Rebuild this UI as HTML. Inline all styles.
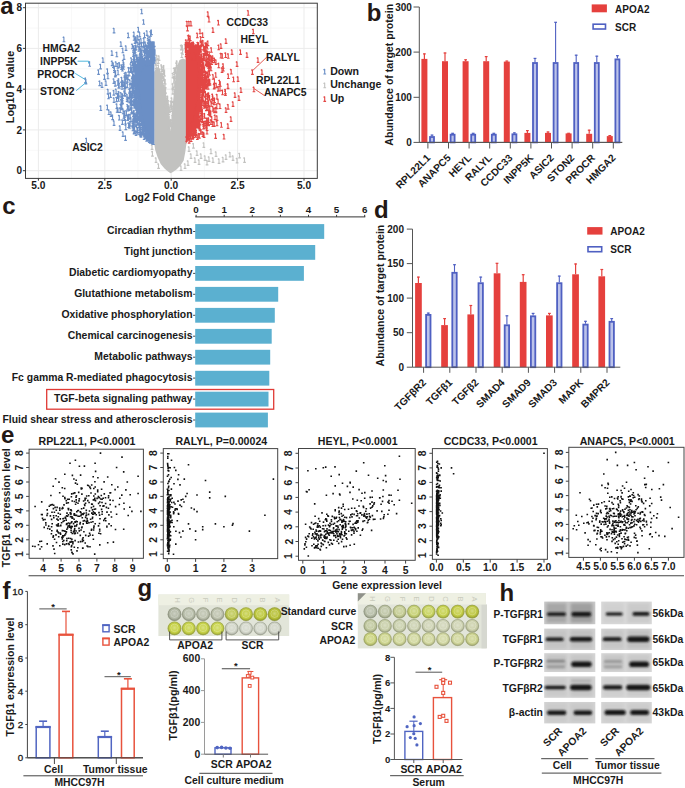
<!DOCTYPE html>
<html><head><meta charset="utf-8"><style>
html,body{margin:0;padding:0;background:#fff;}
body{width:685px;height:788px;overflow:hidden;}
svg{display:block;font-family:"Liberation Sans",sans-serif;font-weight:bold;}
</style></head><body>
<svg width="685" height="788" viewBox="0 0 685 788">
<line x1="71.6" y1="3.2" x2="71.6" y2="178.4" stroke="#f3f3f3" stroke-width="0.6"/>
<line x1="138" y1="3.2" x2="138" y2="178.4" stroke="#f3f3f3" stroke-width="0.6"/>
<line x1="204.4" y1="3.2" x2="204.4" y2="178.4" stroke="#f3f3f3" stroke-width="0.6"/>
<line x1="270.8" y1="3.2" x2="270.8" y2="178.4" stroke="#f3f3f3" stroke-width="0.6"/>
<line x1="25.5" y1="150.3" x2="317.3" y2="150.3" stroke="#f3f3f3" stroke-width="0.6"/>
<line x1="25.5" y1="109.6" x2="317.3" y2="109.6" stroke="#f3f3f3" stroke-width="0.6"/>
<line x1="25.5" y1="68.8" x2="317.3" y2="68.8" stroke="#f3f3f3" stroke-width="0.6"/>
<line x1="25.5" y1="28.1" x2="317.3" y2="28.1" stroke="#f3f3f3" stroke-width="0.6"/>
<line x1="38.4" y1="3.2" x2="38.4" y2="178.4" stroke="#ebebeb" stroke-width="1"/>
<line x1="104.8" y1="3.2" x2="104.8" y2="178.4" stroke="#ebebeb" stroke-width="1"/>
<line x1="171.2" y1="3.2" x2="171.2" y2="178.4" stroke="#ebebeb" stroke-width="1"/>
<line x1="237.6" y1="3.2" x2="237.6" y2="178.4" stroke="#ebebeb" stroke-width="1"/>
<line x1="304" y1="3.2" x2="304" y2="178.4" stroke="#ebebeb" stroke-width="1"/>
<line x1="25.5" y1="170.7" x2="317.3" y2="170.7" stroke="#ebebeb" stroke-width="1"/>
<line x1="25.5" y1="129.9" x2="317.3" y2="129.9" stroke="#ebebeb" stroke-width="1"/>
<line x1="25.5" y1="89.2" x2="317.3" y2="89.2" stroke="#ebebeb" stroke-width="1"/>
<line x1="25.5" y1="48.4" x2="317.3" y2="48.4" stroke="#ebebeb" stroke-width="1"/>
<line x1="25.5" y1="7.7" x2="317.3" y2="7.7" stroke="#ebebeb" stroke-width="1"/>
<path d="M154.3 72L156.5 67L159.5 68L161.5 75L163.5 84L166 93.3L167.6 105L168.6 115L169.5 124L170.4 131L171.2 124L172 112L173.2 100L174.5 88L175.8 76L177.2 66L179.5 60L183 58.5L186.4 60L186.4 144L185.3 152L183.7 160.5L180.5 165.5L176.5 169.5L172.5 172.3L170.5 173.2L168 171.5L164.5 168.5L160.7 164L157.5 157L155.2 150L154.3 144Z" stroke="none" fill="#c2c2c0" stroke-width="1"/>
<path d="M154.4 61L150 59.5L145 61L141 64L138.5 70L137 78L136.5 88L137.5 100L139.5 114L142.5 125L146.5 134L150.5 140.5L154.4 144Z" stroke="none" fill="#6b8fc6" stroke-width="1"/>
<path d="M185.9 55L189 50.5L194 50L198.5 54L200.3 62L200.3 80L199.5 100L197.5 112L194 124L190.5 134L187.5 141L185.9 144Z" stroke="none" fill="#e34644" stroke-width="1"/>
<path d="M193.4 143.1v5m-1.3 0h2.7M193.4 143.1l-1.2 1M203.8 142.4v5m-1.3 0h2.7M203.8 142.4l-1.2 1M211 148.6v5m-1.3 0h2.7M211 148.6l-1.2 1M216 151.4v5m-1.3 0h2.7M216 151.4l-1.2 1M230 151.9v5m-1.3 0h2.7M230 151.9l-1.2 1M226 154.4v5m-1.3 0h2.7M226 154.4l-1.2 1M244.5 157.4v5m-1.3 0h2.7M244.5 157.4l-1.2 1M197 150.4v5m-1.3 0h2.7M197 150.4l-1.2 1M201 153.4v5m-1.3 0h2.7M201 153.4l-1.2 1M205 155.4v5m-1.3 0h2.7M205 155.4l-1.2 1M209 156.4v5m-1.3 0h2.7M209 156.4l-1.2 1M213 157.4v5m-1.3 0h2.7M213 157.4l-1.2 1M219 158.4v5m-1.3 0h2.7M219 158.4l-1.2 1M223 156.9v5m-1.3 0h2.7M223 156.9l-1.2 1M233 155.4v5m-1.3 0h2.7M233 155.4l-1.2 1M237 157.9v5m-1.3 0h2.7M237 157.9l-1.2 1M189 146.4v5m-1.3 0h2.7M189 146.4l-1.2 1M191 153.4v5m-1.3 0h2.7M191 153.4l-1.2 1M195 157.4v5m-1.3 0h2.7M195 157.4l-1.2 1M188 160.4v5m-1.3 0h2.7M188 160.4l-1.2 1M199 159.4v5m-1.3 0h2.7M199 159.4l-1.2 1M207 159.9v5m-1.3 0h2.7M207 159.9l-1.2 1M185 163.4v5m-1.3 0h2.7M185 163.4l-1.2 1M181 165.4v5m-1.3 0h2.7M181 165.4l-1.2 1M239.5 152.9v5m-1.3 0h2.7M239.5 152.9l-1.2 1M152.4 151.1v5m-1.3 0h2.7M152.4 151.1l-1.2 1M152 144.4v5m-1.3 0h2.7M152 144.4l-1.2 1M156 157.4v5m-1.3 0h2.7M156 157.4l-1.2 1M158.5 163.4v5m-1.3 0h2.7M158.5 163.4l-1.2 1M164 75.8v5m-1.3 0h2.7M164 75.8l-1.2 1M165.1 82.6v5m-1.3 0h2.7M165.1 82.6l-1.2 1M163.4 66.4v5m-1.3 0h2.7M163.4 66.4l-1.2 1M163.7 68.7v5m-1.3 0h2.7M163.7 68.7l-1.2 1M167.7 112.7v5m-1.3 0h2.7M167.7 112.7l-1.2 1M169.4 107.4v5m-1.3 0h2.7M169.4 107.4l-1.2 1M174.8 73.9v5m-1.3 0h2.7M174.8 73.9l-1.2 1M161.8 75.2v5m-1.3 0h2.7M161.8 75.2l-1.2 1M169 106.3v5m-1.3 0h2.7M169 106.3l-1.2 1M165.4 98.6v5m-1.3 0h2.7M165.4 98.6l-1.2 1M168.1 99.9v5m-1.3 0h2.7M168.1 99.9l-1.2 1M175.4 68.4v5m-1.3 0h2.7M175.4 68.4l-1.2 1M174 78v5m-1.3 0h2.7M174 78l-1.2 1M171.6 103.1v5m-1.3 0h2.7M171.6 103.1l-1.2 1M163.4 85.7v5m-1.3 0h2.7M163.4 85.7l-1.2 1M169.3 115.7v5m-1.3 0h2.7M169.3 115.7l-1.2 1M174.8 67.5v5m-1.3 0h2.7M174.8 67.5l-1.2 1M163.9 92.9v5m-1.3 0h2.7M163.9 92.9l-1.2 1M162.5 80.6v5m-1.3 0h2.7M162.5 80.6l-1.2 1M167.1 107v5m-1.3 0h2.7M167.1 107l-1.2 1M172.5 119.5v5m-1.3 0h2.7M172.5 119.5l-1.2 1M167.9 116.4v5m-1.3 0h2.7M167.9 116.4l-1.2 1M176.4 62.3v5m-1.3 0h2.7M176.4 62.3l-1.2 1M165 83.2v5m-1.3 0h2.7M165 83.2l-1.2 1M168.8 105.9v5m-1.3 0h2.7M168.8 105.9l-1.2 1M172.7 83.3v5m-1.3 0h2.7M172.7 83.3l-1.2 1M176.2 67.9v5m-1.3 0h2.7M176.2 67.9l-1.2 1M165.6 106.7v5m-1.3 0h2.7M165.6 106.7l-1.2 1M161.9 70.9v5m-1.3 0h2.7M161.9 70.9l-1.2 1M163.8 85.1v5m-1.3 0h2.7M163.8 85.1l-1.2 1M168.2 101.9v5m-1.3 0h2.7M168.2 101.9l-1.2 1M171.8 97.5v5m-1.3 0h2.7M171.8 97.5l-1.2 1M173 88.7v5m-1.3 0h2.7M173 88.7l-1.2 1M177 60.5v5m-1.3 0h2.7M177 60.5l-1.2 1M165.2 79v5m-1.3 0h2.7M165.2 79l-1.2 1M165.5 99.9v5m-1.3 0h2.7M165.5 99.9l-1.2 1M174.2 67.6v5m-1.3 0h2.7M174.2 67.6l-1.2 1M169.3 119.8v5m-1.3 0h2.7M169.3 119.8l-1.2 1M168.3 105.6v5m-1.3 0h2.7M168.3 105.6l-1.2 1M166.9 114.3v5m-1.3 0h2.7M166.9 114.3l-1.2 1M171.3 121.9v5m-1.3 0h2.7M171.3 121.9l-1.2 1M173.5 105.4v5m-1.3 0h2.7M173.5 105.4l-1.2 1M165 101.2v5m-1.3 0h2.7M165 101.2l-1.2 1M167.4 105.8v5m-1.3 0h2.7M167.4 105.8l-1.2 1M170.4 120.7v5m-1.3 0h2.7M170.4 120.7l-1.2 1M176.9 63.2v5m-1.3 0h2.7M176.9 63.2l-1.2 1M176.4 77.4v5m-1.3 0h2.7M176.4 77.4l-1.2 1M171.5 101.8v5m-1.3 0h2.7M171.5 101.8l-1.2 1M161.4 64.3v5m-1.3 0h2.7M161.4 64.3l-1.2 1M161.6 73.5v5m-1.3 0h2.7M161.6 73.5l-1.2 1M171 106.4v5m-1.3 0h2.7M171 106.4l-1.2 1M174.4 76.1v5m-1.3 0h2.7M174.4 76.1l-1.2 1M168.6 121.2v5m-1.3 0h2.7M168.6 121.2l-1.2 1M169.2 117.9v5m-1.3 0h2.7M169.2 117.9l-1.2 1M174.3 82.1v5m-1.3 0h2.7M174.3 82.1l-1.2 1M168.6 109.8v5m-1.3 0h2.7M168.6 109.8l-1.2 1M167.6 99.3v5m-1.3 0h2.7M167.6 99.3l-1.2 1M167.7 114.4v5m-1.3 0h2.7M167.7 114.4l-1.2 1M162.6 83.8v5m-1.3 0h2.7M162.6 83.8l-1.2 1M164.5 78.7v5m-1.3 0h2.7M164.5 78.7l-1.2 1M164.5 89.5v5m-1.3 0h2.7M164.5 89.5l-1.2 1M164 90.9v5m-1.3 0h2.7M164 90.9l-1.2 1M163.8 65.1v5m-1.3 0h2.7M163.8 65.1l-1.2 1M168.7 109.2v5m-1.3 0h2.7M168.7 109.2l-1.2 1M169 124.1v5m-1.3 0h2.7M169 124.1l-1.2 1M164.3 92.2v5m-1.3 0h2.7M164.3 92.2l-1.2 1M167.7 95.7v5m-1.3 0h2.7M167.7 95.7l-1.2 1M174.2 102.3v5m-1.3 0h2.7M174.2 102.3l-1.2 1M165.9 102.8v5m-1.3 0h2.7M165.9 102.8l-1.2 1M163.6 69.4v5m-1.3 0h2.7M163.6 69.4l-1.2 1M167.3 115v5m-1.3 0h2.7M167.3 115l-1.2 1M174.2 101.9v5m-1.3 0h2.7M174.2 101.9l-1.2 1M176.3 71.3v5m-1.3 0h2.7M176.3 71.3l-1.2 1M166.5 108.7v5m-1.3 0h2.7M166.5 108.7l-1.2 1M167.9 114v5m-1.3 0h2.7M167.9 114l-1.2 1M167.4 96.2v5m-1.3 0h2.7M167.4 96.2l-1.2 1M163.6 76v5m-1.3 0h2.7M163.6 76l-1.2 1M173.3 101.2v5m-1.3 0h2.7M173.3 101.2l-1.2 1M171 119.2v5m-1.3 0h2.7M171 119.2l-1.2 1M164.8 92.9v5m-1.3 0h2.7M164.8 92.9l-1.2 1M167.1 98.2v5m-1.3 0h2.7M167.1 98.2l-1.2 1M164.6 71v5m-1.3 0h2.7M164.6 71l-1.2 1M161.8 66.2v5m-1.3 0h2.7M161.8 66.2l-1.2 1M172.9 72.8v5m-1.3 0h2.7M172.9 72.8l-1.2 1M172.5 115.1v5m-1.3 0h2.7M172.5 115.1l-1.2 1M165.6 88.1v5m-1.3 0h2.7M165.6 88.1l-1.2 1M165.1 93.9v5m-1.3 0h2.7M165.1 93.9l-1.2 1M174.8 88.9v5m-1.3 0h2.7M174.8 88.9l-1.2 1M168.3 119.2v5m-1.3 0h2.7M168.3 119.2l-1.2 1M172.9 89.2v5m-1.3 0h2.7M172.9 89.2l-1.2 1M162.3 73.1v5m-1.3 0h2.7M162.3 73.1l-1.2 1M175.1 90.3v5m-1.3 0h2.7M175.1 90.3l-1.2 1M173.1 116.7v5m-1.3 0h2.7M173.1 116.7l-1.2 1M170.8 100.7v5m-1.3 0h2.7M170.8 100.7l-1.2 1M171.4 104.4v5m-1.3 0h2.7M171.4 104.4l-1.2 1M158.4 64.6v5m-1.3 0h2.7M158.4 64.6l-1.2 1M181.8 52.5v5m-1.3 0h2.7M181.8 52.5l-1.2 1M156.8 54.9v5m-1.3 0h2.7M156.8 54.9l-1.2 1M185.1 43.8v5m-1.3 0h2.7M185.1 43.8l-1.2 1M156.1 60.3v5m-1.3 0h2.7M156.1 60.3l-1.2 1M181.6 44.6v5m-1.3 0h2.7M181.6 44.6l-1.2 1M159 55.4v5m-1.3 0h2.7M159 55.4l-1.2 1M182.6 49.2v5m-1.3 0h2.7M182.6 49.2l-1.2 1M158.2 58.4v5m-1.3 0h2.7M158.2 58.4l-1.2 1M181.2 45v5m-1.3 0h2.7M181.2 45l-1.2 1M156.1 63.6v5m-1.3 0h2.7M156.1 63.6l-1.2 1M182.4 45v5m-1.3 0h2.7M182.4 45l-1.2 1" stroke="#c2c2c0" fill="none" stroke-width="1.1"/>
<path d="M138.1 73.5v5m-1.3 0h2.7M138.1 73.5l-1.2 1M140.1 105.8v5m-1.3 0h2.7M140.1 105.8l-1.2 1M135.6 94.5v5m-1.3 0h2.7M135.6 94.5l-1.2 1M150.7 47.1v5m-1.3 0h2.7M150.7 47.1l-1.2 1M151.9 45.1v5m-1.3 0h2.7M151.9 45.1l-1.2 1M154.2 48.3v5m-1.3 0h2.7M154.2 48.3l-1.2 1M124.6 83.4v5m-1.3 0h2.7M124.6 83.4l-1.2 1M154.2 53.7v5m-1.3 0h2.7M154.2 53.7l-1.2 1M116.8 103.5v5m-1.3 0h2.7M116.8 103.5l-1.2 1M135.6 98.5v5m-1.3 0h2.7M135.6 98.5l-1.2 1M152.3 138v5m-1.3 0h2.7M152.3 138l-1.2 1M143.5 126.4v5m-1.3 0h2.7M143.5 126.4l-1.2 1M154.2 55.7v5m-1.3 0h2.7M154.2 55.7l-1.2 1M126.1 71.9v5m-1.3 0h2.7M126.1 71.9l-1.2 1M138.8 59.3v5m-1.3 0h2.7M138.8 59.3l-1.2 1M136.8 104.7v5m-1.3 0h2.7M136.8 104.7l-1.2 1M138.8 95.6v5m-1.3 0h2.7M138.8 95.6l-1.2 1M154.2 47.3v5m-1.3 0h2.7M154.2 47.3l-1.2 1M136.7 108.8v5m-1.3 0h2.7M136.7 108.8l-1.2 1M132.5 72.5v5m-1.3 0h2.7M132.5 72.5l-1.2 1M135.7 86.3v5m-1.3 0h2.7M135.7 86.3l-1.2 1M134.3 120v5m-1.3 0h2.7M134.3 120l-1.2 1M134.4 65.6v5m-1.3 0h2.7M134.4 65.6l-1.2 1M122.5 93.4v5m-1.3 0h2.7M122.5 93.4l-1.2 1M139.4 113.6v5m-1.3 0h2.7M139.4 113.6l-1.2 1M152.1 138.4v5m-1.3 0h2.7M152.1 138.4l-1.2 1M127.3 82.8v5m-1.3 0h2.7M127.3 82.8l-1.2 1M151 56.4v5m-1.3 0h2.7M151 56.4l-1.2 1M147.6 45.3v5m-1.3 0h2.7M147.6 45.3l-1.2 1M136.2 117.1v5m-1.3 0h2.7M136.2 117.1l-1.2 1M144 128.1v5m-1.3 0h2.7M144 128.1l-1.2 1M134.1 110.2v5m-1.3 0h2.7M134.1 110.2l-1.2 1M134.8 98.8v5m-1.3 0h2.7M134.8 98.8l-1.2 1M130 88.3v5m-1.3 0h2.7M130 88.3l-1.2 1M146.7 47.4v5m-1.3 0h2.7M146.7 47.4l-1.2 1M100.8 105.5v5m-1.3 0h2.7M100.8 105.5l-1.2 1M142 122.8v5m-1.3 0h2.7M142 122.8l-1.2 1M130 79.6v5m-1.3 0h2.7M130 79.6l-1.2 1M151.4 43.6v5m-1.3 0h2.7M151.4 43.6l-1.2 1M154.2 58v5m-1.3 0h2.7M154.2 58l-1.2 1M144.7 47.2v5m-1.3 0h2.7M144.7 47.2l-1.2 1M154.1 54.2v5m-1.3 0h2.7M154.1 54.2l-1.2 1M122.4 80.1v5m-1.3 0h2.7M122.4 80.1l-1.2 1M151.6 49.4v5m-1.3 0h2.7M151.6 49.4l-1.2 1M122.2 95.8v5m-1.3 0h2.7M122.2 95.8l-1.2 1M128.6 122.5v5m-1.3 0h2.7M128.6 122.5l-1.2 1M135.9 69v5m-1.3 0h2.7M135.9 69l-1.2 1M121.7 76.9v5m-1.3 0h2.7M121.7 76.9l-1.2 1M150.2 136.2v5m-1.3 0h2.7M150.2 136.2l-1.2 1M144.3 58.8v5m-1.3 0h2.7M144.3 58.8l-1.2 1M136.4 64.5v5m-1.3 0h2.7M136.4 64.5l-1.2 1M137.4 99.7v5m-1.3 0h2.7M137.4 99.7l-1.2 1M152.1 41.8v5m-1.3 0h2.7M152.1 41.8l-1.2 1M132.2 78v5m-1.3 0h2.7M132.2 78l-1.2 1M131.4 92.4v5m-1.3 0h2.7M131.4 92.4l-1.2 1M140.6 108.3v5m-1.3 0h2.7M140.6 108.3l-1.2 1M136 130.5v5m-1.3 0h2.7M136 130.5l-1.2 1M134.2 128v5m-1.3 0h2.7M134.2 128l-1.2 1M134.7 80.2v5m-1.3 0h2.7M134.7 80.2l-1.2 1M148.4 51.7v5m-1.3 0h2.7M148.4 51.7l-1.2 1M154.2 47.6v5m-1.3 0h2.7M154.2 47.6l-1.2 1M141.3 62.1v5m-1.3 0h2.7M141.3 62.1l-1.2 1M138.6 75.1v5m-1.3 0h2.7M138.6 75.1l-1.2 1M154.2 41.4v5m-1.3 0h2.7M154.2 41.4l-1.2 1M152.8 51.4v5m-1.3 0h2.7M152.8 51.4l-1.2 1M139.8 43.9v5m-1.3 0h2.7M139.8 43.9l-1.2 1M138.9 102.2v5m-1.3 0h2.7M138.9 102.2l-1.2 1M137.5 66.4v5m-1.3 0h2.7M137.5 66.4l-1.2 1M137.8 77.5v5m-1.3 0h2.7M137.8 77.5l-1.2 1M133.4 87.5v5m-1.3 0h2.7M133.4 87.5l-1.2 1M154.2 49.9v5m-1.3 0h2.7M154.2 49.9l-1.2 1M136.6 75.3v5m-1.3 0h2.7M136.6 75.3l-1.2 1M143.6 123.5v5m-1.3 0h2.7M143.6 123.5l-1.2 1M132.3 43.7v5m-1.3 0h2.7M132.3 43.7l-1.2 1M137.9 93.7v5m-1.3 0h2.7M137.9 93.7l-1.2 1M139.1 95.2v5m-1.3 0h2.7M139.1 95.2l-1.2 1M108.5 93.7v5m-1.3 0h2.7M108.5 93.7l-1.2 1M137 126.9v5m-1.3 0h2.7M137 126.9l-1.2 1M136.9 67.3v5m-1.3 0h2.7M136.9 67.3l-1.2 1M143.2 57.9v5m-1.3 0h2.7M143.2 57.9l-1.2 1M127.1 94.1v5m-1.3 0h2.7M127.1 94.1l-1.2 1M137.2 74v5m-1.3 0h2.7M137.2 74l-1.2 1M132.9 125.8v5m-1.3 0h2.7M132.9 125.8l-1.2 1M133.7 122.4v5m-1.3 0h2.7M133.7 122.4l-1.2 1M136.1 63.8v5m-1.3 0h2.7M136.1 63.8l-1.2 1M138.7 76.6v5m-1.3 0h2.7M138.7 76.6l-1.2 1M153.8 44.2v5m-1.3 0h2.7M153.8 44.2l-1.2 1M131.2 67.1v5m-1.3 0h2.7M131.2 67.1l-1.2 1M146.6 136.1v5m-1.3 0h2.7M146.6 136.1l-1.2 1M147.7 135.9v5m-1.3 0h2.7M147.7 135.9l-1.2 1M140.2 63.2v5m-1.3 0h2.7M140.2 63.2l-1.2 1M141.9 60.9v5m-1.3 0h2.7M141.9 60.9l-1.2 1M121.9 103.2v5m-1.3 0h2.7M121.9 103.2l-1.2 1M140.3 124.6v5m-1.3 0h2.7M140.3 124.6l-1.2 1M127.9 106v5m-1.3 0h2.7M127.9 106l-1.2 1M147.8 49.8v5m-1.3 0h2.7M147.8 49.8l-1.2 1M137.5 115.7v5m-1.3 0h2.7M137.5 115.7l-1.2 1M133.6 59.1v5m-1.3 0h2.7M133.6 59.1l-1.2 1M126.3 74.3v5m-1.3 0h2.7M126.3 74.3l-1.2 1M115.2 81.1v5m-1.3 0h2.7M115.2 81.1l-1.2 1M140.5 113.2v5m-1.3 0h2.7M140.5 113.2l-1.2 1M154.2 54v5m-1.3 0h2.7M154.2 54l-1.2 1M142.4 55.9v5m-1.3 0h2.7M142.4 55.9l-1.2 1M132.6 76.1v5m-1.3 0h2.7M132.6 76.1l-1.2 1M154.2 54.4v5m-1.3 0h2.7M154.2 54.4l-1.2 1M117.5 93.5v5m-1.3 0h2.7M117.5 93.5l-1.2 1M122.1 84.3v5m-1.3 0h2.7M122.1 84.3l-1.2 1M143 123.2v5m-1.3 0h2.7M143 123.2l-1.2 1M138.2 66.3v5m-1.3 0h2.7M138.2 66.3l-1.2 1M134.3 65.2v5m-1.3 0h2.7M134.3 65.2l-1.2 1M136.3 67.1v5m-1.3 0h2.7M136.3 67.1l-1.2 1M137.1 54.4v5m-1.3 0h2.7M137.1 54.4l-1.2 1M134 76.4v5m-1.3 0h2.7M134 76.4l-1.2 1M121 99.2v5m-1.3 0h2.7M121 99.2l-1.2 1M118.6 83v5m-1.3 0h2.7M118.6 83l-1.2 1M132.9 91.1v5m-1.3 0h2.7M132.9 91.1l-1.2 1M139 93.2v5m-1.3 0h2.7M139 93.2l-1.2 1M136.9 85v5m-1.3 0h2.7M136.9 85l-1.2 1M143.6 41.8v5m-1.3 0h2.7M143.6 41.8l-1.2 1M141.8 58.5v5m-1.3 0h2.7M141.8 58.5l-1.2 1M135.5 113.2v5m-1.3 0h2.7M135.5 113.2l-1.2 1M133.5 73.7v5m-1.3 0h2.7M133.5 73.7l-1.2 1M127.1 96.4v5m-1.3 0h2.7M127.1 96.4l-1.2 1M149.8 51.9v5m-1.3 0h2.7M149.8 51.9l-1.2 1M138.5 66v5m-1.3 0h2.7M138.5 66l-1.2 1M137.6 117.9v5m-1.3 0h2.7M137.6 117.9l-1.2 1M128.1 97v5m-1.3 0h2.7M128.1 97l-1.2 1M144 131.7v5m-1.3 0h2.7M144 131.7l-1.2 1M134.5 102v5m-1.3 0h2.7M134.5 102l-1.2 1M129.6 92.1v5m-1.3 0h2.7M129.6 92.1l-1.2 1M132.5 86.2v5m-1.3 0h2.7M132.5 86.2l-1.2 1M116.1 88.7v5m-1.3 0h2.7M116.1 88.7l-1.2 1M124.7 110.6v5m-1.3 0h2.7M124.7 110.6l-1.2 1M148.1 134.7v5m-1.3 0h2.7M148.1 134.7l-1.2 1M116.5 96.8v5m-1.3 0h2.7M116.5 96.8l-1.2 1M144.3 124.6v5m-1.3 0h2.7M144.3 124.6l-1.2 1M151.7 53.4v5m-1.3 0h2.7M151.7 53.4l-1.2 1M154.2 48.6v5m-1.3 0h2.7M154.2 48.6l-1.2 1M147.5 48.6v5m-1.3 0h2.7M147.5 48.6l-1.2 1M125.4 119v5m-1.3 0h2.7M125.4 119l-1.2 1M146.3 56.7v5m-1.3 0h2.7M146.3 56.7l-1.2 1M139.6 106.8v5m-1.3 0h2.7M139.6 106.8l-1.2 1M117.9 63.1v5m-1.3 0h2.7M117.9 63.1l-1.2 1M133.4 80.8v5m-1.3 0h2.7M133.4 80.8l-1.2 1M148.9 57.4v5m-1.3 0h2.7M148.9 57.4l-1.2 1M135.8 92.4v5m-1.3 0h2.7M135.8 92.4l-1.2 1M140.8 60.8v5m-1.3 0h2.7M140.8 60.8l-1.2 1M141.7 112.9v5m-1.3 0h2.7M141.7 112.9l-1.2 1M134.8 96.3v5m-1.3 0h2.7M134.8 96.3l-1.2 1M153.2 43.2v5m-1.3 0h2.7M153.2 43.2l-1.2 1M134.6 103.2v5m-1.3 0h2.7M134.6 103.2l-1.2 1M122.8 47.8v5m-1.3 0h2.7M122.8 47.8l-1.2 1M153.9 51.8v5m-1.3 0h2.7M153.9 51.8l-1.2 1M144.3 45.3v5m-1.3 0h2.7M144.3 45.3l-1.2 1M139.2 68.2v5m-1.3 0h2.7M139.2 68.2l-1.2 1M119.2 83.2v5m-1.3 0h2.7M119.2 83.2l-1.2 1M142.1 122.5v5m-1.3 0h2.7M142.1 122.5l-1.2 1M136.3 56.2v5m-1.3 0h2.7M136.3 56.2l-1.2 1M129.9 97.9v5m-1.3 0h2.7M129.9 97.9l-1.2 1M154.2 50.3v5m-1.3 0h2.7M154.2 50.3l-1.2 1M136.8 109.5v5m-1.3 0h2.7M136.8 109.5l-1.2 1M134.1 48.6v5m-1.3 0h2.7M134.1 48.6l-1.2 1M127.5 104.2v5m-1.3 0h2.7M127.5 104.2l-1.2 1M140.9 49.7v5m-1.3 0h2.7M140.9 49.7l-1.2 1M140.5 48v5m-1.3 0h2.7M140.5 48l-1.2 1M135.3 86.3v5m-1.3 0h2.7M135.3 86.3l-1.2 1M118.5 96.2v5m-1.3 0h2.7M118.5 96.2l-1.2 1M139.3 67.9v5m-1.3 0h2.7M139.3 67.9l-1.2 1M137 93.6v5m-1.3 0h2.7M137 93.6l-1.2 1M154.2 52.2v5m-1.3 0h2.7M154.2 52.2l-1.2 1M154.2 46.4v5m-1.3 0h2.7M154.2 46.4l-1.2 1M136.7 72.3v5m-1.3 0h2.7M136.7 72.3l-1.2 1M140.2 116.6v5m-1.3 0h2.7M140.2 116.6l-1.2 1M137.4 90.9v5m-1.3 0h2.7M137.4 90.9l-1.2 1M138.8 75.8v5m-1.3 0h2.7M138.8 75.8l-1.2 1M140.9 66.2v5m-1.3 0h2.7M140.9 66.2l-1.2 1M135.8 114v5m-1.3 0h2.7M135.8 114l-1.2 1M139.5 60.2v5m-1.3 0h2.7M139.5 60.2l-1.2 1M149.2 133.9v5m-1.3 0h2.7M149.2 133.9l-1.2 1M140 122.5v5m-1.3 0h2.7M140 122.5l-1.2 1M124.5 90.4v5m-1.3 0h2.7M124.5 90.4l-1.2 1M133.1 80.3v5m-1.3 0h2.7M133.1 80.3l-1.2 1M108.9 109.5v5m-1.3 0h2.7M108.9 109.5l-1.2 1M124.7 75.3v5m-1.3 0h2.7M124.7 75.3l-1.2 1M133.4 111.4v5m-1.3 0h2.7M133.4 111.4l-1.2 1M135.3 81.5v5m-1.3 0h2.7M135.3 81.5l-1.2 1M154.2 46.8v5m-1.3 0h2.7M154.2 46.8l-1.2 1M145.6 48.4v5m-1.3 0h2.7M145.6 48.4l-1.2 1M139.4 66.7v5m-1.3 0h2.7M139.4 66.7l-1.2 1M141.7 49.8v5m-1.3 0h2.7M141.7 49.8l-1.2 1M137.9 127.6v5m-1.3 0h2.7M137.9 127.6l-1.2 1M137.9 69.3v5m-1.3 0h2.7M137.9 69.3l-1.2 1M135 70.4v5m-1.3 0h2.7M135 70.4l-1.2 1M147.6 57v5m-1.3 0h2.7M147.6 57l-1.2 1M114.4 67.5v5m-1.3 0h2.7M114.4 67.5l-1.2 1M114.3 65.6v5m-1.3 0h2.7M114.3 65.6l-1.2 1M136.1 72v5m-1.3 0h2.7M136.1 72l-1.2 1M152.6 41.5v5m-1.3 0h2.7M152.6 41.5l-1.2 1M133.2 88.4v5m-1.3 0h2.7M133.2 88.4l-1.2 1M137.5 61.3v5m-1.3 0h2.7M137.5 61.3l-1.2 1M153.9 41.9v5m-1.3 0h2.7M153.9 41.9l-1.2 1M152.3 50.3v5m-1.3 0h2.7M152.3 50.3l-1.2 1M154.2 45.5v5m-1.3 0h2.7M154.2 45.5l-1.2 1M137.6 71.5v5m-1.3 0h2.7M137.6 71.5l-1.2 1M133.8 99.4v5m-1.3 0h2.7M133.8 99.4l-1.2 1M134.1 115.7v5m-1.3 0h2.7M134.1 115.7l-1.2 1M124.8 112.3v5m-1.3 0h2.7M124.8 112.3l-1.2 1M135.6 80v5m-1.3 0h2.7M135.6 80l-1.2 1M152.3 138.9v5m-1.3 0h2.7M152.3 138.9l-1.2 1M133.7 113.1v5m-1.3 0h2.7M133.7 113.1l-1.2 1M142 45.7v5m-1.3 0h2.7M142 45.7l-1.2 1M139.8 129.7v5m-1.3 0h2.7M139.8 129.7l-1.2 1M128.8 114.1v5m-1.3 0h2.7M128.8 114.1l-1.2 1M150.5 55.2v5m-1.3 0h2.7M150.5 55.2l-1.2 1M124.6 91.3v5m-1.3 0h2.7M124.6 91.3l-1.2 1M130.1 121.1v5m-1.3 0h2.7M130.1 121.1l-1.2 1M121.9 99.2v5m-1.3 0h2.7M121.9 99.2l-1.2 1M131.7 109v5m-1.3 0h2.7M131.7 109l-1.2 1M141.6 64.2v5m-1.3 0h2.7M141.6 64.2l-1.2 1M152.8 54.6v5m-1.3 0h2.7M152.8 54.6l-1.2 1M141.9 51.8v5m-1.3 0h2.7M141.9 51.8l-1.2 1M131.5 96.7v5m-1.3 0h2.7M131.5 96.7l-1.2 1M131.2 103.4v5m-1.3 0h2.7M131.2 103.4l-1.2 1M138.8 89.8v5m-1.3 0h2.7M138.8 89.8l-1.2 1M132.9 120.4v5m-1.3 0h2.7M132.9 120.4l-1.2 1M132.9 91.2v5m-1.3 0h2.7M132.9 91.2l-1.2 1M140.3 106.7v5m-1.3 0h2.7M140.3 106.7l-1.2 1M140 114.3v5m-1.3 0h2.7M140 114.3l-1.2 1M153.9 48.8v5m-1.3 0h2.7M153.9 48.8l-1.2 1M140.3 113.6v5m-1.3 0h2.7M140.3 113.6l-1.2 1M112.6 114.6v5m-1.3 0h2.7M112.6 114.6l-1.2 1M135.1 90.3v5m-1.3 0h2.7M135.1 90.3l-1.2 1M129.6 88.8v5m-1.3 0h2.7M129.6 88.8l-1.2 1M135.4 117.3v5m-1.3 0h2.7M135.4 117.3l-1.2 1M139.9 105v5m-1.3 0h2.7M139.9 105l-1.2 1M154.1 56v5m-1.3 0h2.7M154.1 56l-1.2 1M139.6 115v5m-1.3 0h2.7M139.6 115l-1.2 1M139.4 97.6v5m-1.3 0h2.7M139.4 97.6l-1.2 1M153.9 47.4v5m-1.3 0h2.7M153.9 47.4l-1.2 1M131.6 107.9v5m-1.3 0h2.7M131.6 107.9l-1.2 1M138.3 108.3v5m-1.3 0h2.7M138.3 108.3l-1.2 1M134.1 92.5v5m-1.3 0h2.7M134.1 92.5l-1.2 1M137.7 87.6v5m-1.3 0h2.7M137.7 87.6l-1.2 1M146 129.9v5m-1.3 0h2.7M146 129.9l-1.2 1M151.5 43.1v5m-1.3 0h2.7M151.5 43.1l-1.2 1M136 85.9v5m-1.3 0h2.7M136 85.9l-1.2 1M119.4 62.2v5m-1.3 0h2.7M119.4 62.2l-1.2 1M135.7 62.3v5m-1.3 0h2.7M135.7 62.3l-1.2 1M150.5 55.4v5m-1.3 0h2.7M150.5 55.4l-1.2 1M150 135.7v5m-1.3 0h2.7M150 135.7l-1.2 1M138.9 122.6v5m-1.3 0h2.7M138.9 122.6l-1.2 1M137.8 129.2v5m-1.3 0h2.7M137.8 129.2l-1.2 1M123.5 64.3v5m-1.3 0h2.7M123.5 64.3l-1.2 1M138.6 89.5v5m-1.3 0h2.7M138.6 89.5l-1.2 1M151 41.8v5m-1.3 0h2.7M151 41.8l-1.2 1M135.7 86v5m-1.3 0h2.7M135.7 86l-1.2 1M153 55.3v5m-1.3 0h2.7M153 55.3l-1.2 1M124.8 72.7v5m-1.3 0h2.7M124.8 72.7l-1.2 1M145.3 41.6v5m-1.3 0h2.7M145.3 41.6l-1.2 1M144.4 124.5v5m-1.3 0h2.7M144.4 124.5l-1.2 1M145.4 130.7v5m-1.3 0h2.7M145.4 130.7l-1.2 1M134.9 78.2v5m-1.3 0h2.7M134.9 78.2l-1.2 1M134.4 77.1v5m-1.3 0h2.7M134.4 77.1l-1.2 1M139.9 68.6v5m-1.3 0h2.7M139.9 68.6l-1.2 1M142 51.5v5m-1.3 0h2.7M142 51.5l-1.2 1M118.1 69.7v5m-1.3 0h2.7M118.1 69.7l-1.2 1M138.6 66.1v5m-1.3 0h2.7M138.6 66.1l-1.2 1M137.4 92v5m-1.3 0h2.7M137.4 92l-1.2 1M113.8 78.4v5m-1.3 0h2.7M113.8 78.4l-1.2 1M134 128.9v5m-1.3 0h2.7M134 128.9l-1.2 1M120.8 103.9v5m-1.3 0h2.7M120.8 103.9l-1.2 1M144.1 134.5v5m-1.3 0h2.7M144.1 134.5l-1.2 1M141.4 112.6v5m-1.3 0h2.7M141.4 112.6l-1.2 1M137.4 113.9v5m-1.3 0h2.7M137.4 113.9l-1.2 1M134.5 115.9v5m-1.3 0h2.7M134.5 115.9l-1.2 1M139.7 69.7v5m-1.3 0h2.7M139.7 69.7l-1.2 1M148.5 133.2v5m-1.3 0h2.7M148.5 133.2l-1.2 1M135.4 88.1v5m-1.3 0h2.7M135.4 88.1l-1.2 1M129.1 70.9v5m-1.3 0h2.7M129.1 70.9l-1.2 1M150.3 138.1v5m-1.3 0h2.7M150.3 138.1l-1.2 1M137.9 106.3v5m-1.3 0h2.7M137.9 106.3l-1.2 1M135.4 96.6v5m-1.3 0h2.7M135.4 96.6l-1.2 1M153.7 58v5m-1.3 0h2.7M153.7 58l-1.2 1M123.8 62v5m-1.3 0h2.7M123.8 62l-1.2 1M136.9 90.6v5m-1.3 0h2.7M136.9 90.6l-1.2 1M137.3 85.9v5m-1.3 0h2.7M137.3 85.9l-1.2 1M143.5 60.4v5m-1.3 0h2.7M143.5 60.4l-1.2 1M138.3 75.3v5m-1.3 0h2.7M138.3 75.3l-1.2 1M139.1 65.1v5m-1.3 0h2.7M139.1 65.1l-1.2 1M122.1 97.8v5m-1.3 0h2.7M122.1 97.8l-1.2 1M138.4 115.6v5m-1.3 0h2.7M138.4 115.6l-1.2 1M132.7 82.4v5m-1.3 0h2.7M132.7 82.4l-1.2 1M135.5 78.7v5m-1.3 0h2.7M135.5 78.7l-1.2 1M153.8 47.5v5m-1.3 0h2.7M153.8 47.5l-1.2 1M151 137.2v5m-1.3 0h2.7M151 137.2l-1.2 1M131 91.2v5m-1.3 0h2.7M131 91.2l-1.2 1M144.5 126.8v5m-1.3 0h2.7M144.5 126.8l-1.2 1M138.1 68.2v5m-1.3 0h2.7M138.1 68.2l-1.2 1M134 81v5m-1.3 0h2.7M134 81l-1.2 1M146.7 127.8v5m-1.3 0h2.7M146.7 127.8l-1.2 1M146.5 44.6v5m-1.3 0h2.7M146.5 44.6l-1.2 1M142.8 130.1v5m-1.3 0h2.7M142.8 130.1l-1.2 1M139.8 99.5v5m-1.3 0h2.7M139.8 99.5l-1.2 1M117.8 80.2v5m-1.3 0h2.7M117.8 80.2l-1.2 1M129.4 123.1v5m-1.3 0h2.7M129.4 123.1l-1.2 1M150.1 137.7v5m-1.3 0h2.7M150.1 137.7l-1.2 1M154.2 52.2v5m-1.3 0h2.7M154.2 52.2l-1.2 1M130 93.1v5m-1.3 0h2.7M130 93.1l-1.2 1M129.1 105.5v5m-1.3 0h2.7M129.1 105.5l-1.2 1M132.2 86.7v5m-1.3 0h2.7M132.2 86.7l-1.2 1M144.2 45.3v5m-1.3 0h2.7M144.2 45.3l-1.2 1M121.5 64.4v5m-1.3 0h2.7M121.5 64.4l-1.2 1M137.7 105.3v5m-1.3 0h2.7M137.7 105.3l-1.2 1M154.1 54.1v5m-1.3 0h2.7M154.1 54.1l-1.2 1M130.9 104.4v5m-1.3 0h2.7M130.9 104.4l-1.2 1M154.2 52.5v5m-1.3 0h2.7M154.2 52.5l-1.2 1M132.2 93.3v5m-1.3 0h2.7M132.2 93.3l-1.2 1M136.8 79.8v5m-1.3 0h2.7M136.8 79.8l-1.2 1M139.9 100.9v5m-1.3 0h2.7M139.9 100.9l-1.2 1M134.8 71.3v5m-1.3 0h2.7M134.8 71.3l-1.2 1M142.2 128.9v5m-1.3 0h2.7M142.2 128.9l-1.2 1M139.4 64.6v5m-1.3 0h2.7M139.4 64.6l-1.2 1M139.5 71.8v5m-1.3 0h2.7M139.5 71.8l-1.2 1M130 90.7v5m-1.3 0h2.7M130 90.7l-1.2 1M136.2 83v5m-1.3 0h2.7M136.2 83l-1.2 1M120.2 107.5v5m-1.3 0h2.7M120.2 107.5l-1.2 1M141.7 63.9v5m-1.3 0h2.7M141.7 63.9l-1.2 1M134.7 74.9v5m-1.3 0h2.7M134.7 74.9l-1.2 1M139.4 109v5m-1.3 0h2.7M139.4 109l-1.2 1M133.2 120.3v5m-1.3 0h2.7M133.2 120.3l-1.2 1M137.2 91.4v5m-1.3 0h2.7M137.2 91.4l-1.2 1M149.2 137.4v5m-1.3 0h2.7M149.2 137.4l-1.2 1M142.5 122.6v5m-1.3 0h2.7M142.5 122.6l-1.2 1M130.8 63.3v5m-1.3 0h2.7M130.8 63.3l-1.2 1M115.6 70.6v5m-1.3 0h2.7M115.6 70.6l-1.2 1M137.3 90.5v5m-1.3 0h2.7M137.3 90.5l-1.2 1M137.8 63.5v5m-1.3 0h2.7M137.8 63.5l-1.2 1M117.1 107.3v5m-1.3 0h2.7M117.1 107.3l-1.2 1M152.4 55.9v5m-1.3 0h2.7M152.4 55.9l-1.2 1M113.3 62.5v5m-1.3 0h2.7M113.3 62.5l-1.2 1M154.2 55.4v5m-1.3 0h2.7M154.2 55.4l-1.2 1M152.4 47.4v5m-1.3 0h2.7M152.4 47.4l-1.2 1M146.7 133.6v5m-1.3 0h2.7M146.7 133.6l-1.2 1M123.2 59.8v5m-1.3 0h2.7M123.2 59.8l-1.2 1M142.3 115.3v5m-1.3 0h2.7M142.3 115.3l-1.2 1M137.1 107.2v5m-1.3 0h2.7M137.1 107.2l-1.2 1M135.6 78.4v5m-1.3 0h2.7M135.6 78.4l-1.2 1M154.2 58.2v5m-1.3 0h2.7M154.2 58.2l-1.2 1M136.7 69.1v5m-1.3 0h2.7M136.7 69.1l-1.2 1M150.3 136v5m-1.3 0h2.7M150.3 136l-1.2 1M150 136.9v5m-1.3 0h2.7M150 136.9l-1.2 1M125.1 76.7v5m-1.3 0h2.7M125.1 76.7l-1.2 1M140.1 122.8v5m-1.3 0h2.7M140.1 122.8l-1.2 1M151.3 46.3v5m-1.3 0h2.7M151.3 46.3l-1.2 1M118.7 78.3v5m-1.3 0h2.7M118.7 78.3l-1.2 1M140.6 60.5v5m-1.3 0h2.7M140.6 60.5l-1.2 1M147.7 130.2v5m-1.3 0h2.7M147.7 130.2l-1.2 1M125.3 82.1v5m-1.3 0h2.7M125.3 82.1l-1.2 1M142.8 117.3v5m-1.3 0h2.7M142.8 117.3l-1.2 1M154.2 44.9v5m-1.3 0h2.7M154.2 44.9l-1.2 1M146.8 132.5v5m-1.3 0h2.7M146.8 132.5l-1.2 1M124.3 115.4v5m-1.3 0h2.7M124.3 115.4l-1.2 1M136.5 75v5m-1.3 0h2.7M136.5 75l-1.2 1M130.4 67.4v5m-1.3 0h2.7M130.4 67.4l-1.2 1M136.9 72.7v5m-1.3 0h2.7M136.9 72.7l-1.2 1M145.1 41.8v5m-1.3 0h2.7M145.1 41.8l-1.2 1M140.9 132.1v5m-1.3 0h2.7M140.9 132.1l-1.2 1M150.4 134.8v5m-1.3 0h2.7M150.4 134.8l-1.2 1M136.5 64.6v5m-1.3 0h2.7M136.5 64.6l-1.2 1M136.5 79.7v5m-1.3 0h2.7M136.5 79.7l-1.2 1M133.1 84v5m-1.3 0h2.7M133.1 84l-1.2 1M148 133.3v5m-1.3 0h2.7M148 133.3l-1.2 1M133.3 120.9v5m-1.3 0h2.7M133.3 120.9l-1.2 1M132.8 122.9v5m-1.3 0h2.7M132.8 122.9l-1.2 1M136.9 101.5v5m-1.3 0h2.7M136.9 101.5l-1.2 1M135.8 73v5m-1.3 0h2.7M135.8 73l-1.2 1M142.9 118.8v5m-1.3 0h2.7M142.9 118.8l-1.2 1M132.4 60.9v5m-1.3 0h2.7M132.4 60.9l-1.2 1M140.6 65.9v5m-1.3 0h2.7M140.6 65.9l-1.2 1M150 44.8v5m-1.3 0h2.7M150 44.8l-1.2 1M107.9 73.7v5m-1.3 0h2.7M107.9 73.7l-1.2 1M139.8 67.6v5m-1.3 0h2.7M139.8 67.6l-1.2 1M150.9 50.9v5m-1.3 0h2.7M150.9 50.9l-1.2 1M136.8 111.7v5m-1.3 0h2.7M136.8 111.7l-1.2 1M137.4 64.6v5m-1.3 0h2.7M137.4 64.6l-1.2 1M131.3 102.8v5m-1.3 0h2.7M131.3 102.8l-1.2 1M127.6 115.4v5m-1.3 0h2.7M127.6 115.4l-1.2 1M139.9 107.2v5m-1.3 0h2.7M139.9 107.2l-1.2 1M142.7 124.6v5m-1.3 0h2.7M142.7 124.6l-1.2 1M135.8 97.5v5m-1.3 0h2.7M135.8 97.5l-1.2 1M140.6 114.5v5m-1.3 0h2.7M140.6 114.5l-1.2 1M138.9 65.9v5m-1.3 0h2.7M138.9 65.9l-1.2 1M139.2 56.6v5m-1.3 0h2.7M139.2 56.6l-1.2 1M136.5 98.6v5m-1.3 0h2.7M136.5 98.6l-1.2 1M99.7 80.6v5m-1.3 0h2.7M99.7 80.6l-1.2 1M136.9 91.6v5m-1.3 0h2.7M136.9 91.6l-1.2 1M135.8 121.4v5m-1.3 0h2.7M135.8 121.4l-1.2 1M153.4 139.5v5m-1.3 0h2.7M153.4 139.5l-1.2 1M125.1 88.4v5m-1.3 0h2.7M125.1 88.4l-1.2 1M125.8 124.6v5m-1.3 0h2.7M125.8 124.6l-1.2 1M153.6 45.4v5m-1.3 0h2.7M153.6 45.4l-1.2 1M154.2 53.2v5m-1.3 0h2.7M154.2 53.2l-1.2 1M146.1 133.5v5m-1.3 0h2.7M146.1 133.5l-1.2 1M141.8 127.1v5m-1.3 0h2.7M141.8 127.1l-1.2 1M128.6 67.1v5m-1.3 0h2.7M128.6 67.1l-1.2 1M149.8 135v5m-1.3 0h2.7M149.8 135l-1.2 1M132.2 100.4v5m-1.3 0h2.7M132.2 100.4l-1.2 1M138.7 62.9v5m-1.3 0h2.7M138.7 62.9l-1.2 1M154.2 55.4v5m-1.3 0h2.7M154.2 55.4l-1.2 1M133.5 66.6v5m-1.3 0h2.7M133.5 66.6l-1.2 1M138.9 105.9v5m-1.3 0h2.7M138.9 105.9l-1.2 1M153.2 42.5v5m-1.3 0h2.7M153.2 42.5l-1.2 1M139.5 108.6v5m-1.3 0h2.7M139.5 108.6l-1.2 1M137.8 72.3v5m-1.3 0h2.7M137.8 72.3l-1.2 1M137.5 120.1v5m-1.3 0h2.7M137.5 120.1l-1.2 1M154.2 47.7v5m-1.3 0h2.7M154.2 47.7l-1.2 1M132.4 80.5v5m-1.3 0h2.7M132.4 80.5l-1.2 1M139.8 104.7v5m-1.3 0h2.7M139.8 104.7l-1.2 1M144.6 57.6v5m-1.3 0h2.7M144.6 57.6l-1.2 1M136 82v5m-1.3 0h2.7M136 82l-1.2 1M115.2 71.9v5m-1.3 0h2.7M115.2 71.9l-1.2 1M132.9 72.3v5m-1.3 0h2.7M132.9 72.3l-1.2 1M134.6 76.8v5m-1.3 0h2.7M134.6 76.8l-1.2 1M137.1 77.4v5m-1.3 0h2.7M137.1 77.4l-1.2 1M140.2 113.5v5m-1.3 0h2.7M140.2 113.5l-1.2 1M137.8 42v5m-1.3 0h2.7M137.8 42l-1.2 1M124.9 83.4v5m-1.3 0h2.7M124.9 83.4l-1.2 1M121.5 81.6v5m-1.3 0h2.7M121.5 81.6l-1.2 1M137.2 87v5m-1.3 0h2.7M137.2 87l-1.2 1M150 42.9v5m-1.3 0h2.7M150 42.9l-1.2 1M121.3 104.8v5m-1.3 0h2.7M121.3 104.8l-1.2 1M148.6 50.2v5m-1.3 0h2.7M148.6 50.2l-1.2 1M133.2 78.1v5m-1.3 0h2.7M133.2 78.1l-1.2 1M153.7 55.8v5m-1.3 0h2.7M153.7 55.8l-1.2 1M118.4 93v5m-1.3 0h2.7M118.4 93l-1.2 1M151 52.2v5m-1.3 0h2.7M151 52.2l-1.2 1M142.5 60.9v5m-1.3 0h2.7M142.5 60.9l-1.2 1M138.4 89.2v5m-1.3 0h2.7M138.4 89.2l-1.2 1M145.6 133.1v5m-1.3 0h2.7M145.6 133.1l-1.2 1M140.5 130.9v5m-1.3 0h2.7M140.5 130.9l-1.2 1M143.4 123v5m-1.3 0h2.7M143.4 123l-1.2 1M141.6 119.2v5m-1.3 0h2.7M141.6 119.2l-1.2 1M123.7 81.4v5m-1.3 0h2.7M123.7 81.4l-1.2 1M143.4 123.5v5m-1.3 0h2.7M143.4 123.5l-1.2 1M138.3 63v5m-1.3 0h2.7M138.3 63l-1.2 1M135.2 92.7v5m-1.3 0h2.7M135.2 92.7l-1.2 1M154.1 53.6v5m-1.3 0h2.7M154.1 53.6l-1.2 1M123.8 113.2v5m-1.3 0h2.7M123.8 113.2l-1.2 1M149.8 45.5v5m-1.3 0h2.7M149.8 45.5l-1.2 1M142.5 116.4v5m-1.3 0h2.7M142.5 116.4l-1.2 1M144.4 124.4v5m-1.3 0h2.7M144.4 124.4l-1.2 1M133.6 100.8v5m-1.3 0h2.7M133.6 100.8l-1.2 1M137.4 103.5v5m-1.3 0h2.7M137.4 103.5l-1.2 1M131.6 83v5m-1.3 0h2.7M131.6 83l-1.2 1M130 83.5v5m-1.3 0h2.7M130 83.5l-1.2 1M133.9 85.6v5m-1.3 0h2.7M133.9 85.6l-1.2 1M148.7 43.7v5m-1.3 0h2.7M148.7 43.7l-1.2 1M136.7 89.9v5m-1.3 0h2.7M136.7 89.9l-1.2 1M130.9 117v5m-1.3 0h2.7M130.9 117l-1.2 1M137 86.8v5m-1.3 0h2.7M137 86.8l-1.2 1M137.8 88.2v5m-1.3 0h2.7M137.8 88.2l-1.2 1M151.9 54.1v5m-1.3 0h2.7M151.9 54.1l-1.2 1M151.7 50.5v5m-1.3 0h2.7M151.7 50.5l-1.2 1M138.7 91.9v5m-1.3 0h2.7M138.7 91.9l-1.2 1M139.8 104.4v5m-1.3 0h2.7M139.8 104.4l-1.2 1M130.2 114v5m-1.3 0h2.7M130.2 114l-1.2 1M138.6 92v5m-1.3 0h2.7M138.6 92l-1.2 1M135.2 91.3v5m-1.3 0h2.7M135.2 91.3l-1.2 1M149.9 135.5v5m-1.3 0h2.7M149.9 135.5l-1.2 1M128.7 113.9v5m-1.3 0h2.7M128.7 113.9l-1.2 1M112.1 60.6v5m-1.3 0h2.7M112.1 60.6l-1.2 1M113.8 90.1v5m-1.3 0h2.7M113.8 90.1l-1.2 1M147.5 132.1v5m-1.3 0h2.7M147.5 132.1l-1.2 1M122.4 119.4v5m-1.3 0h2.7M122.4 119.4l-1.2 1M152.9 47.9v5m-1.3 0h2.7M152.9 47.9l-1.2 1M141.4 116.3v5m-1.3 0h2.7M141.4 116.3l-1.2 1M145.4 130.2v5m-1.3 0h2.7M145.4 130.2l-1.2 1M143.2 122.1v5m-1.3 0h2.7M143.2 122.1l-1.2 1M118.8 91.1v5m-1.3 0h2.7M118.8 91.1l-1.2 1M140.3 62v5m-1.3 0h2.7M140.3 62l-1.2 1M135.9 91.5v5m-1.3 0h2.7M135.9 91.5l-1.2 1M154.2 45v5m-1.3 0h2.7M154.2 45l-1.2 1M131.3 57.4v5m-1.3 0h2.7M131.3 57.4l-1.2 1M123.1 108.7v5m-1.3 0h2.7M123.1 108.7l-1.2 1M143.2 58.1v5m-1.3 0h2.7M143.2 58.1l-1.2 1M150.3 52.8v5m-1.3 0h2.7M150.3 52.8l-1.2 1M136.9 104.4v5m-1.3 0h2.7M136.9 104.4l-1.2 1M140.4 127.8v5m-1.3 0h2.7M140.4 127.8l-1.2 1M122.6 98.8v5m-1.3 0h2.7M122.6 98.8l-1.2 1M116.8 51.8v5m-1.3 0h2.7M116.8 51.8l-1.2 1M136.4 103.7v5m-1.3 0h2.7M136.4 103.7l-1.2 1M141.5 120.4v5m-1.3 0h2.7M141.5 120.4l-1.2 1M127.3 77.1v5m-1.3 0h2.7M127.3 77.1l-1.2 1M137 85.2v5m-1.3 0h2.7M137 85.2l-1.2 1M142.1 115v5m-1.3 0h2.7M142.1 115l-1.2 1M142.2 122.6v5m-1.3 0h2.7M142.2 122.6l-1.2 1M107.4 104.7v5m-1.3 0h2.7M107.4 104.7l-1.2 1M131.1 99.4v5m-1.3 0h2.7M131.1 99.4l-1.2 1M139.6 72.4v5m-1.3 0h2.7M139.6 72.4l-1.2 1M154.2 44.7v5m-1.3 0h2.7M154.2 44.7l-1.2 1M135.7 102.4v5m-1.3 0h2.7M135.7 102.4l-1.2 1M121 92.2v5m-1.3 0h2.7M121 92.2l-1.2 1M154.2 54.5v5m-1.3 0h2.7M154.2 54.5l-1.2 1M140.6 106.1v5m-1.3 0h2.7M140.6 106.1l-1.2 1M152.9 41.7v5m-1.3 0h2.7M152.9 41.7l-1.2 1M152.9 51.9v5m-1.3 0h2.7M152.9 51.9l-1.2 1M135.1 63.6v5m-1.3 0h2.7M135.1 63.6l-1.2 1M138 99.7v5m-1.3 0h2.7M138 99.7l-1.2 1M135.2 103.2v5m-1.3 0h2.7M135.2 103.2l-1.2 1M134.3 54.7v5m-1.3 0h2.7M134.3 54.7l-1.2 1M140 65.5v5m-1.3 0h2.7M140 65.5l-1.2 1M148.3 50.9v5m-1.3 0h2.7M148.3 50.9l-1.2 1M134.6 127.7v5m-1.3 0h2.7M134.6 127.7l-1.2 1M136.3 81.2v5m-1.3 0h2.7M136.3 81.2l-1.2 1M148.1 42.5v5m-1.3 0h2.7M148.1 42.5l-1.2 1M136 97.1v5m-1.3 0h2.7M136 97.1l-1.2 1M135.9 105.3v5m-1.3 0h2.7M135.9 105.3l-1.2 1M122.4 66v5m-1.3 0h2.7M122.4 66l-1.2 1M150.3 45.8v5m-1.3 0h2.7M150.3 45.8l-1.2 1M136.5 81.6v5m-1.3 0h2.7M136.5 81.6l-1.2 1M144.3 47.2v5m-1.3 0h2.7M144.3 47.2l-1.2 1M150 42.6v5m-1.3 0h2.7M150 42.6l-1.2 1M149.2 134.6v5m-1.3 0h2.7M149.2 134.6l-1.2 1M135.8 61.2v5m-1.3 0h2.7M135.8 61.2l-1.2 1M130.8 91.6v5m-1.3 0h2.7M130.8 91.6l-1.2 1M142.8 121.9v5m-1.3 0h2.7M142.8 121.9l-1.2 1M136.8 72v5m-1.3 0h2.7M136.8 72l-1.2 1M138.8 46.2v5m-1.3 0h2.7M138.8 46.2l-1.2 1M133.5 118.9v5m-1.3 0h2.7M133.5 118.9l-1.2 1M141.5 42v5m-1.3 0h2.7M141.5 42l-1.2 1M137.5 115.2v5m-1.3 0h2.7M137.5 115.2l-1.2 1M137.6 114.8v5m-1.3 0h2.7M137.6 114.8l-1.2 1M141.1 63.8v5m-1.3 0h2.7M141.1 63.8l-1.2 1M141.4 64.4v5m-1.3 0h2.7M141.4 64.4l-1.2 1M128.1 74.6v5m-1.3 0h2.7M128.1 74.6l-1.2 1M126.4 110.2v5m-1.3 0h2.7M126.4 110.2l-1.2 1M139.2 111.9v5m-1.3 0h2.7M139.2 111.9l-1.2 1M134.8 96.2v5m-1.3 0h2.7M134.8 96.2l-1.2 1M137.8 119.5v5m-1.3 0h2.7M137.8 119.5l-1.2 1M132.2 67.7v5m-1.3 0h2.7M132.2 67.7l-1.2 1M150 136.9v5m-1.3 0h2.7M150 136.9l-1.2 1M147.1 128.5v5m-1.3 0h2.7M147.1 128.5l-1.2 1M138.4 67.2v5m-1.3 0h2.7M138.4 67.2l-1.2 1M119.3 115v5m-1.3 0h2.7M119.3 115l-1.2 1M139.4 115.3v5m-1.3 0h2.7M139.4 115.3l-1.2 1M151.7 52.9v5m-1.3 0h2.7M151.7 52.9l-1.2 1M138.1 60.5v5m-1.3 0h2.7M138.1 60.5l-1.2 1M146.4 58v5m-1.3 0h2.7M146.4 58l-1.2 1M147.1 61.2v5m-1.3 0h2.7M147.1 61.2l-1.2 1M143 59.7v5m-1.3 0h2.7M143 59.7l-1.2 1M147.8 59.9v5m-1.3 0h2.7M147.8 59.9l-1.2 1M142.3 58.4v5m-1.3 0h2.7M142.3 58.4l-1.2 1M145.1 52.5v5m-1.3 0h2.7M145.1 52.5l-1.2 1M137.5 57.2v5m-1.3 0h2.7M137.5 57.2l-1.2 1M134.6 60.5v5m-1.3 0h2.7M134.6 60.5l-1.2 1M136.1 44.7v5m-1.3 0h2.7M136.1 44.7l-1.2 1M135.3 60.7v5m-1.3 0h2.7M135.3 60.7l-1.2 1M140.3 48.9v5m-1.3 0h2.7M140.3 48.9l-1.2 1M133.6 45.5v5m-1.3 0h2.7M133.6 45.5l-1.2 1M147.7 57.3v5m-1.3 0h2.7M147.7 57.3l-1.2 1M147.8 58.6v5m-1.3 0h2.7M147.8 58.6l-1.2 1M134.4 56.8v5m-1.3 0h2.7M134.4 56.8l-1.2 1M140.7 59.5v5m-1.3 0h2.7M140.7 59.5l-1.2 1M150.4 60.3v5m-1.3 0h2.7M150.4 60.3l-1.2 1M134.4 60v5m-1.3 0h2.7M134.4 60l-1.2 1M152.4 60.8v5m-1.3 0h2.7M152.4 60.8l-1.2 1M135.3 50.5v5m-1.3 0h2.7M135.3 50.5l-1.2 1M135.4 45.1v5m-1.3 0h2.7M135.4 45.1l-1.2 1M151 59.4v5m-1.3 0h2.7M151 59.4l-1.2 1M146.4 59.6v5m-1.3 0h2.7M146.4 59.6l-1.2 1M146.4 52.1v5m-1.3 0h2.7M146.4 52.1l-1.2 1M135.1 47.7v5m-1.3 0h2.7M135.1 47.7l-1.2 1M149.1 50.5v5m-1.3 0h2.7M149.1 50.5l-1.2 1M139.8 54.4v5m-1.3 0h2.7M139.8 54.4l-1.2 1M133.4 51.5v5m-1.3 0h2.7M133.4 51.5l-1.2 1M139 58.3v5m-1.3 0h2.7M139 58.3l-1.2 1M140.8 52.7v5m-1.3 0h2.7M140.8 52.7l-1.2 1M153.4 55.6v5m-1.3 0h2.7M153.4 55.6l-1.2 1M151 57.1v5m-1.3 0h2.7M151 57.1l-1.2 1M133.7 54.3v5m-1.3 0h2.7M133.7 54.3l-1.2 1M142.3 59v5m-1.3 0h2.7M142.3 59l-1.2 1M140.4 58.2v5m-1.3 0h2.7M140.4 58.2l-1.2 1M144.4 50.7v5m-1.3 0h2.7M144.4 50.7l-1.2 1M151.4 29.6v5m-1.3 0h2.7M151.4 29.6l-1.2 1M150.6 31.2v5m-1.3 0h2.7M150.6 31.2l-1.2 1M134 31.7v5m-1.3 0h2.7M134 31.7l-1.2 1M149.4 39.2v5m-1.3 0h2.7M149.4 39.2l-1.2 1M134.1 35.2v5m-1.3 0h2.7M134.1 35.2l-1.2 1M143.9 37.9v5m-1.3 0h2.7M143.9 37.9l-1.2 1M137.7 35.2v5m-1.3 0h2.7M137.7 35.2l-1.2 1M141 38.2v5m-1.3 0h2.7M141 38.2l-1.2 1M139.3 39v5m-1.3 0h2.7M139.3 39l-1.2 1M139.7 31.9v5m-1.3 0h2.7M139.7 31.9l-1.2 1M148.1 35.3v5m-1.3 0h2.7M148.1 35.3l-1.2 1M136.2 36.6v5m-1.3 0h2.7M136.2 36.6l-1.2 1M135.6 37.8v5m-1.3 0h2.7M135.6 37.8l-1.2 1M148.1 37.8v5m-1.3 0h2.7M148.1 37.8l-1.2 1M141.7 8.8v5m-1.3 0h2.7M141.7 8.8l-1.2 1M143.6 19.3v5m-1.3 0h2.7M143.6 19.3l-1.2 1M138.4 26.9v5m-1.3 0h2.7M138.4 26.9l-1.2 1M114 27.9v5m-1.3 0h2.7M114 27.9l-1.2 1M128.3 32.6v5m-1.3 0h2.7M128.3 32.6l-1.2 1M144.5 32.6v5m-1.3 0h2.7M144.5 32.6l-1.2 1M135 38.4v5m-1.3 0h2.7M135 38.4l-1.2 1M147 30.4v5m-1.3 0h2.7M147 30.4l-1.2 1M150 36.4v5m-1.3 0h2.7M150 36.4l-1.2 1M121 41.4v5m-1.3 0h2.7M121 41.4l-1.2 1M112 50.4v5m-1.3 0h2.7M112 50.4l-1.2 1M100.5 63.9v5m-1.3 0h2.7M100.5 63.9l-1.2 1M103 57.4v5m-1.3 0h2.7M103 57.4l-1.2 1M98.5 69.4v5m-1.3 0h2.7M98.5 69.4l-1.2 1M104.5 74.4v5m-1.3 0h2.7M104.5 74.4l-1.2 1M106 80.4v5m-1.3 0h2.7M106 80.4l-1.2 1M102 82.4v5m-1.3 0h2.7M102 82.4l-1.2 1M108 88.9v5m-1.3 0h2.7M108 88.9l-1.2 1M110.5 92.4v5m-1.3 0h2.7M110.5 92.4l-1.2 1M114 97.4v5m-1.3 0h2.7M114 97.4l-1.2 1M111 111.4v5m-1.3 0h2.7M111 111.4l-1.2 1M114 120.4v5m-1.3 0h2.7M114 120.4l-1.2 1M120 125.4v5m-1.3 0h2.7M120 125.4l-1.2 1M123 131.4v5m-1.3 0h2.7M123 131.4l-1.2 1M125.5 135.4v5m-1.3 0h2.7M125.5 135.4l-1.2 1M118 107.4v5m-1.3 0h2.7M118 107.4l-1.2 1M107.5 68.4v5m-1.3 0h2.7M107.5 68.4l-1.2 1M116 61.4v5m-1.3 0h2.7M116 61.4l-1.2 1M124 54.4v5m-1.3 0h2.7M124 54.4l-1.2 1M126 45.4v5m-1.3 0h2.7M126 45.4l-1.2 1" stroke="#6b8fc6" fill="none" stroke-width="1.1"/>
<path d="M200 102.3v5m-1.3 0h2.7M200 102.3l-1.2 1M201.9 80.3v5m-1.3 0h2.7M201.9 80.3l-1.2 1M190.4 127.8v5m-1.3 0h2.7M190.4 127.8l-1.2 1M190 127.6v5m-1.3 0h2.7M190 127.6l-1.2 1M200.6 61.4v5m-1.3 0h2.7M200.6 61.4l-1.2 1M194.6 128.8v5m-1.3 0h2.7M194.6 128.8l-1.2 1M214.4 78.2v5m-1.3 0h2.7M214.4 78.2l-1.2 1M202.9 64.1v5m-1.3 0h2.7M202.9 64.1l-1.2 1M208.2 93v5m-1.3 0h2.7M208.2 93l-1.2 1M201.8 114.4v5m-1.3 0h2.7M201.8 114.4l-1.2 1M201.3 75.2v5m-1.3 0h2.7M201.3 75.2l-1.2 1M211.5 56.5v5m-1.3 0h2.7M211.5 56.5l-1.2 1M206.3 105.6v5m-1.3 0h2.7M206.3 105.6l-1.2 1M202.3 57.8v5m-1.3 0h2.7M202.3 57.8l-1.2 1M199.9 116.4v5m-1.3 0h2.7M199.9 116.4l-1.2 1M201.7 53.6v5m-1.3 0h2.7M201.7 53.6l-1.2 1M192 127.3v5m-1.3 0h2.7M192 127.3l-1.2 1M201 60v5m-1.3 0h2.7M201 60l-1.2 1M209.4 109.6v5m-1.3 0h2.7M209.4 109.6l-1.2 1M198.9 56.4v5m-1.3 0h2.7M198.9 56.4l-1.2 1M201.3 65.4v5m-1.3 0h2.7M201.3 65.4l-1.2 1M199 92.1v5m-1.3 0h2.7M199 92.1l-1.2 1M199.9 73.2v5m-1.3 0h2.7M199.9 73.2l-1.2 1M209.3 51.3v5m-1.3 0h2.7M209.3 51.3l-1.2 1M188.3 51.3v5m-1.3 0h2.7M188.3 51.3l-1.2 1M198.9 112.5v5m-1.3 0h2.7M198.9 112.5l-1.2 1M205.9 60.4v5m-1.3 0h2.7M205.9 60.4l-1.2 1M186.1 51.8v5m-1.3 0h2.7M186.1 51.8l-1.2 1M198.5 79.1v5m-1.3 0h2.7M198.5 79.1l-1.2 1M209.9 80.1v5m-1.3 0h2.7M209.9 80.1l-1.2 1M200.8 108.7v5m-1.3 0h2.7M200.8 108.7l-1.2 1M201.3 102.7v5m-1.3 0h2.7M201.3 102.7l-1.2 1M204.3 55.2v5m-1.3 0h2.7M204.3 55.2l-1.2 1M208.3 80.7v5m-1.3 0h2.7M208.3 80.7l-1.2 1M193.4 129.5v5m-1.3 0h2.7M193.4 129.5l-1.2 1M207.9 97.1v5m-1.3 0h2.7M207.9 97.1l-1.2 1M200.1 82.3v5m-1.3 0h2.7M200.1 82.3l-1.2 1M210.8 111.5v5m-1.3 0h2.7M210.8 111.5l-1.2 1M202.5 116.5v5m-1.3 0h2.7M202.5 116.5l-1.2 1M199.6 124.1v5m-1.3 0h2.7M199.6 124.1l-1.2 1M201 103.6v5m-1.3 0h2.7M201 103.6l-1.2 1M205.7 71.8v5m-1.3 0h2.7M205.7 71.8l-1.2 1M189 50.9v5m-1.3 0h2.7M189 50.9l-1.2 1M202.6 117.3v5m-1.3 0h2.7M202.6 117.3l-1.2 1M198.8 102.5v5m-1.3 0h2.7M198.8 102.5l-1.2 1M202.7 82.5v5m-1.3 0h2.7M202.7 82.5l-1.2 1M200.7 101.7v5m-1.3 0h2.7M200.7 101.7l-1.2 1M215.9 106.9v5m-1.3 0h2.7M215.9 106.9l-1.2 1M206.2 59.2v5m-1.3 0h2.7M206.2 59.2l-1.2 1M197 116.9v5m-1.3 0h2.7M197 116.9l-1.2 1M225.4 88.9v5m-1.3 0h2.7M225.4 88.9l-1.2 1M189.8 45.1v5m-1.3 0h2.7M189.8 45.1l-1.2 1M209.2 57v5m-1.3 0h2.7M209.2 57l-1.2 1M193.5 132.6v5m-1.3 0h2.7M193.5 132.6l-1.2 1M191.1 51.2v5m-1.3 0h2.7M191.1 51.2l-1.2 1M207.1 93.9v5m-1.3 0h2.7M207.1 93.9l-1.2 1M205.4 91.1v5m-1.3 0h2.7M205.4 91.1l-1.2 1M197.4 121.8v5m-1.3 0h2.7M197.4 121.8l-1.2 1M220.3 81.2v5m-1.3 0h2.7M220.3 81.2l-1.2 1M206.9 61.8v5m-1.3 0h2.7M206.9 61.8l-1.2 1M209 79.5v5m-1.3 0h2.7M209 79.5l-1.2 1M228.2 53.3v5m-1.3 0h2.7M228.2 53.3l-1.2 1M198.7 75.9v5m-1.3 0h2.7M198.7 75.9l-1.2 1M202.1 68v5m-1.3 0h2.7M202.1 68l-1.2 1M188 42.7v5m-1.3 0h2.7M188 42.7l-1.2 1M207.1 82.2v5m-1.3 0h2.7M207.1 82.2l-1.2 1M200.6 75.6v5m-1.3 0h2.7M200.6 75.6l-1.2 1M208.4 63.2v5m-1.3 0h2.7M208.4 63.2l-1.2 1M193.6 132.6v5m-1.3 0h2.7M193.6 132.6l-1.2 1M210.4 62.6v5m-1.3 0h2.7M210.4 62.6l-1.2 1M200 79.4v5m-1.3 0h2.7M200 79.4l-1.2 1M208.3 53.9v5m-1.3 0h2.7M208.3 53.9l-1.2 1M200 119.9v5m-1.3 0h2.7M200 119.9l-1.2 1M204.1 86.9v5m-1.3 0h2.7M204.1 86.9l-1.2 1M223.2 63.3v5m-1.3 0h2.7M223.2 63.3l-1.2 1M205.9 75.7v5m-1.3 0h2.7M205.9 75.7l-1.2 1M204.9 120.8v5m-1.3 0h2.7M204.9 120.8l-1.2 1M200.5 86.8v5m-1.3 0h2.7M200.5 86.8l-1.2 1M198.6 94.6v5m-1.3 0h2.7M198.6 94.6l-1.2 1M195 122.3v5m-1.3 0h2.7M195 122.3l-1.2 1M193.5 123.9v5m-1.3 0h2.7M193.5 123.9l-1.2 1M200.5 77.9v5m-1.3 0h2.7M200.5 77.9l-1.2 1M199.6 82.7v5m-1.3 0h2.7M199.6 82.7l-1.2 1M193.5 41.7v5m-1.3 0h2.7M193.5 41.7l-1.2 1M200.4 68.7v5m-1.3 0h2.7M200.4 68.7l-1.2 1M203.2 70.7v5m-1.3 0h2.7M203.2 70.7l-1.2 1M205.7 83v5m-1.3 0h2.7M205.7 83l-1.2 1M199.6 105.3v5m-1.3 0h2.7M199.6 105.3l-1.2 1M202.9 131.5v5m-1.3 0h2.7M202.9 131.5l-1.2 1M197.1 46.9v5m-1.3 0h2.7M197.1 46.9l-1.2 1M200.7 129.3v5m-1.3 0h2.7M200.7 129.3l-1.2 1M210.7 55v5m-1.3 0h2.7M210.7 55l-1.2 1M196.7 102.8v5m-1.3 0h2.7M196.7 102.8l-1.2 1M206.6 42.5v5m-1.3 0h2.7M206.6 42.5l-1.2 1M198.4 105v5m-1.3 0h2.7M198.4 105l-1.2 1M186.1 51.2v5m-1.3 0h2.7M186.1 51.2l-1.2 1M209.5 64.1v5m-1.3 0h2.7M209.5 64.1l-1.2 1M199.5 75v5m-1.3 0h2.7M199.5 75l-1.2 1M201.1 129.1v5m-1.3 0h2.7M201.1 129.1l-1.2 1M214.5 57.7v5m-1.3 0h2.7M214.5 57.7l-1.2 1M208.4 100.4v5m-1.3 0h2.7M208.4 100.4l-1.2 1M212.9 106.2v5m-1.3 0h2.7M212.9 106.2l-1.2 1M206.7 117.8v5m-1.3 0h2.7M206.7 117.8l-1.2 1M207.2 60.5v5m-1.3 0h2.7M207.2 60.5l-1.2 1M207.8 92.9v5m-1.3 0h2.7M207.8 92.9l-1.2 1M214.1 83.9v5m-1.3 0h2.7M214.1 83.9l-1.2 1M199.9 95.2v5m-1.3 0h2.7M199.9 95.2l-1.2 1M199.4 64.1v5m-1.3 0h2.7M199.4 64.1l-1.2 1M198.3 89.2v5m-1.3 0h2.7M198.3 89.2l-1.2 1M199.1 86.7v5m-1.3 0h2.7M199.1 86.7l-1.2 1M203 89.1v5m-1.3 0h2.7M203 89.1l-1.2 1M212.5 93.7v5m-1.3 0h2.7M212.5 93.7l-1.2 1M197.7 42v5m-1.3 0h2.7M197.7 42l-1.2 1M204.1 86.8v5m-1.3 0h2.7M204.1 86.8l-1.2 1M209.8 105.9v5m-1.3 0h2.7M209.8 105.9l-1.2 1M202.4 77.8v5m-1.3 0h2.7M202.4 77.8l-1.2 1M187.7 134.6v5m-1.3 0h2.7M187.7 134.6l-1.2 1M204.1 103.2v5m-1.3 0h2.7M204.1 103.2l-1.2 1M191 44.2v5m-1.3 0h2.7M191 44.2l-1.2 1M215.9 107.6v5m-1.3 0h2.7M215.9 107.6l-1.2 1M228.3 73.5v5m-1.3 0h2.7M228.3 73.5l-1.2 1M202.7 90.9v5m-1.3 0h2.7M202.7 90.9l-1.2 1M189.8 128.5v5m-1.3 0h2.7M189.8 128.5l-1.2 1M202.4 111.1v5m-1.3 0h2.7M202.4 111.1l-1.2 1M213.1 74.2v5m-1.3 0h2.7M213.1 74.2l-1.2 1M203.1 76.9v5m-1.3 0h2.7M203.1 76.9l-1.2 1M208.7 92.4v5m-1.3 0h2.7M208.7 92.4l-1.2 1M202.6 61.8v5m-1.3 0h2.7M202.6 61.8l-1.2 1M204.2 82.4v5m-1.3 0h2.7M204.2 82.4l-1.2 1M194.5 121.6v5m-1.3 0h2.7M194.5 121.6l-1.2 1M195.8 121.7v5m-1.3 0h2.7M195.8 121.7l-1.2 1M200.2 90.3v5m-1.3 0h2.7M200.2 90.3l-1.2 1M225.4 90.5v5m-1.3 0h2.7M225.4 90.5l-1.2 1M208 104.9v5m-1.3 0h2.7M208 104.9l-1.2 1M201.2 73.5v5m-1.3 0h2.7M201.2 73.5l-1.2 1M204.9 70.4v5m-1.3 0h2.7M204.9 70.4l-1.2 1M208.1 103v5m-1.3 0h2.7M208.1 103l-1.2 1M193.5 45.3v5m-1.3 0h2.7M193.5 45.3l-1.2 1M195.8 127.3v5m-1.3 0h2.7M195.8 127.3l-1.2 1M186.6 46.2v5m-1.3 0h2.7M186.6 46.2l-1.2 1M186.1 42v5m-1.3 0h2.7M186.1 42l-1.2 1M195.8 130.8v5m-1.3 0h2.7M195.8 130.8l-1.2 1M207.9 105.2v5m-1.3 0h2.7M207.9 105.2l-1.2 1M196.2 129.7v5m-1.3 0h2.7M196.2 129.7l-1.2 1M204.3 101.2v5m-1.3 0h2.7M204.3 101.2l-1.2 1M202.4 109v5m-1.3 0h2.7M202.4 109l-1.2 1M197.6 107.5v5m-1.3 0h2.7M197.6 107.5l-1.2 1M200.6 106.1v5m-1.3 0h2.7M200.6 106.1l-1.2 1M194.6 115.4v5m-1.3 0h2.7M194.6 115.4l-1.2 1M198.5 59v5m-1.3 0h2.7M198.5 59l-1.2 1M211.8 116.5v5m-1.3 0h2.7M211.8 116.5l-1.2 1M199.7 105v5m-1.3 0h2.7M199.7 105l-1.2 1M203.6 121.2v5m-1.3 0h2.7M203.6 121.2l-1.2 1M199.8 95.9v5m-1.3 0h2.7M199.8 95.9l-1.2 1M202.4 70.7v5m-1.3 0h2.7M202.4 70.7l-1.2 1M202.5 72.3v5m-1.3 0h2.7M202.5 72.3l-1.2 1M216.8 103.7v5m-1.3 0h2.7M216.8 103.7l-1.2 1M190.2 46.7v5m-1.3 0h2.7M190.2 46.7l-1.2 1M186.1 45.2v5m-1.3 0h2.7M186.1 45.2l-1.2 1M198.8 120v5m-1.3 0h2.7M198.8 120l-1.2 1M193.2 130.5v5m-1.3 0h2.7M193.2 130.5l-1.2 1M187.6 42.8v5m-1.3 0h2.7M187.6 42.8l-1.2 1M218.1 98.8v5m-1.3 0h2.7M218.1 98.8l-1.2 1M191.1 136.5v5m-1.3 0h2.7M191.1 136.5l-1.2 1M198.9 81.4v5m-1.3 0h2.7M198.9 81.4l-1.2 1M198.2 103.9v5m-1.3 0h2.7M198.2 103.9l-1.2 1M197.7 56.1v5m-1.3 0h2.7M197.7 56.1l-1.2 1M192.5 41.9v5m-1.3 0h2.7M192.5 41.9l-1.2 1M222.3 53.2v5m-1.3 0h2.7M222.3 53.2l-1.2 1M200.9 49.9v5m-1.3 0h2.7M200.9 49.9l-1.2 1M197.2 53.9v5m-1.3 0h2.7M197.2 53.9l-1.2 1M197.1 111.2v5m-1.3 0h2.7M197.1 111.2l-1.2 1M196.1 112.6v5m-1.3 0h2.7M196.1 112.6l-1.2 1M195.1 46.3v5m-1.3 0h2.7M195.1 46.3l-1.2 1M209.7 110.6v5m-1.3 0h2.7M209.7 110.6l-1.2 1M195.3 112.2v5m-1.3 0h2.7M195.3 112.2l-1.2 1M205.9 102.4v5m-1.3 0h2.7M205.9 102.4l-1.2 1M218.2 86.1v5m-1.3 0h2.7M218.2 86.1l-1.2 1M223.3 66v5m-1.3 0h2.7M223.3 66l-1.2 1M195.1 111v5m-1.3 0h2.7M195.1 111l-1.2 1M191.8 42.8v5m-1.3 0h2.7M191.8 42.8l-1.2 1M192.8 120.7v5m-1.3 0h2.7M192.8 120.7l-1.2 1M208.1 71.6v5m-1.3 0h2.7M208.1 71.6l-1.2 1M212.7 57.5v5m-1.3 0h2.7M212.7 57.5l-1.2 1M198.3 88.6v5m-1.3 0h2.7M198.3 88.6l-1.2 1M204.7 77.1v5m-1.3 0h2.7M204.7 77.1l-1.2 1M206.5 84v5m-1.3 0h2.7M206.5 84l-1.2 1M209.4 55.5v5m-1.3 0h2.7M209.4 55.5l-1.2 1M206.1 76.6v5m-1.3 0h2.7M206.1 76.6l-1.2 1M200.7 102.5v5m-1.3 0h2.7M200.7 102.5l-1.2 1M209.8 78.8v5m-1.3 0h2.7M209.8 78.8l-1.2 1M199.3 133.1v5m-1.3 0h2.7M199.3 133.1l-1.2 1M200.1 96.4v5m-1.3 0h2.7M200.1 96.4l-1.2 1M211.3 47.3v5m-1.3 0h2.7M211.3 47.3l-1.2 1M208.6 109.6v5m-1.3 0h2.7M208.6 109.6l-1.2 1M205.3 73.6v5m-1.3 0h2.7M205.3 73.6l-1.2 1M199.9 99.7v5m-1.3 0h2.7M199.9 99.7l-1.2 1M214.5 83v5m-1.3 0h2.7M214.5 83l-1.2 1M206.9 77.9v5m-1.3 0h2.7M206.9 77.9l-1.2 1M214.1 99.8v5m-1.3 0h2.7M214.1 99.8l-1.2 1M195 119.7v5m-1.3 0h2.7M195 119.7l-1.2 1M186.2 41.6v5m-1.3 0h2.7M186.2 41.6l-1.2 1M204.7 82.4v5m-1.3 0h2.7M204.7 82.4l-1.2 1M208.6 120.6v5m-1.3 0h2.7M208.6 120.6l-1.2 1M197.3 45.5v5m-1.3 0h2.7M197.3 45.5l-1.2 1M207.5 120.1v5m-1.3 0h2.7M207.5 120.1l-1.2 1M199.9 96.9v5m-1.3 0h2.7M199.9 96.9l-1.2 1M203.4 124v5m-1.3 0h2.7M203.4 124l-1.2 1M214.1 107.8v5m-1.3 0h2.7M214.1 107.8l-1.2 1M199 75v5m-1.3 0h2.7M199 75l-1.2 1M209.6 95.1v5m-1.3 0h2.7M209.6 95.1l-1.2 1M208.7 60.8v5m-1.3 0h2.7M208.7 60.8l-1.2 1M190.3 131.8v5m-1.3 0h2.7M190.3 131.8l-1.2 1M205.5 100.3v5m-1.3 0h2.7M205.5 100.3l-1.2 1M199.7 86.5v5m-1.3 0h2.7M199.7 86.5l-1.2 1M208.7 66.1v5m-1.3 0h2.7M208.7 66.1l-1.2 1M197.6 118.2v5m-1.3 0h2.7M197.6 118.2l-1.2 1M197.9 49.9v5m-1.3 0h2.7M197.9 49.9l-1.2 1M195.5 116.3v5m-1.3 0h2.7M195.5 116.3l-1.2 1M214.5 97.6v5m-1.3 0h2.7M214.5 97.6l-1.2 1M195.5 127.3v5m-1.3 0h2.7M195.5 127.3l-1.2 1M204.6 87.6v5m-1.3 0h2.7M204.6 87.6l-1.2 1M199.9 59.7v5m-1.3 0h2.7M199.9 59.7l-1.2 1M207.3 58.9v5m-1.3 0h2.7M207.3 58.9l-1.2 1M204.5 76.6v5m-1.3 0h2.7M204.5 76.6l-1.2 1M203.6 80.4v5m-1.3 0h2.7M203.6 80.4l-1.2 1M197.8 55.9v5m-1.3 0h2.7M197.8 55.9l-1.2 1M189.1 138.1v5m-1.3 0h2.7M189.1 138.1l-1.2 1M191.9 51.7v5m-1.3 0h2.7M191.9 51.7l-1.2 1M194.3 117.8v5m-1.3 0h2.7M194.3 117.8l-1.2 1M200.4 99.3v5m-1.3 0h2.7M200.4 99.3l-1.2 1M197.9 91.8v5m-1.3 0h2.7M197.9 91.8l-1.2 1M218.7 44.7v5m-1.3 0h2.7M218.7 44.7l-1.2 1M195.6 125.4v5m-1.3 0h2.7M195.6 125.4l-1.2 1M199.8 96.4v5m-1.3 0h2.7M199.8 96.4l-1.2 1M197.5 117v5m-1.3 0h2.7M197.5 117l-1.2 1M198.7 133.2v5m-1.3 0h2.7M198.7 133.2l-1.2 1M217 120.8v5m-1.3 0h2.7M217 120.8l-1.2 1M198.6 66v5m-1.3 0h2.7M198.6 66l-1.2 1M199.8 60.9v5m-1.3 0h2.7M199.8 60.9l-1.2 1M186.3 49.5v5m-1.3 0h2.7M186.3 49.5l-1.2 1M212.9 95.5v5m-1.3 0h2.7M212.9 95.5l-1.2 1M220 85.9v5m-1.3 0h2.7M220 85.9l-1.2 1M189.6 129.7v5m-1.3 0h2.7M189.6 129.7l-1.2 1M201 99.4v5m-1.3 0h2.7M201 99.4l-1.2 1M220.9 53v5m-1.3 0h2.7M220.9 53l-1.2 1M204.5 66.3v5m-1.3 0h2.7M204.5 66.3l-1.2 1M220 103.5v5m-1.3 0h2.7M220 103.5l-1.2 1M199.8 106.4v5m-1.3 0h2.7M199.8 106.4l-1.2 1M199.3 84.9v5m-1.3 0h2.7M199.3 84.9l-1.2 1M198.6 62.9v5m-1.3 0h2.7M198.6 62.9l-1.2 1M201.6 66.2v5m-1.3 0h2.7M201.6 66.2l-1.2 1M207 129v5m-1.3 0h2.7M207 129l-1.2 1M191.9 122.6v5m-1.3 0h2.7M191.9 122.6l-1.2 1M202.4 117.7v5m-1.3 0h2.7M202.4 117.7l-1.2 1M228.1 104.1v5m-1.3 0h2.7M228.1 104.1l-1.2 1M186.1 46.8v5m-1.3 0h2.7M186.1 46.8l-1.2 1M215 114.6v5m-1.3 0h2.7M215 114.6l-1.2 1M198.6 107.1v5m-1.3 0h2.7M198.6 107.1l-1.2 1M207.9 98.8v5m-1.3 0h2.7M207.9 98.8l-1.2 1M187.4 51.6v5m-1.3 0h2.7M187.4 51.6l-1.2 1M199.3 66.3v5m-1.3 0h2.7M199.3 66.3l-1.2 1M199.3 88.1v5m-1.3 0h2.7M199.3 88.1l-1.2 1M199.5 64.5v5m-1.3 0h2.7M199.5 64.5l-1.2 1M196 107.1v5m-1.3 0h2.7M196 107.1l-1.2 1M196.7 111v5m-1.3 0h2.7M196.7 111l-1.2 1M203.6 44.9v5m-1.3 0h2.7M203.6 44.9l-1.2 1M218.7 62.8v5m-1.3 0h2.7M218.7 62.8l-1.2 1M207 125.5v5m-1.3 0h2.7M207 125.5l-1.2 1M201.7 55v5m-1.3 0h2.7M201.7 55l-1.2 1M204.8 50.8v5m-1.3 0h2.7M204.8 50.8l-1.2 1M198.8 123.1v5m-1.3 0h2.7M198.8 123.1l-1.2 1M201.1 85.3v5m-1.3 0h2.7M201.1 85.3l-1.2 1M196.9 121.2v5m-1.3 0h2.7M196.9 121.2l-1.2 1M197.8 102.3v5m-1.3 0h2.7M197.8 102.3l-1.2 1M198.7 62.9v5m-1.3 0h2.7M198.7 62.9l-1.2 1M201.2 110.6v5m-1.3 0h2.7M201.2 110.6l-1.2 1M212.8 55.4v5m-1.3 0h2.7M212.8 55.4l-1.2 1M202.3 67.2v5m-1.3 0h2.7M202.3 67.2l-1.2 1M200 56.5v5m-1.3 0h2.7M200 56.5l-1.2 1M194.6 122.8v5m-1.3 0h2.7M194.6 122.8l-1.2 1M203 57.7v5m-1.3 0h2.7M203 57.7l-1.2 1M215.8 72.3v5m-1.3 0h2.7M215.8 72.3l-1.2 1M225.6 52.5v5m-1.3 0h2.7M225.6 52.5l-1.2 1M200.8 46.9v5m-1.3 0h2.7M200.8 46.9l-1.2 1M197.8 106.2v5m-1.3 0h2.7M197.8 106.2l-1.2 1M200.4 87.7v5m-1.3 0h2.7M200.4 87.7l-1.2 1M200 66.4v5m-1.3 0h2.7M200 66.4l-1.2 1M233.6 76.7v5m-1.3 0h2.7M233.6 76.7l-1.2 1M187.5 50.9v5m-1.3 0h2.7M187.5 50.9l-1.2 1M190 128.3v5m-1.3 0h2.7M190 128.3l-1.2 1M197.4 111.9v5m-1.3 0h2.7M197.4 111.9l-1.2 1M186.5 136.3v5m-1.3 0h2.7M186.5 136.3l-1.2 1M195.6 119.7v5m-1.3 0h2.7M195.6 119.7l-1.2 1M197.3 55v5m-1.3 0h2.7M197.3 55l-1.2 1M197.4 122.1v5m-1.3 0h2.7M197.4 122.1l-1.2 1M202.6 59.4v5m-1.3 0h2.7M202.6 59.4l-1.2 1M190.9 129.9v5m-1.3 0h2.7M190.9 129.9l-1.2 1M198.6 96.8v5m-1.3 0h2.7M198.6 96.8l-1.2 1M209.2 58.9v5m-1.3 0h2.7M209.2 58.9l-1.2 1M196.8 110.4v5m-1.3 0h2.7M196.8 110.4l-1.2 1M186.9 49.1v5m-1.3 0h2.7M186.9 49.1l-1.2 1M202.1 100.4v5m-1.3 0h2.7M202.1 100.4l-1.2 1M200 68v5m-1.3 0h2.7M200 68l-1.2 1M206.2 100.8v5m-1.3 0h2.7M206.2 100.8l-1.2 1M198.9 120.1v5m-1.3 0h2.7M198.9 120.1l-1.2 1M198.8 61v5m-1.3 0h2.7M198.8 61l-1.2 1M198.5 112.5v5m-1.3 0h2.7M198.5 112.5l-1.2 1M195.3 111.4v5m-1.3 0h2.7M195.3 111.4l-1.2 1M195.5 120v5m-1.3 0h2.7M195.5 120l-1.2 1M206.4 123.1v5m-1.3 0h2.7M206.4 123.1l-1.2 1M197.9 89.2v5m-1.3 0h2.7M197.9 89.2l-1.2 1M194 129.7v5m-1.3 0h2.7M194 129.7l-1.2 1M192.7 126v5m-1.3 0h2.7M192.7 126l-1.2 1M211.7 59.4v5m-1.3 0h2.7M211.7 59.4l-1.2 1M199.6 77v5m-1.3 0h2.7M199.6 77l-1.2 1M205.1 77.4v5m-1.3 0h2.7M205.1 77.4l-1.2 1M189.4 41.9v5m-1.3 0h2.7M189.4 41.9l-1.2 1M203.4 84.6v5m-1.3 0h2.7M203.4 84.6l-1.2 1M206.3 53.1v5m-1.3 0h2.7M206.3 53.1l-1.2 1M207.3 120.6v5m-1.3 0h2.7M207.3 120.6l-1.2 1M207.6 72.5v5m-1.3 0h2.7M207.6 72.5l-1.2 1M208.7 78.4v5m-1.3 0h2.7M208.7 78.4l-1.2 1M199.4 47.3v5m-1.3 0h2.7M199.4 47.3l-1.2 1M192.5 133.9v5m-1.3 0h2.7M192.5 133.9l-1.2 1M203.4 91.2v5m-1.3 0h2.7M203.4 91.2l-1.2 1M197.8 93.5v5m-1.3 0h2.7M197.8 93.5l-1.2 1M188.8 135.2v5m-1.3 0h2.7M188.8 135.2l-1.2 1M199 59.1v5m-1.3 0h2.7M199 59.1l-1.2 1M211 65.7v5m-1.3 0h2.7M211 65.7l-1.2 1M186.1 44.3v5m-1.3 0h2.7M186.1 44.3l-1.2 1M197.2 109.2v5m-1.3 0h2.7M197.2 109.2l-1.2 1M190.8 43.1v5m-1.3 0h2.7M190.8 43.1l-1.2 1M203.1 97.3v5m-1.3 0h2.7M203.1 97.3l-1.2 1M196.3 109.6v5m-1.3 0h2.7M196.3 109.6l-1.2 1M199.9 125.7v5m-1.3 0h2.7M199.9 125.7l-1.2 1M186.1 45.8v5m-1.3 0h2.7M186.1 45.8l-1.2 1M203 89.3v5m-1.3 0h2.7M203 89.3l-1.2 1M199.3 68.5v5m-1.3 0h2.7M199.3 68.5l-1.2 1M199.3 80.7v5m-1.3 0h2.7M199.3 80.7l-1.2 1M212.1 98.8v5m-1.3 0h2.7M212.1 98.8l-1.2 1M203.8 55.7v5m-1.3 0h2.7M203.8 55.7l-1.2 1M195.6 113.8v5m-1.3 0h2.7M195.6 113.8l-1.2 1M212.8 121.5v5m-1.3 0h2.7M212.8 121.5l-1.2 1M202.3 79.1v5m-1.3 0h2.7M202.3 79.1l-1.2 1M197.1 122.9v5m-1.3 0h2.7M197.1 122.9l-1.2 1M219.5 79.8v5m-1.3 0h2.7M219.5 79.8l-1.2 1M196.5 116.8v5m-1.3 0h2.7M196.5 116.8l-1.2 1M201.4 64.7v5m-1.3 0h2.7M201.4 64.7l-1.2 1M227.9 83.7v5m-1.3 0h2.7M227.9 83.7l-1.2 1M210.9 119.4v5m-1.3 0h2.7M210.9 119.4l-1.2 1M206.4 120.5v5m-1.3 0h2.7M206.4 120.5l-1.2 1M189.4 46.6v5m-1.3 0h2.7M189.4 46.6l-1.2 1M202.4 65.6v5m-1.3 0h2.7M202.4 65.6l-1.2 1M200 102.8v5m-1.3 0h2.7M200 102.8l-1.2 1M198.2 92.9v5m-1.3 0h2.7M198.2 92.9l-1.2 1M203.3 83.4v5m-1.3 0h2.7M203.3 83.4l-1.2 1M186.1 43.4v5m-1.3 0h2.7M186.1 43.4l-1.2 1M195.6 132.3v5m-1.3 0h2.7M195.6 132.3l-1.2 1M208.6 119.9v5m-1.3 0h2.7M208.6 119.9l-1.2 1M190.2 127.2v5m-1.3 0h2.7M190.2 127.2l-1.2 1M198.8 103.6v5m-1.3 0h2.7M198.8 103.6l-1.2 1M198.3 107.2v5m-1.3 0h2.7M198.3 107.2l-1.2 1M217 94v5m-1.3 0h2.7M217 94l-1.2 1M199 101.7v5m-1.3 0h2.7M199 101.7l-1.2 1M202 91.9v5m-1.3 0h2.7M202 91.9l-1.2 1M190.1 133.6v5m-1.3 0h2.7M190.1 133.6l-1.2 1M206.1 71v5m-1.3 0h2.7M206.1 71l-1.2 1M203.6 53.1v5m-1.3 0h2.7M203.6 53.1l-1.2 1M192.7 134.1v5m-1.3 0h2.7M192.7 134.1l-1.2 1M203 67.4v5m-1.3 0h2.7M203 67.4l-1.2 1M198.9 93.2v5m-1.3 0h2.7M198.9 93.2l-1.2 1M198 53.4v5m-1.3 0h2.7M198 53.4l-1.2 1M202.2 69.9v5m-1.3 0h2.7M202.2 69.9l-1.2 1M200.4 69.4v5m-1.3 0h2.7M200.4 69.4l-1.2 1M191.5 49.9v5m-1.3 0h2.7M191.5 49.9l-1.2 1M198.6 122.9v5m-1.3 0h2.7M198.6 122.9l-1.2 1M205.4 96.7v5m-1.3 0h2.7M205.4 96.7l-1.2 1M207.6 60.9v5m-1.3 0h2.7M207.6 60.9l-1.2 1M203.9 86.1v5m-1.3 0h2.7M203.9 86.1l-1.2 1M201.7 100.8v5m-1.3 0h2.7M201.7 100.8l-1.2 1M200.4 71.5v5m-1.3 0h2.7M200.4 71.5l-1.2 1M203.7 62.9v5m-1.3 0h2.7M203.7 62.9l-1.2 1M204.9 78.6v5m-1.3 0h2.7M204.9 78.6l-1.2 1M187.2 42.6v5m-1.3 0h2.7M187.2 42.6l-1.2 1M192.8 125v5m-1.3 0h2.7M192.8 125l-1.2 1M202.7 95.4v5m-1.3 0h2.7M202.7 95.4l-1.2 1M231.2 69v5m-1.3 0h2.7M231.2 69l-1.2 1M209.4 70.1v5m-1.3 0h2.7M209.4 70.1l-1.2 1M198.2 56.8v5m-1.3 0h2.7M198.2 56.8l-1.2 1M194.8 125.9v5m-1.3 0h2.7M194.8 125.9l-1.2 1M195.5 47.4v5m-1.3 0h2.7M195.5 47.4l-1.2 1M208 84.1v5m-1.3 0h2.7M208 84.1l-1.2 1M186.1 52v5m-1.3 0h2.7M186.1 52l-1.2 1M197.3 134.5v5m-1.3 0h2.7M197.3 134.5l-1.2 1M200.7 56.4v5m-1.3 0h2.7M200.7 56.4l-1.2 1M206.7 75.6v5m-1.3 0h2.7M206.7 75.6l-1.2 1M211.1 101.2v5m-1.3 0h2.7M211.1 101.2l-1.2 1M197.6 121.1v5m-1.3 0h2.7M197.6 121.1l-1.2 1M204.6 113.1v5m-1.3 0h2.7M204.6 113.1l-1.2 1M198.7 115.1v5m-1.3 0h2.7M198.7 115.1l-1.2 1M202.4 117.5v5m-1.3 0h2.7M202.4 117.5l-1.2 1M190 130.1v5m-1.3 0h2.7M190 130.1l-1.2 1M190.5 125.9v5m-1.3 0h2.7M190.5 125.9l-1.2 1M200.3 115.7v5m-1.3 0h2.7M200.3 115.7l-1.2 1M222.5 89.7v5m-1.3 0h2.7M222.5 89.7l-1.2 1M201.6 96.9v5m-1.3 0h2.7M201.6 96.9l-1.2 1M208.6 117.4v5m-1.3 0h2.7M208.6 117.4l-1.2 1M200.6 100.3v5m-1.3 0h2.7M200.6 100.3l-1.2 1M202.6 85.3v5m-1.3 0h2.7M202.6 85.3l-1.2 1M197.5 111.5v5m-1.3 0h2.7M197.5 111.5l-1.2 1M204.3 79.3v5m-1.3 0h2.7M204.3 79.3l-1.2 1M201.2 78.7v5m-1.3 0h2.7M201.2 78.7l-1.2 1M207.3 117.7v5m-1.3 0h2.7M207.3 117.7l-1.2 1M202.2 89.9v5m-1.3 0h2.7M202.2 89.9l-1.2 1M201 59.3v5m-1.3 0h2.7M201 59.3l-1.2 1M203.8 55.5v5m-1.3 0h2.7M203.8 55.5l-1.2 1M198.1 97.8v5m-1.3 0h2.7M198.1 97.8l-1.2 1M191.7 130.7v5m-1.3 0h2.7M191.7 130.7l-1.2 1M205 123.2v5m-1.3 0h2.7M205 123.2l-1.2 1M188.9 134.4v5m-1.3 0h2.7M188.9 134.4l-1.2 1M216.2 82.8v5m-1.3 0h2.7M216.2 82.8l-1.2 1M186.1 42.4v5m-1.3 0h2.7M186.1 42.4l-1.2 1M198.5 44.3v5m-1.3 0h2.7M198.5 44.3l-1.2 1M206.3 49.7v5m-1.3 0h2.7M206.3 49.7l-1.2 1M197.9 53.4v5m-1.3 0h2.7M197.9 53.4l-1.2 1M197.4 44.7v5m-1.3 0h2.7M197.4 44.7l-1.2 1M201.1 41.7v5m-1.3 0h2.7M201.1 41.7l-1.2 1M193.9 46.3v5m-1.3 0h2.7M193.9 46.3l-1.2 1M193.8 52.6v5m-1.3 0h2.7M193.8 52.6l-1.2 1M200.9 44.9v5m-1.3 0h2.7M200.9 44.9l-1.2 1M188.3 41.4v5m-1.3 0h2.7M188.3 41.4l-1.2 1M194.9 45.6v5m-1.3 0h2.7M194.9 45.6l-1.2 1M198.7 51.5v5m-1.3 0h2.7M198.7 51.5l-1.2 1M207.2 44v5m-1.3 0h2.7M207.2 44l-1.2 1M195.7 46.9v5m-1.3 0h2.7M195.7 46.9l-1.2 1M207.9 40.6v5m-1.3 0h2.7M207.9 40.6l-1.2 1M197.7 50.4v5m-1.3 0h2.7M197.7 50.4l-1.2 1M189.8 39.9v5m-1.3 0h2.7M189.8 39.9l-1.2 1M207.5 50.6v5m-1.3 0h2.7M207.5 50.6l-1.2 1M197.3 32.7v5m-1.3 0h2.7M197.3 32.7l-1.2 1M205.7 48.1v5m-1.3 0h2.7M205.7 48.1l-1.2 1M204.1 53.2v5m-1.3 0h2.7M204.1 53.2l-1.2 1M205.6 42.5v5m-1.3 0h2.7M205.6 42.5l-1.2 1M189.5 39.1v5m-1.3 0h2.7M189.5 39.1l-1.2 1M197.3 44.4v5m-1.3 0h2.7M197.3 44.4l-1.2 1M190.2 35.6v5m-1.3 0h2.7M190.2 35.6l-1.2 1M199.9 46.5v5m-1.3 0h2.7M199.9 46.5l-1.2 1M193.8 53.3v5m-1.3 0h2.7M193.8 53.3l-1.2 1M200 28.8v5m-1.3 0h2.7M200 28.8l-1.2 1M195.1 49.9v5m-1.3 0h2.7M195.1 49.9l-1.2 1M192.8 48.2v5m-1.3 0h2.7M192.8 48.2l-1.2 1M186.2 39.5v5m-1.3 0h2.7M186.2 39.5l-1.2 1M204.5 46.1v5m-1.3 0h2.7M204.5 46.1l-1.2 1M200.7 36.1v5m-1.3 0h2.7M200.7 36.1l-1.2 1M197 45.5v5m-1.3 0h2.7M197 45.5l-1.2 1M191.9 47.3v5m-1.3 0h2.7M191.9 47.3l-1.2 1M197.7 53.4v5m-1.3 0h2.7M197.7 53.4l-1.2 1M198.7 42.3v5m-1.3 0h2.7M198.7 42.3l-1.2 1M188.8 34.7v5m-1.3 0h2.7M188.8 34.7l-1.2 1M202.7 32.5v5m-1.3 0h2.7M202.7 32.5l-1.2 1M188.3 35.2v5m-1.3 0h2.7M188.3 35.2l-1.2 1M197.5 50.5v5m-1.3 0h2.7M197.5 50.5l-1.2 1M199.5 50.2v5m-1.3 0h2.7M199.5 50.2l-1.2 1M187.5 25.9v5m-1.3 0h2.7M187.5 25.9l-1.2 1M203 40v5m-1.3 0h2.7M203 40l-1.2 1M201.8 40.8v5m-1.3 0h2.7M201.8 40.8l-1.2 1M189.8 38.4v5m-1.3 0h2.7M189.8 38.4l-1.2 1M187.5 54.1v5m-1.3 0h2.7M187.5 54.1l-1.2 1M194.2 46.3v5m-1.3 0h2.7M194.2 46.3l-1.2 1M192.4 46.8v5m-1.3 0h2.7M192.4 46.8l-1.2 1M186.9 53.9v5m-1.3 0h2.7M186.9 53.9l-1.2 1M194.2 54.8v5m-1.3 0h2.7M194.2 54.8l-1.2 1M192.2 50.1v5m-1.3 0h2.7M192.2 50.1l-1.2 1M189.6 42v5m-1.3 0h2.7M189.6 42l-1.2 1M199 53.4v5m-1.3 0h2.7M199 53.4l-1.2 1M190.5 54v5m-1.3 0h2.7M190.5 54l-1.2 1M197.4 45.7v5m-1.3 0h2.7M197.4 45.7l-1.2 1M194.5 54.8v5m-1.3 0h2.7M194.5 54.8l-1.2 1M193 54.7v5m-1.3 0h2.7M193 54.7l-1.2 1M189.5 46.9v5m-1.3 0h2.7M189.5 46.9l-1.2 1M196.1 44.5v5m-1.3 0h2.7M196.1 44.5l-1.2 1M190.4 53.7v5m-1.3 0h2.7M190.4 53.7l-1.2 1M192.8 52.5v5m-1.3 0h2.7M192.8 52.5l-1.2 1M189.5 43.8v5m-1.3 0h2.7M189.5 43.8l-1.2 1M191.1 44v5m-1.3 0h2.7M191.1 44l-1.2 1M199.6 45.5v5m-1.3 0h2.7M199.6 45.5l-1.2 1M193.9 43v5m-1.3 0h2.7M193.9 43l-1.2 1M193.5 46.8v5m-1.3 0h2.7M193.5 46.8l-1.2 1M191.7 42.3v5m-1.3 0h2.7M191.7 42.3l-1.2 1M187.8 53v5m-1.3 0h2.7M187.8 53l-1.2 1M191 44.8v5m-1.3 0h2.7M191 44.8l-1.2 1M188.8 45.4v5m-1.3 0h2.7M188.8 45.4l-1.2 1M208 11.4v5m-1.3 0h2.7M208 11.4l-1.2 1M209 17v5m-1.3 0h2.7M209 17l-1.2 1M218.4 20v5m-1.3 0h2.7M218.4 20l-1.2 1M187 20.9v5m-1.3 0h2.7M187 20.9l-1.2 1M189 20.9v5m-1.3 0h2.7M189 20.9l-1.2 1M191 20.9v5m-1.3 0h2.7M191 20.9l-1.2 1M213 27.4v5m-1.3 0h2.7M213 27.4l-1.2 1M221 43.4v5m-1.3 0h2.7M221 43.4l-1.2 1M226 38.4v5m-1.3 0h2.7M226 38.4l-1.2 1M232 49.4v5m-1.3 0h2.7M232 49.4l-1.2 1M237 61.4v5m-1.3 0h2.7M237 61.4l-1.2 1M238 76.4v5m-1.3 0h2.7M238 76.4l-1.2 1M241 87.4v5m-1.3 0h2.7M241 87.4l-1.2 1M235 92.4v5m-1.3 0h2.7M235 92.4l-1.2 1M239 95.4v5m-1.3 0h2.7M239 95.4l-1.2 1M214.2 121.4v5m-1.3 0h2.7M214.2 121.4l-1.2 1M221.4 122.2v5m-1.3 0h2.7M221.4 122.2l-1.2 1M228 123.4v5m-1.3 0h2.7M228 123.4l-1.2 1M204 132.4v5m-1.3 0h2.7M204 132.4l-1.2 1M215.6 133.4v5m-1.3 0h2.7M215.6 133.4l-1.2 1M224 134v5m-1.3 0h2.7M224 134l-1.2 1M231 116.4v5m-1.3 0h2.7M231 116.4l-1.2 1M226 107.4v5m-1.3 0h2.7M226 107.4l-1.2 1M233 101.4v5m-1.3 0h2.7M233 101.4l-1.2 1M217 115.4v5m-1.3 0h2.7M217 115.4l-1.2 1M228 83.4v5m-1.3 0h2.7M228 83.4l-1.2 1M222 67.4v5m-1.3 0h2.7M222 67.4l-1.2 1M216 59.4v5m-1.3 0h2.7M216 59.4l-1.2 1" stroke="#e34644" fill="none" stroke-width="1.1"/>
<path d="M63.9 36.7v5m-1.3 0h2.7M63.9 36.7l-1.2 1M89.6 61.3v5m-1.3 0h2.7M89.6 61.3l-1.2 1M85.5 77.6v5m-1.3 0h2.7M85.5 77.6l-1.2 1M85.9 78.9v5m-1.3 0h2.7M85.9 78.9l-1.2 1M86.4 137.8v5m-1.3 0h2.7M86.4 137.8l-1.2 1" stroke="#6b8fc6" fill="none" stroke-width="1.1"/>
<path d="M248.2 10.2v5m-1.3 0h2.7M248.2 10.2l-1.2 1M253.3 28.8v5m-1.3 0h2.7M253.3 28.8l-1.2 1M252.4 69.4v5m-1.3 0h2.7M252.4 69.4l-1.2 1M253.9 86.7v5m-1.3 0h2.7M253.9 86.7l-1.2 1M262 69.4v5m-1.3 0h2.7M262 69.4l-1.2 1M258 57.4v5m-1.3 0h2.7M258 57.4l-1.2 1M247 52.4v5m-1.3 0h2.7M247 52.4l-1.2 1M240.5 49.4v5m-1.3 0h2.7M240.5 49.4l-1.2 1" stroke="#e34644" fill="none" stroke-width="1.1"/>
<rect x="25.5" y="3.2" width="291.8" height="175.2" fill="none" stroke="#3a3a3a" stroke-width="1"/>
<line x1="22.9" y1="170.7" x2="25.5" y2="170.7" stroke="#3a3a3a" stroke-width="1"/>
<text x="22" y="174.3" font-size="10" text-anchor="end" fill="#1a1a1a">0</text>
<line x1="22.9" y1="129.9" x2="25.5" y2="129.9" stroke="#3a3a3a" stroke-width="1"/>
<text x="22" y="133.5" font-size="10" text-anchor="end" fill="#1a1a1a">2</text>
<line x1="22.9" y1="89.2" x2="25.5" y2="89.2" stroke="#3a3a3a" stroke-width="1"/>
<text x="22" y="92.8" font-size="10" text-anchor="end" fill="#1a1a1a">4</text>
<line x1="22.9" y1="48.4" x2="25.5" y2="48.4" stroke="#3a3a3a" stroke-width="1"/>
<text x="22" y="52" font-size="10" text-anchor="end" fill="#1a1a1a">6</text>
<line x1="22.9" y1="7.7" x2="25.5" y2="7.7" stroke="#3a3a3a" stroke-width="1"/>
<text x="22" y="11.3" font-size="10" text-anchor="end" fill="#1a1a1a">8</text>
<line x1="38.4" y1="178.4" x2="38.4" y2="180.7" stroke="#3a3a3a" stroke-width="1"/>
<text x="38.4" y="189.2" font-size="10.2" text-anchor="middle" fill="#1a1a1a">5.0</text>
<line x1="104.8" y1="178.4" x2="104.8" y2="180.7" stroke="#3a3a3a" stroke-width="1"/>
<text x="104.8" y="189.2" font-size="10.2" text-anchor="middle" fill="#1a1a1a">2.5</text>
<line x1="171.2" y1="178.4" x2="171.2" y2="180.7" stroke="#3a3a3a" stroke-width="1"/>
<text x="171.2" y="189.2" font-size="10.2" text-anchor="middle" fill="#1a1a1a">0.0</text>
<line x1="237.6" y1="178.4" x2="237.6" y2="180.7" stroke="#3a3a3a" stroke-width="1"/>
<text x="237.6" y="189.2" font-size="10.2" text-anchor="middle" fill="#1a1a1a">2.5</text>
<line x1="304" y1="178.4" x2="304" y2="180.7" stroke="#3a3a3a" stroke-width="1"/>
<text x="304" y="189.2" font-size="10.2" text-anchor="middle" fill="#1a1a1a">5.0</text>
<text x="170.2" y="200.7" font-size="10.4" text-anchor="middle" fill="#1a1a1a">Log2 Fold Change</text>
<text x="13.9" y="87" font-size="10.8" text-anchor="middle" fill="#1a1a1a" transform="rotate(-90 13.9 87)">Log10 P value</text>
<text x="42.5" y="52" font-size="10.4" fill="#1a1a1a">HMGA2</text>
<text x="40.1" y="64.8" font-size="10.4" fill="#1a1a1a">INPP5K</text>
<text x="37.3" y="77.6" font-size="10.4" fill="#1a1a1a">PROCR</text>
<text x="40.1" y="94.5" font-size="10.4" fill="#1a1a1a">STON2</text>
<text x="72.3" y="151.1" font-size="10.4" fill="#1a1a1a">ASIC2</text>
<text x="226.4" y="25.5" font-size="10.4" fill="#1a1a1a">CCDC33</text>
<text x="240.6" y="42.8" font-size="10.4" fill="#1a1a1a">HEYL</text>
<text x="266.1" y="61" font-size="10.4" fill="#1a1a1a">RALYL</text>
<text x="255.9" y="83.5" font-size="10.4" fill="#1a1a1a">RPL22L1</text>
<text x="263.9" y="96.4" font-size="10.4" fill="#1a1a1a">ANAPC5</text>
<path d="M77.6 61.2H88.6V63.6M75.2 73.4L85.3 79.6M76.2 90.7L86.4 82.2" stroke="#3fb0d8" fill="none" stroke-width="0.9"/>
<path d="M267 56.9L252.6 70.6M264.5 95.6L254 88.6" stroke="#e0463f" fill="none" stroke-width="0.9"/>
<path d="M324.7 69v5m-1.3 0h2.7M324.7 69l-1.2 1" stroke="#6b8fc6" fill="none" stroke-width="1.1"/>
<path d="M324.7 82.7v5m-1.3 0h2.7M324.7 82.7l-1.2 1" stroke="#c2c2c0" fill="none" stroke-width="1.1"/>
<path d="M324.7 96.4v5m-1.3 0h2.7M324.7 96.4l-1.2 1" stroke="#e34644" fill="none" stroke-width="1.1"/>
<text x="330.2" y="74.6" font-size="10.6" fill="#1a1a1a">Down</text>
<text x="330.2" y="88.2" font-size="10.6" fill="#1a1a1a">Unchange</text>
<text x="330.2" y="101.9" font-size="10.6" fill="#1a1a1a">Up</text>
<text x="0.3" y="13.6" font-size="24" fill="#231815">a</text>
<line x1="419.3" y1="7" x2="419.3" y2="142.4" stroke="#555" stroke-width="1"/>
<line x1="419.3" y1="142.4" x2="622.2" y2="142.4" stroke="#555" stroke-width="1"/>
<line x1="413.5" y1="142.4" x2="419.3" y2="142.4" stroke="#555" stroke-width="1"/>
<text x="411.9" y="146" font-size="10" text-anchor="end" fill="#1a1a1a">0</text>
<line x1="413.5" y1="97.3" x2="419.3" y2="97.3" stroke="#555" stroke-width="1"/>
<text x="411.9" y="100.9" font-size="10" text-anchor="end" fill="#1a1a1a">100</text>
<line x1="413.5" y1="52.1" x2="419.3" y2="52.1" stroke="#555" stroke-width="1"/>
<text x="411.9" y="55.7" font-size="10" text-anchor="end" fill="#1a1a1a">200</text>
<line x1="413.5" y1="7" x2="419.3" y2="7" stroke="#555" stroke-width="1"/>
<text x="411.9" y="10.6" font-size="10" text-anchor="end" fill="#1a1a1a">300</text>
<line x1="424.4" y1="53.5" x2="424.4" y2="58.9" stroke="#e5403d" stroke-width="1.2"/>
<line x1="423" y1="53.9" x2="425.8" y2="53.9" stroke="#e5403d" stroke-width="1.2"/>
<rect x="421.4" y="58.9" width="6" height="83.5" fill="#e5403d"/>
<line x1="432" y1="134.7" x2="432" y2="136.1" stroke="#4f60c2" stroke-width="1.1"/>
<line x1="430.6" y1="135.1" x2="433.4" y2="135.1" stroke="#4f60c2" stroke-width="1.2"/>
<rect x="430" y="137" width="4" height="5.4" fill="#bcc3ea" stroke="#4f60c2" stroke-width="1.8"/>
<line x1="427.9" y1="142.4" x2="427.9" y2="148.5" stroke="#555" stroke-width="1"/>
<text x="430.9" y="158.5" font-size="10.2" text-anchor="end" fill="#1a1a1a" transform="rotate(-45 430.9 158.5)">RPL22L1</text>
<line x1="445" y1="52.6" x2="445" y2="61.2" stroke="#e5403d" stroke-width="1.2"/>
<line x1="443.6" y1="53" x2="446.4" y2="53" stroke="#e5403d" stroke-width="1.2"/>
<rect x="442" y="61.2" width="6" height="81.2" fill="#e5403d"/>
<line x1="452.6" y1="132.9" x2="452.6" y2="133.8" stroke="#4f60c2" stroke-width="1.1"/>
<line x1="451.2" y1="133.3" x2="454" y2="133.3" stroke="#4f60c2" stroke-width="1.2"/>
<rect x="450.6" y="134.7" width="4" height="7.7" fill="#bcc3ea" stroke="#4f60c2" stroke-width="1.8"/>
<line x1="448.5" y1="142.4" x2="448.5" y2="148.5" stroke="#555" stroke-width="1"/>
<text x="451.5" y="158.5" font-size="10.2" text-anchor="end" fill="#1a1a1a" transform="rotate(-45 451.5 158.5)">ANAPC5</text>
<line x1="465.6" y1="59.4" x2="465.6" y2="61.2" stroke="#e5403d" stroke-width="1.2"/>
<line x1="464.2" y1="59.8" x2="467" y2="59.8" stroke="#e5403d" stroke-width="1.2"/>
<rect x="462.6" y="61.2" width="6" height="81.2" fill="#e5403d"/>
<line x1="473.2" y1="132.9" x2="473.2" y2="133.8" stroke="#4f60c2" stroke-width="1.1"/>
<line x1="471.8" y1="133.3" x2="474.6" y2="133.3" stroke="#4f60c2" stroke-width="1.2"/>
<rect x="471.2" y="134.7" width="4" height="7.7" fill="#bcc3ea" stroke="#4f60c2" stroke-width="1.8"/>
<line x1="469.1" y1="142.4" x2="469.1" y2="148.5" stroke="#555" stroke-width="1"/>
<text x="472.1" y="158.5" font-size="10.2" text-anchor="end" fill="#1a1a1a" transform="rotate(-45 472.1 158.5)">HEYL</text>
<line x1="486.2" y1="56.2" x2="486.2" y2="61.2" stroke="#e5403d" stroke-width="1.2"/>
<line x1="484.8" y1="56.6" x2="487.6" y2="56.6" stroke="#e5403d" stroke-width="1.2"/>
<rect x="483.2" y="61.2" width="6" height="81.2" fill="#e5403d"/>
<line x1="493.8" y1="132.9" x2="493.8" y2="133.8" stroke="#4f60c2" stroke-width="1.1"/>
<line x1="492.4" y1="133.3" x2="495.2" y2="133.3" stroke="#4f60c2" stroke-width="1.2"/>
<rect x="491.8" y="134.7" width="4" height="7.7" fill="#bcc3ea" stroke="#4f60c2" stroke-width="1.8"/>
<line x1="489.7" y1="142.4" x2="489.7" y2="148.5" stroke="#555" stroke-width="1"/>
<text x="492.7" y="158.5" font-size="10.2" text-anchor="end" fill="#1a1a1a" transform="rotate(-45 492.7 158.5)">RALYL</text>
<line x1="506.8" y1="60.7" x2="506.8" y2="61.6" stroke="#e5403d" stroke-width="1.2"/>
<line x1="505.4" y1="61.1" x2="508.2" y2="61.1" stroke="#e5403d" stroke-width="1.2"/>
<rect x="503.8" y="61.6" width="6" height="80.8" fill="#e5403d"/>
<line x1="514.4" y1="132.5" x2="514.4" y2="133.4" stroke="#4f60c2" stroke-width="1.1"/>
<line x1="513" y1="132.9" x2="515.8" y2="132.9" stroke="#4f60c2" stroke-width="1.2"/>
<rect x="512.4" y="134.3" width="4" height="8.1" fill="#bcc3ea" stroke="#4f60c2" stroke-width="1.8"/>
<line x1="510.3" y1="142.4" x2="510.3" y2="148.5" stroke="#555" stroke-width="1"/>
<text x="513.3" y="158.5" font-size="10.2" text-anchor="end" fill="#1a1a1a" transform="rotate(-45 513.3 158.5)">CCDC33</text>
<line x1="527.4" y1="130.2" x2="527.4" y2="132.9" stroke="#e5403d" stroke-width="1.2"/>
<line x1="526" y1="130.6" x2="528.8" y2="130.6" stroke="#e5403d" stroke-width="1.2"/>
<rect x="524.4" y="132.9" width="6" height="9.5" fill="#e5403d"/>
<line x1="535" y1="58" x2="535" y2="62.1" stroke="#4f60c2" stroke-width="1.1"/>
<line x1="533.6" y1="58.4" x2="536.4" y2="58.4" stroke="#4f60c2" stroke-width="1.2"/>
<rect x="533" y="63" width="4" height="79.4" fill="#bcc3ea" stroke="#4f60c2" stroke-width="1.8"/>
<line x1="530.9" y1="142.4" x2="530.9" y2="148.5" stroke="#555" stroke-width="1"/>
<text x="533.9" y="158.5" font-size="10.2" text-anchor="end" fill="#1a1a1a" transform="rotate(-45 533.9 158.5)">INPP5K</text>
<line x1="548" y1="131.6" x2="548" y2="132.9" stroke="#e5403d" stroke-width="1.2"/>
<line x1="546.6" y1="132" x2="549.4" y2="132" stroke="#e5403d" stroke-width="1.2"/>
<rect x="545" y="132.9" width="6" height="9.5" fill="#e5403d"/>
<line x1="555.6" y1="21.9" x2="555.6" y2="62.1" stroke="#4f60c2" stroke-width="1.1"/>
<line x1="554.2" y1="22.3" x2="557" y2="22.3" stroke="#4f60c2" stroke-width="1.2"/>
<rect x="553.6" y="63" width="4" height="79.4" fill="#bcc3ea" stroke="#4f60c2" stroke-width="1.8"/>
<line x1="551.5" y1="142.4" x2="551.5" y2="148.5" stroke="#555" stroke-width="1"/>
<text x="554.5" y="158.5" font-size="10.2" text-anchor="end" fill="#1a1a1a" transform="rotate(-45 554.5 158.5)">ASIC2</text>
<line x1="568.6" y1="132.9" x2="568.6" y2="133.4" stroke="#e5403d" stroke-width="1.2"/>
<line x1="567.2" y1="133.3" x2="570" y2="133.3" stroke="#e5403d" stroke-width="1.2"/>
<rect x="565.6" y="133.4" width="6" height="9" fill="#e5403d"/>
<line x1="576.2" y1="54.8" x2="576.2" y2="62.1" stroke="#4f60c2" stroke-width="1.1"/>
<line x1="574.8" y1="55.2" x2="577.6" y2="55.2" stroke="#4f60c2" stroke-width="1.2"/>
<rect x="574.2" y="63" width="4" height="79.4" fill="#bcc3ea" stroke="#4f60c2" stroke-width="1.8"/>
<line x1="572.1" y1="142.4" x2="572.1" y2="148.5" stroke="#555" stroke-width="1"/>
<text x="575.1" y="158.5" font-size="10.2" text-anchor="end" fill="#1a1a1a" transform="rotate(-45 575.1 158.5)">STON2</text>
<line x1="589.2" y1="129.8" x2="589.2" y2="133.8" stroke="#e5403d" stroke-width="1.2"/>
<line x1="587.8" y1="130.2" x2="590.6" y2="130.2" stroke="#e5403d" stroke-width="1.2"/>
<rect x="586.2" y="133.8" width="6" height="8.6" fill="#e5403d"/>
<line x1="596.8" y1="55.8" x2="596.8" y2="62.1" stroke="#4f60c2" stroke-width="1.1"/>
<line x1="595.4" y1="56.2" x2="598.2" y2="56.2" stroke="#4f60c2" stroke-width="1.2"/>
<rect x="594.8" y="63" width="4" height="79.4" fill="#bcc3ea" stroke="#4f60c2" stroke-width="1.8"/>
<line x1="592.7" y1="142.4" x2="592.7" y2="148.5" stroke="#555" stroke-width="1"/>
<text x="595.7" y="158.5" font-size="10.2" text-anchor="end" fill="#1a1a1a" transform="rotate(-45 595.7 158.5)">PROCR</text>
<line x1="609.8" y1="135.2" x2="609.8" y2="136.1" stroke="#e5403d" stroke-width="1.2"/>
<line x1="608.4" y1="135.6" x2="611.2" y2="135.6" stroke="#e5403d" stroke-width="1.2"/>
<rect x="606.8" y="136.1" width="6" height="6.3" fill="#e5403d"/>
<line x1="617.4" y1="55.3" x2="617.4" y2="58.5" stroke="#4f60c2" stroke-width="1.1"/>
<line x1="616" y1="55.7" x2="618.8" y2="55.7" stroke="#4f60c2" stroke-width="1.2"/>
<rect x="615.4" y="59.4" width="4" height="83" fill="#bcc3ea" stroke="#4f60c2" stroke-width="1.8"/>
<line x1="613.3" y1="142.4" x2="613.3" y2="148.5" stroke="#555" stroke-width="1"/>
<text x="616.3" y="158.5" font-size="10.2" text-anchor="end" fill="#1a1a1a" transform="rotate(-45 616.3 158.5)">HMGA2</text>
<line x1="419.3" y1="142.4" x2="622.2" y2="142.4" stroke="#555" stroke-width="1"/>
<text x="392.6" y="74.8" font-size="10.6" text-anchor="middle" fill="#1a1a1a" transform="rotate(-90 392.6 74.8)">Abundance of target protein</text>
<rect x="591.7" y="4.4" width="15.2" height="7.9" fill="#e5403d"/>
<rect x="593.1" y="24.2" width="12.4" height="4.8" fill="#fff" stroke="#4f60c2" stroke-width="1.6"/>
<text x="615" y="12.6" font-size="10" fill="#1a1a1a">APOA2</text>
<text x="615" y="30.6" font-size="10" fill="#1a1a1a">SCR</text>
<text x="366.7" y="20.6" font-size="24" fill="#231815">b</text>
<line x1="412.5" y1="229.1" x2="412.5" y2="367.2" stroke="#555" stroke-width="1"/>
<line x1="406.8" y1="367.2" x2="412.5" y2="367.2" stroke="#555" stroke-width="1"/>
<text x="404" y="370.8" font-size="10" text-anchor="end" fill="#1a1a1a">0</text>
<line x1="406.8" y1="332.7" x2="412.5" y2="332.7" stroke="#555" stroke-width="1"/>
<text x="404" y="336.3" font-size="10" text-anchor="end" fill="#1a1a1a">50</text>
<line x1="406.8" y1="298.1" x2="412.5" y2="298.1" stroke="#555" stroke-width="1"/>
<text x="404" y="301.8" font-size="10" text-anchor="end" fill="#1a1a1a">100</text>
<line x1="406.8" y1="263.6" x2="412.5" y2="263.6" stroke="#555" stroke-width="1"/>
<text x="404" y="267.2" font-size="10" text-anchor="end" fill="#1a1a1a">150</text>
<line x1="406.8" y1="229.1" x2="412.5" y2="229.1" stroke="#555" stroke-width="1"/>
<text x="404" y="232.7" font-size="10" text-anchor="end" fill="#1a1a1a">200</text>
<line x1="418.4" y1="276.7" x2="418.4" y2="283" stroke="#e5403d" stroke-width="1.2"/>
<line x1="417" y1="277.1" x2="419.8" y2="277.1" stroke="#e5403d" stroke-width="1.2"/>
<rect x="415.1" y="283" width="6.7" height="84.2" fill="#e5403d"/>
<line x1="428.3" y1="312.7" x2="428.3" y2="314" stroke="#4f60c2" stroke-width="1.1"/>
<line x1="426.9" y1="313.1" x2="429.7" y2="313.1" stroke="#4f60c2" stroke-width="1.2"/>
<rect x="426.1" y="314.9" width="4.4" height="52.3" fill="#bcc3ea" stroke="#4f60c2" stroke-width="1.8"/>
<line x1="423.6" y1="367.2" x2="423.6" y2="372.8" stroke="#555" stroke-width="1"/>
<text x="426.8" y="383.2" font-size="10.2" text-anchor="end" fill="#1a1a1a" transform="rotate(-45 426.8 383.2)">TGFβR2</text>
<line x1="444.6" y1="318.2" x2="444.6" y2="325.1" stroke="#e5403d" stroke-width="1.2"/>
<line x1="443.2" y1="318.6" x2="446" y2="318.6" stroke="#e5403d" stroke-width="1.2"/>
<rect x="441.2" y="325.1" width="6.7" height="42.1" fill="#e5403d"/>
<line x1="454.5" y1="264.3" x2="454.5" y2="271.9" stroke="#4f60c2" stroke-width="1.1"/>
<line x1="453.1" y1="264.7" x2="455.9" y2="264.7" stroke="#4f60c2" stroke-width="1.2"/>
<rect x="452.3" y="272.8" width="4.4" height="94.4" fill="#bcc3ea" stroke="#4f60c2" stroke-width="1.8"/>
<line x1="449.8" y1="367.2" x2="449.8" y2="372.8" stroke="#555" stroke-width="1"/>
<text x="453" y="383.2" font-size="10.2" text-anchor="end" fill="#1a1a1a" transform="rotate(-45 453 383.2)">TGFβ1</text>
<line x1="470.8" y1="305.1" x2="470.8" y2="314.4" stroke="#e5403d" stroke-width="1.2"/>
<line x1="469.4" y1="305.5" x2="472.2" y2="305.5" stroke="#e5403d" stroke-width="1.2"/>
<rect x="467.4" y="314.4" width="6.7" height="52.8" fill="#e5403d"/>
<line x1="480.7" y1="276.7" x2="480.7" y2="282.3" stroke="#4f60c2" stroke-width="1.1"/>
<line x1="479.3" y1="277.1" x2="482.1" y2="277.1" stroke="#4f60c2" stroke-width="1.2"/>
<rect x="478.5" y="283.2" width="4.4" height="84" fill="#bcc3ea" stroke="#4f60c2" stroke-width="1.8"/>
<line x1="476" y1="367.2" x2="476" y2="372.8" stroke="#555" stroke-width="1"/>
<text x="479.2" y="383.2" font-size="10.2" text-anchor="end" fill="#1a1a1a" transform="rotate(-45 479.2 383.2)">TGFβ2</text>
<line x1="497" y1="262.9" x2="497" y2="273.3" stroke="#e5403d" stroke-width="1.2"/>
<line x1="495.6" y1="263.3" x2="498.4" y2="263.3" stroke="#e5403d" stroke-width="1.2"/>
<rect x="493.7" y="273.3" width="6.7" height="93.9" fill="#e5403d"/>
<line x1="506.9" y1="315.4" x2="506.9" y2="324.4" stroke="#4f60c2" stroke-width="1.1"/>
<line x1="505.5" y1="315.8" x2="508.3" y2="315.8" stroke="#4f60c2" stroke-width="1.2"/>
<rect x="504.7" y="325.3" width="4.4" height="41.9" fill="#bcc3ea" stroke="#4f60c2" stroke-width="1.8"/>
<line x1="502.2" y1="367.2" x2="502.2" y2="372.8" stroke="#555" stroke-width="1"/>
<text x="505.4" y="383.2" font-size="10.2" text-anchor="end" fill="#1a1a1a" transform="rotate(-45 505.4 383.2)">SMAD4</text>
<line x1="523.2" y1="274.3" x2="523.2" y2="281.9" stroke="#e5403d" stroke-width="1.2"/>
<line x1="521.8" y1="274.7" x2="524.6" y2="274.7" stroke="#e5403d" stroke-width="1.2"/>
<rect x="519.8" y="281.9" width="6.7" height="85.3" fill="#e5403d"/>
<line x1="533.1" y1="313" x2="533.1" y2="315.4" stroke="#4f60c2" stroke-width="1.1"/>
<line x1="531.7" y1="313.4" x2="534.5" y2="313.4" stroke="#4f60c2" stroke-width="1.2"/>
<rect x="530.9" y="316.3" width="4.4" height="50.9" fill="#bcc3ea" stroke="#4f60c2" stroke-width="1.8"/>
<line x1="528.4" y1="367.2" x2="528.4" y2="372.8" stroke="#555" stroke-width="1"/>
<text x="531.6" y="383.2" font-size="10.2" text-anchor="end" fill="#1a1a1a" transform="rotate(-45 531.6 383.2)">SMAD9</text>
<line x1="549.4" y1="313" x2="549.4" y2="315.4" stroke="#e5403d" stroke-width="1.2"/>
<line x1="548" y1="313.4" x2="550.8" y2="313.4" stroke="#e5403d" stroke-width="1.2"/>
<rect x="546" y="315.4" width="6.7" height="51.8" fill="#e5403d"/>
<line x1="559.3" y1="275.7" x2="559.3" y2="282.3" stroke="#4f60c2" stroke-width="1.1"/>
<line x1="557.9" y1="276.1" x2="560.7" y2="276.1" stroke="#4f60c2" stroke-width="1.2"/>
<rect x="557.1" y="283.2" width="4.4" height="84" fill="#bcc3ea" stroke="#4f60c2" stroke-width="1.8"/>
<line x1="554.6" y1="367.2" x2="554.6" y2="372.8" stroke="#555" stroke-width="1"/>
<text x="557.8" y="383.2" font-size="10.2" text-anchor="end" fill="#1a1a1a" transform="rotate(-45 557.8 383.2)">SMAD3</text>
<line x1="575.6" y1="263.6" x2="575.6" y2="274.3" stroke="#e5403d" stroke-width="1.2"/>
<line x1="574.2" y1="264" x2="577" y2="264" stroke="#e5403d" stroke-width="1.2"/>
<rect x="572.2" y="274.3" width="6.7" height="92.9" fill="#e5403d"/>
<line x1="585.5" y1="320.9" x2="585.5" y2="323.7" stroke="#4f60c2" stroke-width="1.1"/>
<line x1="584.1" y1="321.3" x2="586.9" y2="321.3" stroke="#4f60c2" stroke-width="1.2"/>
<rect x="583.3" y="324.6" width="4.4" height="42.6" fill="#bcc3ea" stroke="#4f60c2" stroke-width="1.8"/>
<line x1="580.8" y1="367.2" x2="580.8" y2="372.8" stroke="#555" stroke-width="1"/>
<text x="584" y="383.2" font-size="10.2" text-anchor="end" fill="#1a1a1a" transform="rotate(-45 584 383.2)">MAPK</text>
<line x1="601.8" y1="269.1" x2="601.8" y2="276.3" stroke="#e5403d" stroke-width="1.2"/>
<line x1="600.4" y1="269.5" x2="603.2" y2="269.5" stroke="#e5403d" stroke-width="1.2"/>
<rect x="598.4" y="276.3" width="6.7" height="90.9" fill="#e5403d"/>
<line x1="611.7" y1="318.2" x2="611.7" y2="320.9" stroke="#4f60c2" stroke-width="1.1"/>
<line x1="610.3" y1="318.6" x2="613.1" y2="318.6" stroke="#4f60c2" stroke-width="1.2"/>
<rect x="609.5" y="321.8" width="4.4" height="45.4" fill="#bcc3ea" stroke="#4f60c2" stroke-width="1.8"/>
<line x1="607" y1="367.2" x2="607" y2="372.8" stroke="#555" stroke-width="1"/>
<text x="610.2" y="383.2" font-size="10.2" text-anchor="end" fill="#1a1a1a" transform="rotate(-45 610.2 383.2)">BMPR2</text>
<line x1="412.5" y1="367.2" x2="620.3" y2="367.2" stroke="#555" stroke-width="1"/>
<text x="384.5" y="295.6" font-size="10.6" text-anchor="middle" fill="#1a1a1a" transform="rotate(-90 384.5 295.6)">Abundance of target protein</text>
<rect x="587.2" y="227.1" width="15.3" height="7.5" fill="#e5403d"/>
<rect x="588" y="246.8" width="13.7" height="4.9" fill="#fff" stroke="#4f60c2" stroke-width="1.6"/>
<text x="610.3" y="234.7" font-size="10" fill="#1a1a1a">APOA2</text>
<text x="610.3" y="253.4" font-size="10" fill="#1a1a1a">SCR</text>
<text x="374.1" y="218.1" font-size="24" fill="#231815">d</text>
<line x1="195.3" y1="216.9" x2="365.3" y2="216.9" stroke="#333" stroke-width="1"/>
<line x1="196.1" y1="214.8" x2="196.1" y2="216.9" stroke="#333" stroke-width="1"/>
<text x="196.1" y="213" font-size="9.8" text-anchor="middle" fill="#1a1a1a">0</text>
<line x1="224.2" y1="214.8" x2="224.2" y2="216.9" stroke="#333" stroke-width="1"/>
<text x="224.2" y="213" font-size="9.8" text-anchor="middle" fill="#1a1a1a">1</text>
<line x1="252.3" y1="214.8" x2="252.3" y2="216.9" stroke="#333" stroke-width="1"/>
<text x="252.3" y="213" font-size="9.8" text-anchor="middle" fill="#1a1a1a">2</text>
<line x1="280.4" y1="214.8" x2="280.4" y2="216.9" stroke="#333" stroke-width="1"/>
<text x="280.4" y="213" font-size="9.8" text-anchor="middle" fill="#1a1a1a">3</text>
<line x1="308.5" y1="214.8" x2="308.5" y2="216.9" stroke="#333" stroke-width="1"/>
<text x="308.5" y="213" font-size="9.8" text-anchor="middle" fill="#1a1a1a">4</text>
<line x1="336.6" y1="214.8" x2="336.6" y2="216.9" stroke="#333" stroke-width="1"/>
<text x="336.6" y="213" font-size="9.8" text-anchor="middle" fill="#1a1a1a">5</text>
<line x1="364.7" y1="214.8" x2="364.7" y2="216.9" stroke="#333" stroke-width="1"/>
<text x="364.7" y="213" font-size="9.8" text-anchor="middle" fill="#1a1a1a">6</text>
<rect x="195.2" y="224.1" width="129" height="14.8" fill="#5bb0d0"/>
<line x1="193.1" y1="231.5" x2="195.2" y2="231.5" stroke="#333" stroke-width="0.9"/>
<text x="192.5" y="234.4" font-size="10.4" text-anchor="end" fill="#1a1a1a">Circadian rhythm</text>
<rect x="195.2" y="245" width="120" height="14.8" fill="#5bb0d0"/>
<line x1="193.1" y1="252.4" x2="195.2" y2="252.4" stroke="#333" stroke-width="0.9"/>
<text x="192.5" y="255.3" font-size="10.4" text-anchor="end" fill="#1a1a1a">Tight junction</text>
<rect x="195.2" y="266" width="108.7" height="14.8" fill="#5bb0d0"/>
<line x1="193.1" y1="273.4" x2="195.2" y2="273.4" stroke="#333" stroke-width="0.9"/>
<text x="192.5" y="276.3" font-size="10.4" text-anchor="end" fill="#1a1a1a">Diabetic cardiomyopathy</text>
<rect x="195.2" y="286.9" width="83" height="14.8" fill="#5bb0d0"/>
<line x1="193.1" y1="294.3" x2="195.2" y2="294.3" stroke="#333" stroke-width="0.9"/>
<text x="192.5" y="297.2" font-size="10.4" text-anchor="end" fill="#1a1a1a">Glutathione metabolism</text>
<rect x="195.2" y="307.9" width="79.6" height="14.8" fill="#5bb0d0"/>
<line x1="193.1" y1="315.3" x2="195.2" y2="315.3" stroke="#333" stroke-width="0.9"/>
<text x="192.5" y="318.2" font-size="10.4" text-anchor="end" fill="#1a1a1a">Oxidative phosphorylation</text>
<rect x="195.2" y="328.9" width="76.5" height="14.8" fill="#5bb0d0"/>
<line x1="193.1" y1="336.2" x2="195.2" y2="336.2" stroke="#333" stroke-width="0.9"/>
<text x="192.5" y="339.1" font-size="10.4" text-anchor="end" fill="#1a1a1a">Chemical carcinogenesis</text>
<rect x="195.2" y="349.8" width="75" height="14.8" fill="#5bb0d0"/>
<line x1="193.1" y1="357.2" x2="195.2" y2="357.2" stroke="#333" stroke-width="0.9"/>
<text x="192.5" y="360.1" font-size="10.4" text-anchor="end" fill="#1a1a1a">Metabolic pathways</text>
<rect x="195.2" y="370.8" width="74.1" height="14.8" fill="#5bb0d0"/>
<line x1="193.1" y1="378.1" x2="195.2" y2="378.1" stroke="#333" stroke-width="0.9"/>
<text x="192.5" y="381" font-size="10.4" text-anchor="end" fill="#1a1a1a">Fc gamma R-mediated phagocytosis</text>
<rect x="195.2" y="391.7" width="73.3" height="14.8" fill="#5bb0d0"/>
<line x1="193.1" y1="399.1" x2="195.2" y2="399.1" stroke="#333" stroke-width="0.9"/>
<text x="192.5" y="402" font-size="10.4" text-anchor="end" fill="#1a1a1a">TGF-beta signaling pathway</text>
<rect x="195.2" y="412.6" width="72.7" height="14.8" fill="#5bb0d0"/>
<line x1="193.1" y1="420" x2="195.2" y2="420" stroke="#333" stroke-width="0.9"/>
<text x="192.5" y="422.9" font-size="10.4" text-anchor="end" fill="#1a1a1a">Fluid shear stress and atherosclerosis</text>
<rect x="46.7" y="389.5" width="227" height="19.7" fill="none" stroke="#e03a35" stroke-width="1.3"/>
<text x="2.2" y="213.9" font-size="24" fill="#231815">c</text>
<path d="M53 517h1.6v1.6h-1.6zM98.7 522.7h1.6v1.6h-1.6zM50.8 525.9h1.6v1.6h-1.6zM88 495h1.6v1.6h-1.6zM53.2 548.3h1.6v1.6h-1.6zM92.7 505.6h1.6v1.6h-1.6zM109.8 491.9h1.6v1.6h-1.6zM76.1 523.7h1.6v1.6h-1.6zM131.1 510.6h1.6v1.6h-1.6zM62 543.3h1.6v1.6h-1.6zM80.2 514.8h1.6v1.6h-1.6zM71.1 520.9h1.6v1.6h-1.6zM83.8 503.7h1.6v1.6h-1.6zM100.8 508.6h1.6v1.6h-1.6zM41.4 513.8h1.6v1.6h-1.6zM49 528.3h1.6v1.6h-1.6zM47.9 525.3h1.6v1.6h-1.6zM62.2 517.9h1.6v1.6h-1.6zM77.2 502.4h1.6v1.6h-1.6zM51 530h1.6v1.6h-1.6zM91.8 516.5h1.6v1.6h-1.6zM85.8 514.2h1.6v1.6h-1.6zM57.5 512.4h1.6v1.6h-1.6zM61.5 486.9h1.6v1.6h-1.6zM67.8 507.7h1.6v1.6h-1.6zM78.2 500.1h1.6v1.6h-1.6zM65.8 502.3h1.6v1.6h-1.6zM75.6 494.9h1.6v1.6h-1.6zM91 512.3h1.6v1.6h-1.6zM62.1 507.5h1.6v1.6h-1.6zM87.8 484.9h1.6v1.6h-1.6zM70.4 509.5h1.6v1.6h-1.6zM88.7 510.2h1.6v1.6h-1.6zM82.5 513.6h1.6v1.6h-1.6zM65.9 540h1.6v1.6h-1.6zM70 508.9h1.6v1.6h-1.6zM109.3 492.1h1.6v1.6h-1.6zM99.9 498.2h1.6v1.6h-1.6zM92.6 511.1h1.6v1.6h-1.6zM94.1 480.9h1.6v1.6h-1.6zM71.5 532.7h1.6v1.6h-1.6zM118.5 503.7h1.6v1.6h-1.6zM98.2 496.8h1.6v1.6h-1.6zM54.8 478h1.6v1.6h-1.6zM114.8 505.8h1.6v1.6h-1.6zM93.7 511.9h1.6v1.6h-1.6zM60 524.5h1.6v1.6h-1.6zM85.9 495.2h1.6v1.6h-1.6zM92.8 513.4h1.6v1.6h-1.6zM106.1 525.5h1.6v1.6h-1.6zM94.5 493.2h1.6v1.6h-1.6zM72.2 553.1h1.6v1.6h-1.6zM59.5 518.1h1.6v1.6h-1.6zM89.1 486.3h1.6v1.6h-1.6zM57.5 523h1.6v1.6h-1.6zM91.6 517.7h1.6v1.6h-1.6zM94.8 470.6h1.6v1.6h-1.6zM98.9 530.2h1.6v1.6h-1.6zM69.7 515.9h1.6v1.6h-1.6zM129.4 494h1.6v1.6h-1.6zM80.5 488.2h1.6v1.6h-1.6zM76.5 483.5h1.6v1.6h-1.6zM64.1 530.3h1.6v1.6h-1.6zM93 487.7h1.6v1.6h-1.6zM91.7 509.1h1.6v1.6h-1.6zM40.7 540.5h1.6v1.6h-1.6zM65.6 531.1h1.6v1.6h-1.6zM90.3 521.4h1.6v1.6h-1.6zM94.4 512.5h1.6v1.6h-1.6zM71.3 517.5h1.6v1.6h-1.6zM87 499.8h1.6v1.6h-1.6zM68.4 524.8h1.6v1.6h-1.6zM50.1 494.7h1.6v1.6h-1.6zM108.1 514.1h1.6v1.6h-1.6zM68.4 543.6h1.6v1.6h-1.6zM81.7 513.3h1.6v1.6h-1.6zM123.1 502.5h1.6v1.6h-1.6zM62.2 495.4h1.6v1.6h-1.6zM82.1 547.3h1.6v1.6h-1.6zM81.9 547.3h1.6v1.6h-1.6zM101.2 501.7h1.6v1.6h-1.6zM74.6 521.3h1.6v1.6h-1.6zM46.2 514.6h1.6v1.6h-1.6zM34.2 545.7h1.6v1.6h-1.6zM103.3 481.1h1.6v1.6h-1.6zM53.9 552.7h1.6v1.6h-1.6zM96.3 497.6h1.6v1.6h-1.6zM57.9 536h1.6v1.6h-1.6zM63.9 543.8h1.6v1.6h-1.6zM64.2 497.9h1.6v1.6h-1.6zM92.4 476h1.6v1.6h-1.6zM76.4 521h1.6v1.6h-1.6zM58 525.2h1.6v1.6h-1.6zM51.2 511.5h1.6v1.6h-1.6zM107.8 495.1h1.6v1.6h-1.6zM105.6 506.6h1.6v1.6h-1.6zM63.4 520h1.6v1.6h-1.6zM70.5 540.7h1.6v1.6h-1.6zM43.4 526.6h1.6v1.6h-1.6zM81.3 526.2h1.6v1.6h-1.6zM107.6 507.5h1.6v1.6h-1.6zM90.2 492.2h1.6v1.6h-1.6zM61.3 508h1.6v1.6h-1.6zM64 496.8h1.6v1.6h-1.6zM85.1 497.4h1.6v1.6h-1.6zM93.9 553.3h1.6v1.6h-1.6zM93 527.1h1.6v1.6h-1.6zM62.6 530h1.6v1.6h-1.6zM94 497.6h1.6v1.6h-1.6zM99 544.1h1.6v1.6h-1.6zM66 522.9h1.6v1.6h-1.6zM90.6 529.4h1.6v1.6h-1.6zM83.2 512.5h1.6v1.6h-1.6zM98.9 528.4h1.6v1.6h-1.6zM61.1 536.5h1.6v1.6h-1.6zM114.3 488.8h1.6v1.6h-1.6zM75.7 514.4h1.6v1.6h-1.6zM80.6 513.6h1.6v1.6h-1.6zM73.9 525.3h1.6v1.6h-1.6zM52.3 536.3h1.6v1.6h-1.6zM112.2 499.7h1.6v1.6h-1.6zM79.5 521.7h1.6v1.6h-1.6zM79.5 511.1h1.6v1.6h-1.6zM64.9 517.5h1.6v1.6h-1.6zM83.1 530.9h1.6v1.6h-1.6zM62 540.7h1.6v1.6h-1.6zM56.3 506.6h1.6v1.6h-1.6zM72.7 530.8h1.6v1.6h-1.6zM65.4 519.3h1.6v1.6h-1.6zM101.4 511h1.6v1.6h-1.6zM75.3 530.2h1.6v1.6h-1.6zM75.5 501.5h1.6v1.6h-1.6zM70.1 541.5h1.6v1.6h-1.6zM52.2 545.1h1.6v1.6h-1.6zM49.6 504.3h1.6v1.6h-1.6zM85.5 520.7h1.6v1.6h-1.6zM108.2 523.1h1.6v1.6h-1.6zM93.7 499.2h1.6v1.6h-1.6zM46.4 543.1h1.6v1.6h-1.6zM96.9 489.2h1.6v1.6h-1.6zM52.9 504.4h1.6v1.6h-1.6zM70.3 527.3h1.6v1.6h-1.6zM66.9 526.8h1.6v1.6h-1.6zM40.8 545.9h1.6v1.6h-1.6zM52.8 515h1.6v1.6h-1.6zM121.2 456.3h1.6v1.6h-1.6zM71.3 552h1.6v1.6h-1.6zM69.8 537.7h1.6v1.6h-1.6zM119 497.4h1.6v1.6h-1.6zM63.2 504.1h1.6v1.6h-1.6zM89.2 545.9h1.6v1.6h-1.6zM67.3 525.2h1.6v1.6h-1.6zM78.6 515.4h1.6v1.6h-1.6zM71.2 516.1h1.6v1.6h-1.6zM66.1 537.8h1.6v1.6h-1.6zM109.4 503.7h1.6v1.6h-1.6zM87.2 545.8h1.6v1.6h-1.6zM74.8 503.5h1.6v1.6h-1.6zM51.6 503.8h1.6v1.6h-1.6zM70.2 512.4h1.6v1.6h-1.6zM75.5 514.6h1.6v1.6h-1.6zM103 519.6h1.6v1.6h-1.6zM110.4 524.9h1.6v1.6h-1.6zM59 509.3h1.6v1.6h-1.6zM56.3 530.3h1.6v1.6h-1.6zM96.9 490.8h1.6v1.6h-1.6zM41.7 517.4h1.6v1.6h-1.6zM117 486.2h1.6v1.6h-1.6zM73.3 530.5h1.6v1.6h-1.6zM72.1 541.1h1.6v1.6h-1.6zM72.8 522.8h1.6v1.6h-1.6zM75.2 496.5h1.6v1.6h-1.6zM73.5 546.5h1.6v1.6h-1.6zM99.8 532.9h1.6v1.6h-1.6zM69 522.8h1.6v1.6h-1.6zM71.1 538.6h1.6v1.6h-1.6zM73.1 478.2h1.6v1.6h-1.6zM65.7 523.6h1.6v1.6h-1.6zM101.3 498.4h1.6v1.6h-1.6zM93.9 498h1.6v1.6h-1.6zM37.7 544h1.6v1.6h-1.6zM80.8 508h1.6v1.6h-1.6zM104.8 502.7h1.6v1.6h-1.6zM73.3 518.5h1.6v1.6h-1.6zM73.9 514.4h1.6v1.6h-1.6zM92.1 521h1.6v1.6h-1.6zM61.5 538.1h1.6v1.6h-1.6zM100.8 488.5h1.6v1.6h-1.6zM98.6 497h1.6v1.6h-1.6zM95.4 513.9h1.6v1.6h-1.6zM91.9 534.5h1.6v1.6h-1.6zM74 532.8h1.6v1.6h-1.6zM93.2 525.3h1.6v1.6h-1.6zM76 511h1.6v1.6h-1.6zM106.1 526.1h1.6v1.6h-1.6zM58.9 507.3h1.6v1.6h-1.6zM55.4 515h1.6v1.6h-1.6zM66.5 522.8h1.6v1.6h-1.6zM40.7 513.7h1.6v1.6h-1.6zM67.9 537.4h1.6v1.6h-1.6zM121 494.3h1.6v1.6h-1.6zM86.6 522.5h1.6v1.6h-1.6zM80.4 487.3h1.6v1.6h-1.6zM77.6 509.7h1.6v1.6h-1.6zM88.8 532.5h1.6v1.6h-1.6zM80.9 526.8h1.6v1.6h-1.6zM52.6 507.8h1.6v1.6h-1.6zM91.9 513.3h1.6v1.6h-1.6zM59.5 513.4h1.6v1.6h-1.6zM76.2 550.1h1.6v1.6h-1.6zM77 546.9h1.6v1.6h-1.6zM77.7 515.5h1.6v1.6h-1.6zM85.5 512.2h1.6v1.6h-1.6zM81.7 538.6h1.6v1.6h-1.6zM70.3 529.5h1.6v1.6h-1.6zM73.3 514.1h1.6v1.6h-1.6zM90.9 484.2h1.6v1.6h-1.6zM86.5 519.7h1.6v1.6h-1.6zM125.1 489.1h1.6v1.6h-1.6zM44.2 518.7h1.6v1.6h-1.6zM67.5 502h1.6v1.6h-1.6zM56.5 525.2h1.6v1.6h-1.6zM75.5 520.5h1.6v1.6h-1.6zM66.2 512.3h1.6v1.6h-1.6zM98.8 514.3h1.6v1.6h-1.6zM57.3 519.3h1.6v1.6h-1.6zM89.8 518.5h1.6v1.6h-1.6zM77.9 491.6h1.6v1.6h-1.6zM55.2 534.1h1.6v1.6h-1.6zM39 540.7h1.6v1.6h-1.6zM63 539.7h1.6v1.6h-1.6zM63.9 487.7h1.6v1.6h-1.6zM74.2 521.1h1.6v1.6h-1.6zM123.4 508.2h1.6v1.6h-1.6zM42.5 519.1h1.6v1.6h-1.6zM58.9 491.9h1.6v1.6h-1.6zM52.6 535.1h1.6v1.6h-1.6zM45.1 524.2h1.6v1.6h-1.6zM57.3 524.3h1.6v1.6h-1.6zM70.4 531.4h1.6v1.6h-1.6zM97.6 495.8h1.6v1.6h-1.6zM79.5 534.6h1.6v1.6h-1.6zM56.2 518.3h1.6v1.6h-1.6zM127.4 514.7h1.6v1.6h-1.6zM62 535h1.6v1.6h-1.6zM55.7 541.7h1.6v1.6h-1.6zM74 492.1h1.6v1.6h-1.6zM78.2 527.6h1.6v1.6h-1.6zM45 522.1h1.6v1.6h-1.6zM77.6 541.2h1.6v1.6h-1.6zM55.8 524.2h1.6v1.6h-1.6zM99 501.2h1.6v1.6h-1.6zM82.4 523.1h1.6v1.6h-1.6zM84.8 516.6h1.6v1.6h-1.6zM122.9 528.4h1.6v1.6h-1.6zM70.6 496h1.6v1.6h-1.6zM72.7 492.6h1.6v1.6h-1.6zM77.3 515.5h1.6v1.6h-1.6zM70.6 545.8h1.6v1.6h-1.6zM58.2 481.3h1.6v1.6h-1.6zM91.5 503.4h1.6v1.6h-1.6zM97.8 502.6h1.6v1.6h-1.6zM99.2 517.9h1.6v1.6h-1.6zM73.6 500.7h1.6v1.6h-1.6zM70.9 544.8h1.6v1.6h-1.6zM73.6 529.4h1.6v1.6h-1.6zM90.8 528.5h1.6v1.6h-1.6zM56.4 529.5h1.6v1.6h-1.6zM110.2 511.2h1.6v1.6h-1.6zM81.5 517h1.6v1.6h-1.6zM84.3 499.1h1.6v1.6h-1.6zM106.9 541.9h1.6v1.6h-1.6zM106.2 511.3h1.6v1.6h-1.6zM71.6 474.6h1.6v1.6h-1.6zM74.7 482.3h1.6v1.6h-1.6zM98.1 532.5h1.6v1.6h-1.6zM88.3 501.7h1.6v1.6h-1.6zM75.6 525.1h1.6v1.6h-1.6zM74.3 539.8h1.6v1.6h-1.6zM115.8 513.5h1.6v1.6h-1.6zM70.1 525.6h1.6v1.6h-1.6zM62.1 536.5h1.6v1.6h-1.6zM80.1 511.7h1.6v1.6h-1.6zM67.8 522.2h1.6v1.6h-1.6zM49.6 515.1h1.6v1.6h-1.6zM62.8 517.7h1.6v1.6h-1.6zM59.5 532.2h1.6v1.6h-1.6zM82.6 539.7h1.6v1.6h-1.6zM129 506.4h1.6v1.6h-1.6zM76.7 532.2h1.6v1.6h-1.6zM111 484h1.6v1.6h-1.6zM84.4 542.2h1.6v1.6h-1.6zM67.8 509h1.6v1.6h-1.6zM67.7 542.8h1.6v1.6h-1.6zM53.8 538.4h1.6v1.6h-1.6zM78.5 530.1h1.6v1.6h-1.6zM78.6 465.5h1.6v1.6h-1.6zM114.7 528.7h1.6v1.6h-1.6zM85.3 514.7h1.6v1.6h-1.6zM75.4 499.1h1.6v1.6h-1.6zM71.4 525.8h1.6v1.6h-1.6zM70.5 521.8h1.6v1.6h-1.6zM104.7 497h1.6v1.6h-1.6zM50.6 533h1.6v1.6h-1.6zM61.8 506.7h1.6v1.6h-1.6zM82.8 500.2h1.6v1.6h-1.6zM76.9 509.9h1.6v1.6h-1.6zM82.9 507.3h1.6v1.6h-1.6zM51.4 523h1.6v1.6h-1.6zM64 534.3h1.6v1.6h-1.6zM85.5 509.6h1.6v1.6h-1.6zM59.8 533.3h1.6v1.6h-1.6zM101.3 513.5h1.6v1.6h-1.6zM31.9 545.4h1.6v1.6h-1.6zM86.9 484.5h1.6v1.6h-1.6zM102.2 505.3h1.6v1.6h-1.6zM82.3 536.9h1.6v1.6h-1.6zM68.9 526.5h1.6v1.6h-1.6zM62.3 520.7h1.6v1.6h-1.6zM70.1 513.6h1.6v1.6h-1.6zM107.7 497h1.6v1.6h-1.6zM86.8 520.5h1.6v1.6h-1.6zM46.9 527.7h1.6v1.6h-1.6zM89.4 534.2h1.6v1.6h-1.6zM104 518h1.6v1.6h-1.6zM85.9 522.3h1.6v1.6h-1.6zM52.4 485.4h1.6v1.6h-1.6zM54.3 506.6h1.6v1.6h-1.6zM66.8 515.5h1.6v1.6h-1.6zM61.6 529.8h1.6v1.6h-1.6zM97.1 476.9h1.6v1.6h-1.6zM60.8 522h1.6v1.6h-1.6zM97.7 525.1h1.6v1.6h-1.6zM92.8 529.2h1.6v1.6h-1.6zM90.6 506.8h1.6v1.6h-1.6zM103.1 505.1h1.6v1.6h-1.6zM53.6 511.5h1.6v1.6h-1.6zM55.5 509.4h1.6v1.6h-1.6zM109.3 499.3h1.6v1.6h-1.6zM66.8 498.4h1.6v1.6h-1.6zM81.7 540.6h1.6v1.6h-1.6zM70.9 493.1h1.6v1.6h-1.6zM71.9 517.2h1.6v1.6h-1.6zM71.1 551.4h1.6v1.6h-1.6zM67.7 513.9h1.6v1.6h-1.6zM82.5 520.2h1.6v1.6h-1.6zM34.3 505.7h1.6v1.6h-1.6zM93 495.2h1.6v1.6h-1.6zM105 519.9h1.6v1.6h-1.6zM65.8 515.1h1.6v1.6h-1.6zM112.6 541.3h1.6v1.6h-1.6zM73.5 532.6h1.6v1.6h-1.6zM89.7 487.7h1.6v1.6h-1.6zM72.1 542.8h1.6v1.6h-1.6zM79.2 523.1h1.6v1.6h-1.6zM46.4 509.1h1.6v1.6h-1.6zM67.4 507.8h1.6v1.6h-1.6zM51.1 504h1.6v1.6h-1.6zM48.5 505.4h1.6v1.6h-1.6zM40.9 501.1h1.6v1.6h-1.6zM70.5 549.1h1.6v1.6h-1.6zM73.4 512.9h1.6v1.6h-1.6zM57.8 532.2h1.6v1.6h-1.6zM83.7 519.8h1.6v1.6h-1.6zM69.4 512.1h1.6v1.6h-1.6zM84.3 497.6h1.6v1.6h-1.6zM64 473.5h1.6v1.6h-1.6zM94.7 508.2h1.6v1.6h-1.6zM100.5 494.7h1.6v1.6h-1.6zM80.3 529.2h1.6v1.6h-1.6zM99.3 505h1.6v1.6h-1.6zM39.2 548.2h1.6v1.6h-1.6zM87.8 513.6h1.6v1.6h-1.6zM84 504.6h1.6v1.6h-1.6zM81.2 487.6h1.6v1.6h-1.6zM66.1 528.5h1.6v1.6h-1.6zM84.8 502.4h1.6v1.6h-1.6zM94.4 486.2h1.6v1.6h-1.6zM68.4 498.5h1.6v1.6h-1.6zM87.8 535.3h1.6v1.6h-1.6zM75.4 479.5h1.6v1.6h-1.6zM94.4 522.9h1.6v1.6h-1.6zM63.1 534.9h1.6v1.6h-1.6zM79.8 474.3h1.6v1.6h-1.6zM93.6 508.4h1.6v1.6h-1.6zM59 544.9h1.6v1.6h-1.6zM73.9 527.8h1.6v1.6h-1.6zM140.1 510.6h1.6v1.6h-1.6zM65.5 499.9h1.6v1.6h-1.6zM79.8 540.8h1.6v1.6h-1.6zM104.7 517.5h1.6v1.6h-1.6zM50.8 518.6h1.6v1.6h-1.6zM88.2 521.9h1.6v1.6h-1.6zM92.6 499.1h1.6v1.6h-1.6zM60 524.8h1.6v1.6h-1.6zM103.5 493.1h1.6v1.6h-1.6zM106.9 476.2h1.6v1.6h-1.6zM78.5 498.1h1.6v1.6h-1.6zM46.7 512.7h1.6v1.6h-1.6zM86.3 517.8h1.6v1.6h-1.6zM69.1 541.2h1.6v1.6h-1.6zM81.1 493.3h1.6v1.6h-1.6zM70.6 509.9h1.6v1.6h-1.6zM64.5 516.6h1.6v1.6h-1.6zM57.5 515.9h1.6v1.6h-1.6zM73.7 513.2h1.6v1.6h-1.6zM65.7 543.1h1.6v1.6h-1.6zM71.4 500.2h1.6v1.6h-1.6zM110.7 516.2h1.6v1.6h-1.6zM94.7 499.8h1.6v1.6h-1.6zM86.3 545.2h1.6v1.6h-1.6zM84.9 534.6h1.6v1.6h-1.6zM102.4 497.4h1.6v1.6h-1.6zM90.9 503.3h1.6v1.6h-1.6zM92.6 538.5h1.6v1.6h-1.6zM98.2 511.8h1.6v1.6h-1.6zM74.4 532.3h1.6v1.6h-1.6zM57.2 531.2h1.6v1.6h-1.6zM82.4 513.1h1.6v1.6h-1.6zM64.9 532.8h1.6v1.6h-1.6zM99.7 452.3h1.6v1.6h-1.6zM74.6 459.5h1.6v1.6h-1.6zM69.2 462.4h1.6v1.6h-1.6zM83.6 465.3h1.6v1.6h-1.6zM94.3 462.4h1.6v1.6h-1.6zM115.8 466.7h1.6v1.6h-1.6zM122.9 471.1h1.6v1.6h-1.6zM126.5 481.2h1.6v1.6h-1.6zM137.3 475.4h1.6v1.6h-1.6zM137.3 492.7h1.6v1.6h-1.6z" stroke="none" fill="#111" stroke-width="1"/>
<rect x="29.1" y="449.2" width="114.3" height="109.1" fill="none" stroke="#444" stroke-width="1"/>
<line x1="26.1" y1="554.2" x2="29.1" y2="554.2" stroke="#444" stroke-width="1"/>
<text x="23.1" y="554.2" font-size="10.4" text-anchor="middle" fill="#1a1a1a" transform="rotate(-90 23.1 554.2)">1</text>
<line x1="26.1" y1="539.8" x2="29.1" y2="539.8" stroke="#444" stroke-width="1"/>
<text x="23.1" y="539.8" font-size="10.4" text-anchor="middle" fill="#1a1a1a" transform="rotate(-90 23.1 539.8)">2</text>
<line x1="26.1" y1="525.3" x2="29.1" y2="525.3" stroke="#444" stroke-width="1"/>
<text x="23.1" y="525.3" font-size="10.4" text-anchor="middle" fill="#1a1a1a" transform="rotate(-90 23.1 525.3)">3</text>
<line x1="26.1" y1="510.9" x2="29.1" y2="510.9" stroke="#444" stroke-width="1"/>
<text x="23.1" y="510.9" font-size="10.4" text-anchor="middle" fill="#1a1a1a" transform="rotate(-90 23.1 510.9)">4</text>
<line x1="26.1" y1="496.4" x2="29.1" y2="496.4" stroke="#444" stroke-width="1"/>
<text x="23.1" y="496.4" font-size="10.4" text-anchor="middle" fill="#1a1a1a" transform="rotate(-90 23.1 496.4)">5</text>
<line x1="26.1" y1="482" x2="29.1" y2="482" stroke="#444" stroke-width="1"/>
<text x="23.1" y="482" font-size="10.4" text-anchor="middle" fill="#1a1a1a" transform="rotate(-90 23.1 482)">6</text>
<line x1="26.1" y1="467.5" x2="29.1" y2="467.5" stroke="#444" stroke-width="1"/>
<text x="23.1" y="467.5" font-size="10.4" text-anchor="middle" fill="#1a1a1a" transform="rotate(-90 23.1 467.5)">7</text>
<line x1="26.1" y1="453.1" x2="29.1" y2="453.1" stroke="#444" stroke-width="1"/>
<text x="23.1" y="453.1" font-size="10.4" text-anchor="middle" fill="#1a1a1a" transform="rotate(-90 23.1 453.1)">8</text>
<line x1="43.2" y1="558.3" x2="43.2" y2="561.6" stroke="#444" stroke-width="1"/>
<text x="43.2" y="571.7" font-size="10.4" text-anchor="middle" fill="#1a1a1a">4</text>
<line x1="61.1" y1="558.3" x2="61.1" y2="561.6" stroke="#444" stroke-width="1"/>
<text x="61.1" y="571.7" font-size="10.4" text-anchor="middle" fill="#1a1a1a">5</text>
<line x1="79" y1="558.3" x2="79" y2="561.6" stroke="#444" stroke-width="1"/>
<text x="79" y="571.7" font-size="10.4" text-anchor="middle" fill="#1a1a1a">6</text>
<line x1="96.9" y1="558.3" x2="96.9" y2="561.6" stroke="#444" stroke-width="1"/>
<text x="96.9" y="571.7" font-size="10.4" text-anchor="middle" fill="#1a1a1a">7</text>
<line x1="114.8" y1="558.3" x2="114.8" y2="561.6" stroke="#444" stroke-width="1"/>
<text x="114.8" y="571.7" font-size="10.4" text-anchor="middle" fill="#1a1a1a">8</text>
<line x1="132.7" y1="558.3" x2="132.7" y2="561.6" stroke="#444" stroke-width="1"/>
<text x="132.7" y="571.7" font-size="10.4" text-anchor="middle" fill="#1a1a1a">9</text>
<text x="87" y="445.3" font-size="10.6" text-anchor="middle" fill="#1a1a1a">RPL22L1, P<0.0001</text>
<path d="M167.1 532h1.6v1.6h-1.6zM166.8 536.9h1.6v1.6h-1.6zM167.4 512.9h1.6v1.6h-1.6zM168 502.7h1.6v1.6h-1.6zM167 533.5h1.6v1.6h-1.6zM168 516.1h1.6v1.6h-1.6zM166.9 522.5h1.6v1.6h-1.6zM167.2 510.1h1.6v1.6h-1.6zM167.6 518.9h1.6v1.6h-1.6zM167.1 524.9h1.6v1.6h-1.6zM166.8 510.2h1.6v1.6h-1.6zM167.9 521.7h1.6v1.6h-1.6zM167 533h1.6v1.6h-1.6zM166.8 518.8h1.6v1.6h-1.6zM167.4 530.8h1.6v1.6h-1.6zM167.6 526.6h1.6v1.6h-1.6zM167.3 509.1h1.6v1.6h-1.6zM167.2 513.7h1.6v1.6h-1.6zM168.2 506.8h1.6v1.6h-1.6zM167.9 498h1.6v1.6h-1.6zM167.2 506.6h1.6v1.6h-1.6zM167.2 526.1h1.6v1.6h-1.6zM168.2 501.1h1.6v1.6h-1.6zM167 510.8h1.6v1.6h-1.6zM167 524.4h1.6v1.6h-1.6zM167.4 516.9h1.6v1.6h-1.6zM167.1 539.7h1.6v1.6h-1.6zM166.7 498.5h1.6v1.6h-1.6zM167.7 527.1h1.6v1.6h-1.6zM168.9 544.4h1.6v1.6h-1.6zM167 524.2h1.6v1.6h-1.6zM166.9 529h1.6v1.6h-1.6zM168.1 532.3h1.6v1.6h-1.6zM167 521.9h1.6v1.6h-1.6zM167.7 486.8h1.6v1.6h-1.6zM168.9 531.4h1.6v1.6h-1.6zM167.9 542h1.6v1.6h-1.6zM167.5 515.1h1.6v1.6h-1.6zM167.5 534.4h1.6v1.6h-1.6zM167.4 531.4h1.6v1.6h-1.6zM166.7 530.4h1.6v1.6h-1.6zM167.7 524h1.6v1.6h-1.6zM167.1 492.7h1.6v1.6h-1.6zM167.5 517.4h1.6v1.6h-1.6zM167.2 542.8h1.6v1.6h-1.6zM169.4 467h1.6v1.6h-1.6zM166.9 537.3h1.6v1.6h-1.6zM167.1 500.2h1.6v1.6h-1.6zM167.5 521h1.6v1.6h-1.6zM166.8 524.9h1.6v1.6h-1.6zM168.4 539.9h1.6v1.6h-1.6zM167.5 524.8h1.6v1.6h-1.6zM166.8 536.3h1.6v1.6h-1.6zM167 499.1h1.6v1.6h-1.6zM167.1 519.3h1.6v1.6h-1.6zM167.4 519.7h1.6v1.6h-1.6zM167 455.7h1.6v1.6h-1.6zM167.5 545.2h1.6v1.6h-1.6zM166.8 529.8h1.6v1.6h-1.6zM168.3 532.9h1.6v1.6h-1.6zM166.8 527.3h1.6v1.6h-1.6zM166.7 520.3h1.6v1.6h-1.6zM166.9 508h1.6v1.6h-1.6zM167.9 536.4h1.6v1.6h-1.6zM167.3 505.1h1.6v1.6h-1.6zM168.4 514.2h1.6v1.6h-1.6zM168.6 505.6h1.6v1.6h-1.6zM166.7 529.4h1.6v1.6h-1.6zM168.5 533.6h1.6v1.6h-1.6zM167.1 531.7h1.6v1.6h-1.6zM167.5 533h1.6v1.6h-1.6zM168.2 509.5h1.6v1.6h-1.6zM168.3 501.9h1.6v1.6h-1.6zM167.5 496.6h1.6v1.6h-1.6zM167.6 505.4h1.6v1.6h-1.6zM167.6 508.4h1.6v1.6h-1.6zM167.2 515.3h1.6v1.6h-1.6zM166.8 529.4h1.6v1.6h-1.6zM166.8 498.9h1.6v1.6h-1.6zM167.5 493.8h1.6v1.6h-1.6zM167.5 530.6h1.6v1.6h-1.6zM168.5 523.6h1.6v1.6h-1.6zM167.8 504.7h1.6v1.6h-1.6zM166.7 524.5h1.6v1.6h-1.6zM166.7 522.5h1.6v1.6h-1.6zM167.3 510.1h1.6v1.6h-1.6zM167 519.9h1.6v1.6h-1.6zM167.3 508.2h1.6v1.6h-1.6zM168.3 550h1.6v1.6h-1.6zM168 514.4h1.6v1.6h-1.6zM167.5 527.5h1.6v1.6h-1.6zM167.8 527.3h1.6v1.6h-1.6zM167.5 541.3h1.6v1.6h-1.6zM168.3 521.2h1.6v1.6h-1.6zM168.7 524.8h1.6v1.6h-1.6zM166.7 528.7h1.6v1.6h-1.6zM166.7 504.7h1.6v1.6h-1.6zM167 545.1h1.6v1.6h-1.6zM167.2 519.5h1.6v1.6h-1.6zM166.9 520.2h1.6v1.6h-1.6zM166.9 535.2h1.6v1.6h-1.6zM167.7 503.4h1.6v1.6h-1.6zM166.8 530.7h1.6v1.6h-1.6zM166.9 491.9h1.6v1.6h-1.6zM167.5 544.8h1.6v1.6h-1.6zM167 512.6h1.6v1.6h-1.6zM167.2 528.1h1.6v1.6h-1.6zM167.7 522h1.6v1.6h-1.6zM167.8 516.4h1.6v1.6h-1.6zM167.1 508.3h1.6v1.6h-1.6zM167.7 473.9h1.6v1.6h-1.6zM167.5 514.6h1.6v1.6h-1.6zM167.1 482.7h1.6v1.6h-1.6zM168.1 538.8h1.6v1.6h-1.6zM166.7 520.3h1.6v1.6h-1.6zM166.9 514h1.6v1.6h-1.6zM166.9 524.7h1.6v1.6h-1.6zM167.5 509.9h1.6v1.6h-1.6zM166.8 543.6h1.6v1.6h-1.6zM166.7 501.9h1.6v1.6h-1.6zM168.6 512.2h1.6v1.6h-1.6zM167.9 485.4h1.6v1.6h-1.6zM167.5 516.6h1.6v1.6h-1.6zM167.4 515.4h1.6v1.6h-1.6zM167.4 506.6h1.6v1.6h-1.6zM167.5 512.4h1.6v1.6h-1.6zM167.3 517.3h1.6v1.6h-1.6zM167.4 528.4h1.6v1.6h-1.6zM166.8 516.6h1.6v1.6h-1.6zM167.6 505.3h1.6v1.6h-1.6zM167.4 546.2h1.6v1.6h-1.6zM166.9 516.4h1.6v1.6h-1.6zM167.1 511.4h1.6v1.6h-1.6zM166.9 509.9h1.6v1.6h-1.6zM167.8 530.8h1.6v1.6h-1.6zM167 517h1.6v1.6h-1.6zM167 525.4h1.6v1.6h-1.6zM168.5 526.4h1.6v1.6h-1.6zM167.4 510.7h1.6v1.6h-1.6zM167.1 525h1.6v1.6h-1.6zM166.7 519.9h1.6v1.6h-1.6zM166.9 523.2h1.6v1.6h-1.6zM166.8 536.3h1.6v1.6h-1.6zM167.1 523.2h1.6v1.6h-1.6zM167.3 524.3h1.6v1.6h-1.6zM167.1 524.5h1.6v1.6h-1.6zM168 542.1h1.6v1.6h-1.6zM167.8 523.7h1.6v1.6h-1.6zM167.4 517.1h1.6v1.6h-1.6zM166.7 544.2h1.6v1.6h-1.6zM167.3 523.3h1.6v1.6h-1.6zM167.6 548.6h1.6v1.6h-1.6zM167.1 465.6h1.6v1.6h-1.6zM167.8 524.4h1.6v1.6h-1.6zM166.9 524.1h1.6v1.6h-1.6zM166.8 528.2h1.6v1.6h-1.6zM167.5 512.2h1.6v1.6h-1.6zM167.4 509.5h1.6v1.6h-1.6zM167.7 509.2h1.6v1.6h-1.6zM167.1 509h1.6v1.6h-1.6zM167.6 541.4h1.6v1.6h-1.6zM167.1 530.8h1.6v1.6h-1.6zM167.2 524.2h1.6v1.6h-1.6zM166.8 534.1h1.6v1.6h-1.6zM167.1 520.2h1.6v1.6h-1.6zM166.8 505.7h1.6v1.6h-1.6zM167.3 524.7h1.6v1.6h-1.6zM167.1 547.1h1.6v1.6h-1.6zM168 550.8h1.6v1.6h-1.6zM167.6 534.2h1.6v1.6h-1.6zM167.5 530.2h1.6v1.6h-1.6zM167 464.5h1.6v1.6h-1.6zM168 498.8h1.6v1.6h-1.6zM167.3 507.2h1.6v1.6h-1.6zM168.1 489.7h1.6v1.6h-1.6zM166.9 510.5h1.6v1.6h-1.6zM166.6 519.6h1.6v1.6h-1.6zM167.1 513.6h1.6v1.6h-1.6zM167.3 534.9h1.6v1.6h-1.6zM168.1 519.7h1.6v1.6h-1.6zM167.2 510.7h1.6v1.6h-1.6zM167.1 527.6h1.6v1.6h-1.6zM167.9 470.1h1.6v1.6h-1.6zM167.3 503.2h1.6v1.6h-1.6zM167.4 525.6h1.6v1.6h-1.6zM166.6 538h1.6v1.6h-1.6zM166.6 507.4h1.6v1.6h-1.6zM167.1 520.8h1.6v1.6h-1.6zM167 517.4h1.6v1.6h-1.6zM167.3 509.9h1.6v1.6h-1.6zM167.1 465.5h1.6v1.6h-1.6zM166.7 520.6h1.6v1.6h-1.6zM167.7 538h1.6v1.6h-1.6zM167.5 522.9h1.6v1.6h-1.6zM167.4 518.6h1.6v1.6h-1.6zM168.3 496h1.6v1.6h-1.6zM167.8 509.4h1.6v1.6h-1.6zM167.4 542.9h1.6v1.6h-1.6zM167.5 505.2h1.6v1.6h-1.6zM166.7 518h1.6v1.6h-1.6zM168.7 534.1h1.6v1.6h-1.6zM167 534.1h1.6v1.6h-1.6zM168.2 548.5h1.6v1.6h-1.6zM167.8 517.1h1.6v1.6h-1.6zM166.8 525.6h1.6v1.6h-1.6zM169.3 521.8h1.6v1.6h-1.6zM166.8 534.1h1.6v1.6h-1.6zM166.7 511.6h1.6v1.6h-1.6zM168.2 535.7h1.6v1.6h-1.6zM167.4 505.9h1.6v1.6h-1.6zM166.7 545h1.6v1.6h-1.6zM167.1 517.1h1.6v1.6h-1.6zM167 528h1.6v1.6h-1.6zM167.1 519.6h1.6v1.6h-1.6zM167.7 517.9h1.6v1.6h-1.6zM167.1 528.4h1.6v1.6h-1.6zM167.4 518.6h1.6v1.6h-1.6zM166.9 522.1h1.6v1.6h-1.6zM166.7 513.3h1.6v1.6h-1.6zM167.5 533h1.6v1.6h-1.6zM167.3 532.5h1.6v1.6h-1.6zM166.9 533.8h1.6v1.6h-1.6zM167.8 526.8h1.6v1.6h-1.6zM167 452.9h1.6v1.6h-1.6zM168.6 508.5h1.6v1.6h-1.6zM167.8 511.5h1.6v1.6h-1.6zM166.7 508h1.6v1.6h-1.6zM167 526.6h1.6v1.6h-1.6zM167.6 511.1h1.6v1.6h-1.6zM168.7 546.1h1.6v1.6h-1.6zM166.9 521.5h1.6v1.6h-1.6zM167.5 508.6h1.6v1.6h-1.6zM167.9 543.2h1.6v1.6h-1.6zM167.5 524.7h1.6v1.6h-1.6zM166.6 488.5h1.6v1.6h-1.6zM167.2 525h1.6v1.6h-1.6zM167.5 504.7h1.6v1.6h-1.6zM167.4 504.7h1.6v1.6h-1.6zM167 489.4h1.6v1.6h-1.6zM167.3 512.9h1.6v1.6h-1.6zM167 497.1h1.6v1.6h-1.6zM166.9 528.4h1.6v1.6h-1.6zM167.1 509.7h1.6v1.6h-1.6zM167.6 519.2h1.6v1.6h-1.6zM167.1 532.7h1.6v1.6h-1.6zM167.6 521h1.6v1.6h-1.6zM166.7 509.9h1.6v1.6h-1.6zM167 531.2h1.6v1.6h-1.6zM167.8 507.9h1.6v1.6h-1.6zM166.8 520.8h1.6v1.6h-1.6zM167.9 547.4h1.6v1.6h-1.6zM168.6 529.5h1.6v1.6h-1.6zM167.3 515.5h1.6v1.6h-1.6zM167.8 466.8h1.6v1.6h-1.6zM167.3 532.6h1.6v1.6h-1.6zM167.9 502.1h1.6v1.6h-1.6zM167.8 514h1.6v1.6h-1.6zM167.1 513.3h1.6v1.6h-1.6zM167.6 527.9h1.6v1.6h-1.6zM167.3 531.5h1.6v1.6h-1.6zM168.3 538.9h1.6v1.6h-1.6zM169.3 511.3h1.6v1.6h-1.6zM167.2 512.7h1.6v1.6h-1.6zM167.9 540.6h1.6v1.6h-1.6zM167.6 521.2h1.6v1.6h-1.6zM167.3 469.6h1.6v1.6h-1.6zM167.7 523.5h1.6v1.6h-1.6zM168.2 508.6h1.6v1.6h-1.6zM166.6 494h1.6v1.6h-1.6zM168.3 526.7h1.6v1.6h-1.6zM166.9 499.8h1.6v1.6h-1.6zM168 528.8h1.6v1.6h-1.6zM166.7 475.5h1.6v1.6h-1.6zM168.2 498.8h1.6v1.6h-1.6zM167.5 524.6h1.6v1.6h-1.6zM166.9 536.5h1.6v1.6h-1.6zM168 541.5h1.6v1.6h-1.6zM167 491h1.6v1.6h-1.6zM167.4 546.1h1.6v1.6h-1.6zM167.2 520.9h1.6v1.6h-1.6zM167.6 536.5h1.6v1.6h-1.6zM167.1 533.5h1.6v1.6h-1.6zM167 509.5h1.6v1.6h-1.6zM166.8 500.9h1.6v1.6h-1.6zM166.8 513.3h1.6v1.6h-1.6zM167.1 518.6h1.6v1.6h-1.6zM167.7 527.4h1.6v1.6h-1.6zM167.6 521.4h1.6v1.6h-1.6zM167.4 527h1.6v1.6h-1.6zM166.9 544h1.6v1.6h-1.6zM167.4 536.7h1.6v1.6h-1.6zM166.9 518.4h1.6v1.6h-1.6zM166.8 530.3h1.6v1.6h-1.6zM167 491.6h1.6v1.6h-1.6zM167.4 537.4h1.6v1.6h-1.6zM167.4 526h1.6v1.6h-1.6zM167.4 529.5h1.6v1.6h-1.6zM167.2 514.5h1.6v1.6h-1.6zM167.3 523.6h1.6v1.6h-1.6zM166.9 529.7h1.6v1.6h-1.6zM167.9 497.5h1.6v1.6h-1.6zM167.3 467.4h1.6v1.6h-1.6zM167 526.5h1.6v1.6h-1.6zM166.8 544.5h1.6v1.6h-1.6zM167.2 509.6h1.6v1.6h-1.6zM167 457.4h1.6v1.6h-1.6zM167.3 531.1h1.6v1.6h-1.6zM167.4 532.5h1.6v1.6h-1.6zM166.8 550.4h1.6v1.6h-1.6zM168 453h1.6v1.6h-1.6zM167.9 503.6h1.6v1.6h-1.6zM167.5 534.4h1.6v1.6h-1.6zM166.8 511.5h1.6v1.6h-1.6zM169.2 525.7h1.6v1.6h-1.6zM167 520.5h1.6v1.6h-1.6zM167 532.1h1.6v1.6h-1.6zM167.6 520.7h1.6v1.6h-1.6zM168.2 519h1.6v1.6h-1.6zM167.1 491.7h1.6v1.6h-1.6zM166.8 462.8h1.6v1.6h-1.6zM167.4 518.1h1.6v1.6h-1.6zM167 521.7h1.6v1.6h-1.6zM167 503.9h1.6v1.6h-1.6zM167 523.3h1.6v1.6h-1.6zM167.3 521.1h1.6v1.6h-1.6zM166.7 505.3h1.6v1.6h-1.6zM166.8 504.7h1.6v1.6h-1.6zM168.2 513.1h1.6v1.6h-1.6zM166.9 500.3h1.6v1.6h-1.6zM167 542.1h1.6v1.6h-1.6zM180.1 536.2h1.6v1.6h-1.6zM169.9 498.4h1.6v1.6h-1.6zM174.2 509.3h1.6v1.6h-1.6zM172.8 512.8h1.6v1.6h-1.6zM170.7 521.5h1.6v1.6h-1.6zM168 496.9h1.6v1.6h-1.6zM180.4 499.1h1.6v1.6h-1.6zM171.7 506.5h1.6v1.6h-1.6zM169.9 515.1h1.6v1.6h-1.6zM168.2 510.7h1.6v1.6h-1.6zM177.2 500.3h1.6v1.6h-1.6zM169.4 539.5h1.6v1.6h-1.6zM175.9 508h1.6v1.6h-1.6zM178.7 531.8h1.6v1.6h-1.6zM176.5 519.9h1.6v1.6h-1.6zM169.8 520.2h1.6v1.6h-1.6zM169 478.5h1.6v1.6h-1.6zM169.6 530.9h1.6v1.6h-1.6zM169.5 500.2h1.6v1.6h-1.6zM170 516.2h1.6v1.6h-1.6zM174.6 508.1h1.6v1.6h-1.6zM168.1 535.1h1.6v1.6h-1.6zM169.8 514.5h1.6v1.6h-1.6zM168.8 494.2h1.6v1.6h-1.6zM169.3 498.7h1.6v1.6h-1.6zM170.3 505.9h1.6v1.6h-1.6zM170.4 476.7h1.6v1.6h-1.6zM167.9 480.9h1.6v1.6h-1.6zM167.9 552.9h1.6v1.6h-1.6zM169.6 538.6h1.6v1.6h-1.6zM171.3 521.7h1.6v1.6h-1.6zM171.4 497.5h1.6v1.6h-1.6zM171.2 519.5h1.6v1.6h-1.6zM170.6 488.3h1.6v1.6h-1.6zM173.1 501.6h1.6v1.6h-1.6zM169 507.2h1.6v1.6h-1.6zM169.1 504h1.6v1.6h-1.6zM175.1 530.5h1.6v1.6h-1.6zM169.8 516.9h1.6v1.6h-1.6zM168.2 480.3h1.6v1.6h-1.6zM183.2 501.2h1.6v1.6h-1.6zM169.3 525.8h1.6v1.6h-1.6zM174.2 503.2h1.6v1.6h-1.6zM168.1 538.2h1.6v1.6h-1.6zM173.2 483h1.6v1.6h-1.6zM170.9 501.7h1.6v1.6h-1.6zM177.6 512.8h1.6v1.6h-1.6zM177.9 513.4h1.6v1.6h-1.6zM173.1 511.9h1.6v1.6h-1.6zM172.8 511.1h1.6v1.6h-1.6zM169.9 534.9h1.6v1.6h-1.6zM177.1 478.6h1.6v1.6h-1.6zM170.1 494.1h1.6v1.6h-1.6zM173 525.9h1.6v1.6h-1.6zM170 494.8h1.6v1.6h-1.6zM187.7 463.9h1.6v1.6h-1.6zM204.7 479.7h1.6v1.6h-1.6zM272.6 478.3h1.6v1.6h-1.6zM186.3 492.7h1.6v1.6h-1.6zM196.2 494.2h1.6v1.6h-1.6zM208.9 491.3h1.6v1.6h-1.6zM208.9 497.1h1.6v1.6h-1.6zM224.5 495.6h1.6v1.6h-1.6zM190.6 507.2h1.6v1.6h-1.6zM193.4 508.6h1.6v1.6h-1.6zM196.2 510.8h1.6v1.6h-1.6zM264.1 514.4h1.6v1.6h-1.6zM187.7 523.1h1.6v1.6h-1.6zM214.6 523.1h1.6v1.6h-1.6zM223.1 526h1.6v1.6h-1.6zM231.6 524.5h1.6v1.6h-1.6zM232.2 522.8h1.6v1.6h-1.6zM248.6 530.3h1.6v1.6h-1.6zM189.1 528.1h1.6v1.6h-1.6zM194.8 530.3h1.6v1.6h-1.6zM201.9 528.8h1.6v1.6h-1.6zM201.9 526h1.6v1.6h-1.6zM182.1 530.3h1.6v1.6h-1.6zM194.8 539h1.6v1.6h-1.6zM175 543.3h1.6v1.6h-1.6zM172.7 553.4h1.6v1.6h-1.6zM179.2 484.1h1.6v1.6h-1.6zM183.5 478.3h1.6v1.6h-1.6zM179.2 504.3h1.6v1.6h-1.6zM180.7 505.7h1.6v1.6h-1.6zM176.4 508.6h1.6v1.6h-1.6zM184.9 495.6h1.6v1.6h-1.6zM182.1 498.5h1.6v1.6h-1.6zM175 469.6h1.6v1.6h-1.6zM177.8 474h1.6v1.6h-1.6zM173.6 466.7h1.6v1.6h-1.6zM170.7 459.5h1.6v1.6h-1.6z" stroke="none" fill="#111" stroke-width="1"/>
<rect x="163.3" y="448.6" width="114.4" height="110" fill="none" stroke="#444" stroke-width="1"/>
<line x1="160.3" y1="554.2" x2="163.3" y2="554.2" stroke="#444" stroke-width="1"/>
<text x="157.3" y="554.2" font-size="10.4" text-anchor="middle" fill="#1a1a1a" transform="rotate(-90 157.3 554.2)">1</text>
<line x1="160.3" y1="539.8" x2="163.3" y2="539.8" stroke="#444" stroke-width="1"/>
<text x="157.3" y="539.8" font-size="10.4" text-anchor="middle" fill="#1a1a1a" transform="rotate(-90 157.3 539.8)">2</text>
<line x1="160.3" y1="525.3" x2="163.3" y2="525.3" stroke="#444" stroke-width="1"/>
<text x="157.3" y="525.3" font-size="10.4" text-anchor="middle" fill="#1a1a1a" transform="rotate(-90 157.3 525.3)">3</text>
<line x1="160.3" y1="510.9" x2="163.3" y2="510.9" stroke="#444" stroke-width="1"/>
<text x="157.3" y="510.9" font-size="10.4" text-anchor="middle" fill="#1a1a1a" transform="rotate(-90 157.3 510.9)">4</text>
<line x1="160.3" y1="496.4" x2="163.3" y2="496.4" stroke="#444" stroke-width="1"/>
<text x="157.3" y="496.4" font-size="10.4" text-anchor="middle" fill="#1a1a1a" transform="rotate(-90 157.3 496.4)">5</text>
<line x1="160.3" y1="482" x2="163.3" y2="482" stroke="#444" stroke-width="1"/>
<text x="157.3" y="482" font-size="10.4" text-anchor="middle" fill="#1a1a1a" transform="rotate(-90 157.3 482)">6</text>
<line x1="160.3" y1="467.5" x2="163.3" y2="467.5" stroke="#444" stroke-width="1"/>
<text x="157.3" y="467.5" font-size="10.4" text-anchor="middle" fill="#1a1a1a" transform="rotate(-90 157.3 467.5)">7</text>
<line x1="160.3" y1="453.1" x2="163.3" y2="453.1" stroke="#444" stroke-width="1"/>
<text x="157.3" y="453.1" font-size="10.4" text-anchor="middle" fill="#1a1a1a" transform="rotate(-90 157.3 453.1)">8</text>
<line x1="167.3" y1="558.6" x2="167.3" y2="561.9" stroke="#444" stroke-width="1"/>
<text x="167.3" y="571.9" font-size="10.4" text-anchor="middle" fill="#1a1a1a">0</text>
<line x1="195.6" y1="558.6" x2="195.6" y2="561.9" stroke="#444" stroke-width="1"/>
<text x="195.6" y="571.9" font-size="10.4" text-anchor="middle" fill="#1a1a1a">1</text>
<line x1="223.9" y1="558.6" x2="223.9" y2="561.9" stroke="#444" stroke-width="1"/>
<text x="223.9" y="571.9" font-size="10.4" text-anchor="middle" fill="#1a1a1a">2</text>
<line x1="252.2" y1="558.6" x2="252.2" y2="561.9" stroke="#444" stroke-width="1"/>
<text x="252.2" y="571.9" font-size="10.4" text-anchor="middle" fill="#1a1a1a">3</text>
<text x="221.3" y="445.3" font-size="10.6" text-anchor="middle" fill="#1a1a1a">RALYL, P=0.00024</text>
<path d="M351.2 516.1h1.6v1.6h-1.6zM335 531.1h1.6v1.6h-1.6zM369.3 503.1h1.6v1.6h-1.6zM320.9 542.9h1.6v1.6h-1.6zM344.9 520.9h1.6v1.6h-1.6zM314.3 515.5h1.6v1.6h-1.6zM316.2 532.9h1.6v1.6h-1.6zM359.6 534.4h1.6v1.6h-1.6zM325.7 518.6h1.6v1.6h-1.6zM369.5 516.3h1.6v1.6h-1.6zM336.9 534.8h1.6v1.6h-1.6zM345.5 532.9h1.6v1.6h-1.6zM337.4 538.5h1.6v1.6h-1.6zM362.5 505.4h1.6v1.6h-1.6zM359.8 512.1h1.6v1.6h-1.6zM363.1 514.3h1.6v1.6h-1.6zM356.7 515h1.6v1.6h-1.6zM354.7 528.9h1.6v1.6h-1.6zM320.4 542.3h1.6v1.6h-1.6zM355.8 515h1.6v1.6h-1.6zM317.3 543.4h1.6v1.6h-1.6zM322.3 524.9h1.6v1.6h-1.6zM333.3 530.5h1.6v1.6h-1.6zM319.6 534.8h1.6v1.6h-1.6zM374.1 518.4h1.6v1.6h-1.6zM327.6 515.5h1.6v1.6h-1.6zM353.2 530.6h1.6v1.6h-1.6zM362 528.2h1.6v1.6h-1.6zM349.3 544.5h1.6v1.6h-1.6zM312.4 528.4h1.6v1.6h-1.6zM321.9 539.3h1.6v1.6h-1.6zM337.3 526.7h1.6v1.6h-1.6zM324.9 537.6h1.6v1.6h-1.6zM378.9 497.1h1.6v1.6h-1.6zM343.9 534.4h1.6v1.6h-1.6zM323.5 534.8h1.6v1.6h-1.6zM347.7 508.4h1.6v1.6h-1.6zM323.7 530.8h1.6v1.6h-1.6zM325.8 530h1.6v1.6h-1.6zM319.7 530.3h1.6v1.6h-1.6zM363.7 519.9h1.6v1.6h-1.6zM328.3 529.3h1.6v1.6h-1.6zM304.8 523.4h1.6v1.6h-1.6zM304.2 543h1.6v1.6h-1.6zM315 522.2h1.6v1.6h-1.6zM324.5 536.3h1.6v1.6h-1.6zM381 510.6h1.6v1.6h-1.6zM317.6 534.6h1.6v1.6h-1.6zM340.7 532h1.6v1.6h-1.6zM331.7 530.8h1.6v1.6h-1.6zM353.3 513.6h1.6v1.6h-1.6zM355.9 520.5h1.6v1.6h-1.6zM355.1 521.6h1.6v1.6h-1.6zM363.7 512.8h1.6v1.6h-1.6zM326 520.3h1.6v1.6h-1.6zM313 543.4h1.6v1.6h-1.6zM333 539.4h1.6v1.6h-1.6zM307.5 555.2h1.6v1.6h-1.6zM338.8 533h1.6v1.6h-1.6zM388.2 499.8h1.6v1.6h-1.6zM308.9 526.2h1.6v1.6h-1.6zM338.6 516.7h1.6v1.6h-1.6zM309.7 527.3h1.6v1.6h-1.6zM362.2 520.6h1.6v1.6h-1.6zM315.9 538.5h1.6v1.6h-1.6zM342.4 503.4h1.6v1.6h-1.6zM379.1 497h1.6v1.6h-1.6zM330.9 532.2h1.6v1.6h-1.6zM344.8 526.2h1.6v1.6h-1.6zM325 533.4h1.6v1.6h-1.6zM356.2 519.9h1.6v1.6h-1.6zM341.7 527.3h1.6v1.6h-1.6zM331.5 532h1.6v1.6h-1.6zM366.1 513.3h1.6v1.6h-1.6zM371.6 514.8h1.6v1.6h-1.6zM361.4 529.5h1.6v1.6h-1.6zM326.5 531.5h1.6v1.6h-1.6zM321 534.2h1.6v1.6h-1.6zM314.1 537.3h1.6v1.6h-1.6zM320.2 533.5h1.6v1.6h-1.6zM329.1 538.9h1.6v1.6h-1.6zM326.4 530.8h1.6v1.6h-1.6zM305.8 538.3h1.6v1.6h-1.6zM365.8 517.5h1.6v1.6h-1.6zM349.1 516.6h1.6v1.6h-1.6zM317.1 523h1.6v1.6h-1.6zM395.8 512.8h1.6v1.6h-1.6zM387.1 513.4h1.6v1.6h-1.6zM370.8 529.6h1.6v1.6h-1.6zM363.1 515.4h1.6v1.6h-1.6zM305.6 546.5h1.6v1.6h-1.6zM311.2 545h1.6v1.6h-1.6zM345.1 525.3h1.6v1.6h-1.6zM328.7 526h1.6v1.6h-1.6zM338.2 511.4h1.6v1.6h-1.6zM341.9 524.7h1.6v1.6h-1.6zM353.2 532.4h1.6v1.6h-1.6zM305 541h1.6v1.6h-1.6zM337.9 542.6h1.6v1.6h-1.6zM344.8 523.9h1.6v1.6h-1.6zM353.5 543.5h1.6v1.6h-1.6zM348 530.4h1.6v1.6h-1.6zM324.7 524.8h1.6v1.6h-1.6zM376.3 510.1h1.6v1.6h-1.6zM333.5 516.6h1.6v1.6h-1.6zM314.8 537h1.6v1.6h-1.6zM324.1 540.7h1.6v1.6h-1.6zM340.7 507.3h1.6v1.6h-1.6zM342 520.5h1.6v1.6h-1.6zM335.3 517.5h1.6v1.6h-1.6zM340.4 533.4h1.6v1.6h-1.6zM338.4 513.5h1.6v1.6h-1.6zM334.1 517.4h1.6v1.6h-1.6zM334.4 509.9h1.6v1.6h-1.6zM342.8 518.8h1.6v1.6h-1.6zM329.2 522.5h1.6v1.6h-1.6zM330.7 542.5h1.6v1.6h-1.6zM343.3 535.1h1.6v1.6h-1.6zM371.2 506.4h1.6v1.6h-1.6zM336.5 521h1.6v1.6h-1.6zM372.6 518.6h1.6v1.6h-1.6zM352 498.2h1.6v1.6h-1.6zM326.2 528.1h1.6v1.6h-1.6zM346.1 538.3h1.6v1.6h-1.6zM313.9 522.7h1.6v1.6h-1.6zM321.8 527.9h1.6v1.6h-1.6zM303.5 548.1h1.6v1.6h-1.6zM342.5 514.4h1.6v1.6h-1.6zM338.3 528.8h1.6v1.6h-1.6zM341.8 520.8h1.6v1.6h-1.6zM329.2 525h1.6v1.6h-1.6zM382.5 489.2h1.6v1.6h-1.6zM322.5 543.8h1.6v1.6h-1.6zM381.7 500.6h1.6v1.6h-1.6zM365 510.5h1.6v1.6h-1.6zM330.7 520.7h1.6v1.6h-1.6zM362.7 506.3h1.6v1.6h-1.6zM310.3 528.2h1.6v1.6h-1.6zM327.8 533.7h1.6v1.6h-1.6zM344.5 527h1.6v1.6h-1.6zM391.2 500.5h1.6v1.6h-1.6zM342.5 526.4h1.6v1.6h-1.6zM342.1 526.9h1.6v1.6h-1.6zM350 514.1h1.6v1.6h-1.6zM356.1 530.5h1.6v1.6h-1.6zM328.2 529.5h1.6v1.6h-1.6zM307.1 535.3h1.6v1.6h-1.6zM332.7 528h1.6v1.6h-1.6zM345.2 529.1h1.6v1.6h-1.6zM373.1 503.4h1.6v1.6h-1.6zM323.1 528.2h1.6v1.6h-1.6zM353.8 527h1.6v1.6h-1.6zM327.7 524.3h1.6v1.6h-1.6zM304.8 536.6h1.6v1.6h-1.6zM350.9 529.6h1.6v1.6h-1.6zM356.5 499.5h1.6v1.6h-1.6zM341.1 525.6h1.6v1.6h-1.6zM337.8 535.5h1.6v1.6h-1.6zM349.3 520.4h1.6v1.6h-1.6zM353.9 507.5h1.6v1.6h-1.6zM337 525.2h1.6v1.6h-1.6zM343.9 508.7h1.6v1.6h-1.6zM336.1 532.8h1.6v1.6h-1.6zM339.2 518.6h1.6v1.6h-1.6zM337.8 520h1.6v1.6h-1.6zM340.6 531.7h1.6v1.6h-1.6zM320.5 545.6h1.6v1.6h-1.6zM341.5 528.5h1.6v1.6h-1.6zM356.2 510.7h1.6v1.6h-1.6zM315.1 545.1h1.6v1.6h-1.6zM350.6 529.3h1.6v1.6h-1.6zM341.1 519.8h1.6v1.6h-1.6zM327 515h1.6v1.6h-1.6zM317.8 530.6h1.6v1.6h-1.6zM326.4 532.5h1.6v1.6h-1.6zM332.4 523.5h1.6v1.6h-1.6zM333 534.9h1.6v1.6h-1.6zM323.9 534.7h1.6v1.6h-1.6zM354.2 522.5h1.6v1.6h-1.6zM365.5 508h1.6v1.6h-1.6zM318.6 524.9h1.6v1.6h-1.6zM336.8 535.6h1.6v1.6h-1.6zM333.9 517.8h1.6v1.6h-1.6zM336.2 528.6h1.6v1.6h-1.6zM366.6 521.9h1.6v1.6h-1.6zM316.5 526.3h1.6v1.6h-1.6zM350.8 534.1h1.6v1.6h-1.6zM339.8 518.8h1.6v1.6h-1.6zM332.3 532.2h1.6v1.6h-1.6zM339.4 524h1.6v1.6h-1.6zM319.5 526.3h1.6v1.6h-1.6zM334.4 508.9h1.6v1.6h-1.6zM311 537.4h1.6v1.6h-1.6zM316.5 545.1h1.6v1.6h-1.6zM337.6 531h1.6v1.6h-1.6zM379.8 518.2h1.6v1.6h-1.6zM335.5 525.5h1.6v1.6h-1.6zM351.4 513.2h1.6v1.6h-1.6zM388.2 509.4h1.6v1.6h-1.6zM319.2 548.4h1.6v1.6h-1.6zM325.6 547h1.6v1.6h-1.6zM340.6 530.7h1.6v1.6h-1.6zM343.9 531.1h1.6v1.6h-1.6zM337.9 506.8h1.6v1.6h-1.6zM363.9 514.8h1.6v1.6h-1.6zM312.8 523.4h1.6v1.6h-1.6zM313.6 538.1h1.6v1.6h-1.6zM329.1 532.1h1.6v1.6h-1.6zM326 513.5h1.6v1.6h-1.6zM330.6 531.6h1.6v1.6h-1.6zM350 526.9h1.6v1.6h-1.6zM368.8 515.6h1.6v1.6h-1.6zM362.8 506.7h1.6v1.6h-1.6zM380.3 503.5h1.6v1.6h-1.6zM340.8 540.8h1.6v1.6h-1.6zM357.4 527.1h1.6v1.6h-1.6zM367.5 519.3h1.6v1.6h-1.6zM312.7 536.1h1.6v1.6h-1.6zM332.8 527.1h1.6v1.6h-1.6zM358.2 505.2h1.6v1.6h-1.6zM340.5 512.8h1.6v1.6h-1.6zM341.7 538.5h1.6v1.6h-1.6zM315.4 536.2h1.6v1.6h-1.6zM333.7 522.6h1.6v1.6h-1.6zM314.4 546.6h1.6v1.6h-1.6zM355.7 522.4h1.6v1.6h-1.6zM382.6 517.6h1.6v1.6h-1.6zM321.2 512.1h1.6v1.6h-1.6zM339.1 533.9h1.6v1.6h-1.6zM330.6 518.9h1.6v1.6h-1.6zM329.6 529.7h1.6v1.6h-1.6zM354.9 528.2h1.6v1.6h-1.6zM342.5 524.8h1.6v1.6h-1.6zM351.7 526.9h1.6v1.6h-1.6zM327.4 532.3h1.6v1.6h-1.6zM343.9 516.4h1.6v1.6h-1.6zM343 545.8h1.6v1.6h-1.6zM326.2 537h1.6v1.6h-1.6zM317.1 540.1h1.6v1.6h-1.6zM345.5 545.6h1.6v1.6h-1.6zM345.7 516.8h1.6v1.6h-1.6zM353.4 526.4h1.6v1.6h-1.6zM304.1 544.2h1.6v1.6h-1.6zM383.1 516h1.6v1.6h-1.6zM335.7 516.4h1.6v1.6h-1.6zM364.9 516.2h1.6v1.6h-1.6zM350.9 507.5h1.6v1.6h-1.6zM348.5 520.6h1.6v1.6h-1.6zM318 536.6h1.6v1.6h-1.6zM328.7 544.1h1.6v1.6h-1.6zM318.9 520.4h1.6v1.6h-1.6zM313.7 547.1h1.6v1.6h-1.6zM311.7 534.4h1.6v1.6h-1.6zM356.9 512.9h1.6v1.6h-1.6zM383.4 513.9h1.6v1.6h-1.6zM344.4 522.8h1.6v1.6h-1.6zM331.5 515.6h1.6v1.6h-1.6zM324.5 530.1h1.6v1.6h-1.6zM308.4 533h1.6v1.6h-1.6zM335 536.7h1.6v1.6h-1.6zM314.8 546.4h1.6v1.6h-1.6zM330.5 531.3h1.6v1.6h-1.6zM332.9 533h1.6v1.6h-1.6zM361.1 514.1h1.6v1.6h-1.6zM345 523.4h1.6v1.6h-1.6zM315.3 529.2h1.6v1.6h-1.6zM382.1 495.7h1.6v1.6h-1.6zM352.2 529.1h1.6v1.6h-1.6zM318.4 538.3h1.6v1.6h-1.6zM347.8 523.1h1.6v1.6h-1.6zM330.3 523.7h1.6v1.6h-1.6zM354.6 527.9h1.6v1.6h-1.6zM315.7 530.5h1.6v1.6h-1.6zM349.7 526.4h1.6v1.6h-1.6zM345.4 537h1.6v1.6h-1.6zM314.5 533.1h1.6v1.6h-1.6zM312 533h1.6v1.6h-1.6zM322.7 521.3h1.6v1.6h-1.6zM318.9 530.1h1.6v1.6h-1.6zM339.6 535.5h1.6v1.6h-1.6zM344 532.4h1.6v1.6h-1.6zM342.4 505.5h1.6v1.6h-1.6zM341.2 534h1.6v1.6h-1.6zM317.4 547.4h1.6v1.6h-1.6zM325 518.1h1.6v1.6h-1.6zM368.7 518.4h1.6v1.6h-1.6zM323.6 540.4h1.6v1.6h-1.6zM326.3 536.3h1.6v1.6h-1.6zM339.7 536.8h1.6v1.6h-1.6zM357.3 519.9h1.6v1.6h-1.6zM334.9 529.3h1.6v1.6h-1.6zM356.2 520.1h1.6v1.6h-1.6zM368.4 512.9h1.6v1.6h-1.6zM359.3 512.3h1.6v1.6h-1.6zM335.3 525h1.6v1.6h-1.6zM331.6 543.3h1.6v1.6h-1.6zM314.1 531.4h1.6v1.6h-1.6zM315.8 547h1.6v1.6h-1.6zM315.9 534.2h1.6v1.6h-1.6zM320.1 536.8h1.6v1.6h-1.6zM327.5 541.6h1.6v1.6h-1.6zM316.8 524.8h1.6v1.6h-1.6zM367 521.5h1.6v1.6h-1.6zM369.8 507.3h1.6v1.6h-1.6zM330.1 539.5h1.6v1.6h-1.6zM324 537.4h1.6v1.6h-1.6zM336.3 540.4h1.6v1.6h-1.6zM325.8 537.6h1.6v1.6h-1.6zM344.4 532.7h1.6v1.6h-1.6zM355.6 510.1h1.6v1.6h-1.6zM307.8 535.8h1.6v1.6h-1.6zM366.5 515.9h1.6v1.6h-1.6zM357 521.4h1.6v1.6h-1.6zM336.4 530.6h1.6v1.6h-1.6zM324.6 518.9h1.6v1.6h-1.6zM319.6 549.2h1.6v1.6h-1.6zM322.1 528h1.6v1.6h-1.6zM317.4 526.1h1.6v1.6h-1.6zM358.5 517.2h1.6v1.6h-1.6zM328.5 534.4h1.6v1.6h-1.6zM317.9 517.8h1.6v1.6h-1.6zM352.3 523.6h1.6v1.6h-1.6zM341.1 521.4h1.6v1.6h-1.6zM372 505.1h1.6v1.6h-1.6zM334.6 534.8h1.6v1.6h-1.6zM338.4 510.3h1.6v1.6h-1.6zM343.6 520.5h1.6v1.6h-1.6zM323.3 536.3h1.6v1.6h-1.6zM310.7 521.8h1.6v1.6h-1.6zM341.2 515.5h1.6v1.6h-1.6zM334.4 485.1h1.6v1.6h-1.6zM382.5 479.7h1.6v1.6h-1.6zM362.9 461.9h1.6v1.6h-1.6zM325.6 494.5h1.6v1.6h-1.6zM363.9 497.5h1.6v1.6h-1.6zM397.2 489.4h1.6v1.6h-1.6zM346.6 485.6h1.6v1.6h-1.6zM384 464.9h1.6v1.6h-1.6zM369.4 496.6h1.6v1.6h-1.6zM338.4 473.8h1.6v1.6h-1.6zM324.9 466.3h1.6v1.6h-1.6zM388.3 494.3h1.6v1.6h-1.6zM339.2 494.2h1.6v1.6h-1.6zM373.5 501.9h1.6v1.6h-1.6zM371.2 501.3h1.6v1.6h-1.6zM385.3 480.8h1.6v1.6h-1.6zM360.4 499.9h1.6v1.6h-1.6zM308.3 488.9h1.6v1.6h-1.6zM399.2 478.4h1.6v1.6h-1.6zM387.3 501.3h1.6v1.6h-1.6zM313.9 503.1h1.6v1.6h-1.6zM371.4 496.4h1.6v1.6h-1.6zM330.4 475.5h1.6v1.6h-1.6zM371.2 490.2h1.6v1.6h-1.6zM349.2 491.6h1.6v1.6h-1.6zM358.3 488.8h1.6v1.6h-1.6zM338.8 493.3h1.6v1.6h-1.6zM332.3 492.8h1.6v1.6h-1.6zM305.6 490.7h1.6v1.6h-1.6zM361.2 492.5h1.6v1.6h-1.6zM315 467.9h1.6v1.6h-1.6zM349.4 482.1h1.6v1.6h-1.6zM334.2 466.1h1.6v1.6h-1.6zM376.9 477.4h1.6v1.6h-1.6zM367.7 474.4h1.6v1.6h-1.6zM352.4 486.3h1.6v1.6h-1.6zM341.7 482.5h1.6v1.6h-1.6zM349.3 481.4h1.6v1.6h-1.6zM355.5 470.3h1.6v1.6h-1.6zM390.3 494.4h1.6v1.6h-1.6zM306.2 491.1h1.6v1.6h-1.6zM307.1 470h1.6v1.6h-1.6zM364 491.8h1.6v1.6h-1.6zM322.5 466.9h1.6v1.6h-1.6zM384.8 474.8h1.6v1.6h-1.6zM398.6 455.4h1.6v1.6h-1.6zM410.9 502.5h1.6v1.6h-1.6zM398.6 499.5h1.6v1.6h-1.6zM388.3 502.5h1.6v1.6h-1.6zM393.4 503.9h1.6v1.6h-1.6z" stroke="none" fill="#111" stroke-width="1"/>
<rect x="298.5" y="448.5" width="116.7" height="111.8" fill="none" stroke="#444" stroke-width="1"/>
<line x1="295.5" y1="556.2" x2="298.5" y2="556.2" stroke="#444" stroke-width="1"/>
<text x="292.5" y="556.2" font-size="10.4" text-anchor="middle" fill="#1a1a1a" transform="rotate(-90 292.5 556.2)">1</text>
<line x1="295.5" y1="541.5" x2="298.5" y2="541.5" stroke="#444" stroke-width="1"/>
<text x="292.5" y="541.5" font-size="10.4" text-anchor="middle" fill="#1a1a1a" transform="rotate(-90 292.5 541.5)">2</text>
<line x1="295.5" y1="526.8" x2="298.5" y2="526.8" stroke="#444" stroke-width="1"/>
<text x="292.5" y="526.8" font-size="10.4" text-anchor="middle" fill="#1a1a1a" transform="rotate(-90 292.5 526.8)">3</text>
<line x1="295.5" y1="512.1" x2="298.5" y2="512.1" stroke="#444" stroke-width="1"/>
<text x="292.5" y="512.1" font-size="10.4" text-anchor="middle" fill="#1a1a1a" transform="rotate(-90 292.5 512.1)">4</text>
<line x1="295.5" y1="497.4" x2="298.5" y2="497.4" stroke="#444" stroke-width="1"/>
<text x="292.5" y="497.4" font-size="10.4" text-anchor="middle" fill="#1a1a1a" transform="rotate(-90 292.5 497.4)">5</text>
<line x1="295.5" y1="482.7" x2="298.5" y2="482.7" stroke="#444" stroke-width="1"/>
<text x="292.5" y="482.7" font-size="10.4" text-anchor="middle" fill="#1a1a1a" transform="rotate(-90 292.5 482.7)">6</text>
<line x1="295.5" y1="468" x2="298.5" y2="468" stroke="#444" stroke-width="1"/>
<text x="292.5" y="468" font-size="10.4" text-anchor="middle" fill="#1a1a1a" transform="rotate(-90 292.5 468)">7</text>
<line x1="295.5" y1="453.3" x2="298.5" y2="453.3" stroke="#444" stroke-width="1"/>
<text x="292.5" y="453.3" font-size="10.4" text-anchor="middle" fill="#1a1a1a" transform="rotate(-90 292.5 453.3)">8</text>
<line x1="302.8" y1="560.3" x2="302.8" y2="563.6" stroke="#444" stroke-width="1"/>
<text x="302.8" y="573.6" font-size="10.4" text-anchor="middle" fill="#1a1a1a">0</text>
<line x1="323.4" y1="560.3" x2="323.4" y2="563.6" stroke="#444" stroke-width="1"/>
<text x="323.4" y="573.6" font-size="10.4" text-anchor="middle" fill="#1a1a1a">1</text>
<line x1="343.9" y1="560.3" x2="343.9" y2="563.6" stroke="#444" stroke-width="1"/>
<text x="343.9" y="573.6" font-size="10.4" text-anchor="middle" fill="#1a1a1a">2</text>
<line x1="364.5" y1="560.3" x2="364.5" y2="563.6" stroke="#444" stroke-width="1"/>
<text x="364.5" y="573.6" font-size="10.4" text-anchor="middle" fill="#1a1a1a">3</text>
<line x1="385" y1="560.3" x2="385" y2="563.6" stroke="#444" stroke-width="1"/>
<text x="385" y="573.6" font-size="10.4" text-anchor="middle" fill="#1a1a1a">4</text>
<line x1="405.6" y1="560.3" x2="405.6" y2="563.6" stroke="#444" stroke-width="1"/>
<text x="405.6" y="573.6" font-size="10.4" text-anchor="middle" fill="#1a1a1a">5</text>
<text x="357.7" y="445.3" font-size="10.6" text-anchor="middle" fill="#1a1a1a">HEYL, P<0.0001</text>
<path d="M436.3 538.4h1.6v1.6h-1.6zM436.7 460.6h1.6v1.6h-1.6zM436.5 475.4h1.6v1.6h-1.6zM436.4 503h1.6v1.6h-1.6zM436.1 525.4h1.6v1.6h-1.6zM437.6 507.4h1.6v1.6h-1.6zM435.8 553.2h1.6v1.6h-1.6zM436.3 500.9h1.6v1.6h-1.6zM436.7 513.3h1.6v1.6h-1.6zM436.6 531.4h1.6v1.6h-1.6zM436.5 547.2h1.6v1.6h-1.6zM436.2 510.1h1.6v1.6h-1.6zM436.8 524.6h1.6v1.6h-1.6zM436.8 502.5h1.6v1.6h-1.6zM435.8 512.3h1.6v1.6h-1.6zM436.1 534h1.6v1.6h-1.6zM437.9 495.4h1.6v1.6h-1.6zM436.6 503.6h1.6v1.6h-1.6zM437.2 509.7h1.6v1.6h-1.6zM435.9 506.9h1.6v1.6h-1.6zM436.3 504.3h1.6v1.6h-1.6zM436.7 524.1h1.6v1.6h-1.6zM435.9 528.3h1.6v1.6h-1.6zM436.8 550.4h1.6v1.6h-1.6zM436.6 530.6h1.6v1.6h-1.6zM436.1 506.3h1.6v1.6h-1.6zM436.8 531.8h1.6v1.6h-1.6zM436.2 504.3h1.6v1.6h-1.6zM436 521.4h1.6v1.6h-1.6zM437.6 490h1.6v1.6h-1.6zM435.9 532.6h1.6v1.6h-1.6zM436.8 496.3h1.6v1.6h-1.6zM436.2 518.7h1.6v1.6h-1.6zM435.8 498.3h1.6v1.6h-1.6zM435.9 500.9h1.6v1.6h-1.6zM436.8 537.4h1.6v1.6h-1.6zM436.9 513.7h1.6v1.6h-1.6zM436.4 518.4h1.6v1.6h-1.6zM435.8 551.3h1.6v1.6h-1.6zM436.1 544h1.6v1.6h-1.6zM436.1 514.4h1.6v1.6h-1.6zM437.4 504.2h1.6v1.6h-1.6zM436.1 506.1h1.6v1.6h-1.6zM437.7 507.9h1.6v1.6h-1.6zM436 497.5h1.6v1.6h-1.6zM435.9 551h1.6v1.6h-1.6zM436.4 505.1h1.6v1.6h-1.6zM436.3 506.8h1.6v1.6h-1.6zM436.1 505.2h1.6v1.6h-1.6zM436.2 507.3h1.6v1.6h-1.6zM436.7 514.5h1.6v1.6h-1.6zM437.1 508.2h1.6v1.6h-1.6zM435.8 498.8h1.6v1.6h-1.6zM435.9 550.4h1.6v1.6h-1.6zM436.4 532.4h1.6v1.6h-1.6zM436.8 523.1h1.6v1.6h-1.6zM437.8 516.6h1.6v1.6h-1.6zM436.5 508.4h1.6v1.6h-1.6zM437.2 536.9h1.6v1.6h-1.6zM437.2 494.2h1.6v1.6h-1.6zM437.8 503.6h1.6v1.6h-1.6zM436.4 522.5h1.6v1.6h-1.6zM437.6 475h1.6v1.6h-1.6zM436.7 505h1.6v1.6h-1.6zM435.9 521.5h1.6v1.6h-1.6zM436 492.8h1.6v1.6h-1.6zM436.3 523.4h1.6v1.6h-1.6zM436.9 543.6h1.6v1.6h-1.6zM436.4 529.6h1.6v1.6h-1.6zM436.8 495.3h1.6v1.6h-1.6zM436.1 522.4h1.6v1.6h-1.6zM435.8 513.1h1.6v1.6h-1.6zM436.6 513.5h1.6v1.6h-1.6zM437.1 514.9h1.6v1.6h-1.6zM435.9 525.1h1.6v1.6h-1.6zM436.1 514.6h1.6v1.6h-1.6zM437.6 524.8h1.6v1.6h-1.6zM436.3 537.4h1.6v1.6h-1.6zM436.1 505.1h1.6v1.6h-1.6zM438.2 520.8h1.6v1.6h-1.6zM436.1 522.4h1.6v1.6h-1.6zM436.1 535.3h1.6v1.6h-1.6zM436.4 549h1.6v1.6h-1.6zM436 511.2h1.6v1.6h-1.6zM436.4 535.4h1.6v1.6h-1.6zM436.3 525.8h1.6v1.6h-1.6zM435.9 516.5h1.6v1.6h-1.6zM436.3 511.9h1.6v1.6h-1.6zM436.3 515.4h1.6v1.6h-1.6zM436.2 526.9h1.6v1.6h-1.6zM436.5 502h1.6v1.6h-1.6zM437.1 498h1.6v1.6h-1.6zM436.9 527.3h1.6v1.6h-1.6zM436 536.1h1.6v1.6h-1.6zM436.9 512.5h1.6v1.6h-1.6zM436.7 525.1h1.6v1.6h-1.6zM436.2 510.6h1.6v1.6h-1.6zM437 518.1h1.6v1.6h-1.6zM436.8 508.4h1.6v1.6h-1.6zM436.7 508.7h1.6v1.6h-1.6zM436.6 502.7h1.6v1.6h-1.6zM436.1 513.7h1.6v1.6h-1.6zM437 502.2h1.6v1.6h-1.6zM436.4 500.1h1.6v1.6h-1.6zM435.9 531h1.6v1.6h-1.6zM437.1 511.3h1.6v1.6h-1.6zM436.3 512.8h1.6v1.6h-1.6zM437 530.6h1.6v1.6h-1.6zM436.1 523.6h1.6v1.6h-1.6zM436 522.8h1.6v1.6h-1.6zM436 512.2h1.6v1.6h-1.6zM436.2 524.1h1.6v1.6h-1.6zM436.7 479.6h1.6v1.6h-1.6zM435.8 509h1.6v1.6h-1.6zM436.6 534.8h1.6v1.6h-1.6zM435.9 497.5h1.6v1.6h-1.6zM437 520.7h1.6v1.6h-1.6zM436.1 547.9h1.6v1.6h-1.6zM436.9 508.9h1.6v1.6h-1.6zM438 530.9h1.6v1.6h-1.6zM436.4 517.7h1.6v1.6h-1.6zM436.3 512.8h1.6v1.6h-1.6zM436.6 522.2h1.6v1.6h-1.6zM437.2 508.4h1.6v1.6h-1.6zM436.1 505h1.6v1.6h-1.6zM436.8 523.8h1.6v1.6h-1.6zM436.5 492.1h1.6v1.6h-1.6zM436 520h1.6v1.6h-1.6zM437 511h1.6v1.6h-1.6zM437.1 462.7h1.6v1.6h-1.6zM436.9 500.9h1.6v1.6h-1.6zM436.5 505.5h1.6v1.6h-1.6zM436.3 478.8h1.6v1.6h-1.6zM436.5 504.9h1.6v1.6h-1.6zM436.6 513.8h1.6v1.6h-1.6zM436.6 502.9h1.6v1.6h-1.6zM437.8 519.5h1.6v1.6h-1.6zM436.1 535.6h1.6v1.6h-1.6zM437.3 514.5h1.6v1.6h-1.6zM437.4 503h1.6v1.6h-1.6zM436.4 509.7h1.6v1.6h-1.6zM436.5 518.3h1.6v1.6h-1.6zM437.3 532.3h1.6v1.6h-1.6zM437.1 510.8h1.6v1.6h-1.6zM436.2 508h1.6v1.6h-1.6zM437 534.4h1.6v1.6h-1.6zM436.1 497.3h1.6v1.6h-1.6zM436 498.8h1.6v1.6h-1.6zM435.9 472.3h1.6v1.6h-1.6zM436.2 546h1.6v1.6h-1.6zM436 507.9h1.6v1.6h-1.6zM436 543.9h1.6v1.6h-1.6zM436.7 482.7h1.6v1.6h-1.6zM436.4 528.1h1.6v1.6h-1.6zM436 521.9h1.6v1.6h-1.6zM436.8 503.7h1.6v1.6h-1.6zM436.2 533h1.6v1.6h-1.6zM436 520h1.6v1.6h-1.6zM436.3 525.2h1.6v1.6h-1.6zM435.9 533.9h1.6v1.6h-1.6zM436 511.1h1.6v1.6h-1.6zM436.6 478.4h1.6v1.6h-1.6zM437 513.6h1.6v1.6h-1.6zM436 517.7h1.6v1.6h-1.6zM435.9 535h1.6v1.6h-1.6zM436.8 503.6h1.6v1.6h-1.6zM436.5 510.8h1.6v1.6h-1.6zM436.2 508.3h1.6v1.6h-1.6zM437 518h1.6v1.6h-1.6zM437.6 516.2h1.6v1.6h-1.6zM436.7 537.6h1.6v1.6h-1.6zM437.3 498.1h1.6v1.6h-1.6zM437.8 506.7h1.6v1.6h-1.6zM436.2 534.4h1.6v1.6h-1.6zM436.3 512.3h1.6v1.6h-1.6zM435.8 490.6h1.6v1.6h-1.6zM435.9 530.7h1.6v1.6h-1.6zM436.7 510.6h1.6v1.6h-1.6zM436.4 536.9h1.6v1.6h-1.6zM436.3 517.4h1.6v1.6h-1.6zM436.5 503.8h1.6v1.6h-1.6zM436.7 475.2h1.6v1.6h-1.6zM436.2 520h1.6v1.6h-1.6zM436.6 499.7h1.6v1.6h-1.6zM436.7 518.3h1.6v1.6h-1.6zM436 506.9h1.6v1.6h-1.6zM435.8 525.3h1.6v1.6h-1.6zM435.9 520.2h1.6v1.6h-1.6zM436.4 519.4h1.6v1.6h-1.6zM436.8 541.7h1.6v1.6h-1.6zM436.1 500.3h1.6v1.6h-1.6zM437.8 523.3h1.6v1.6h-1.6zM437.2 511h1.6v1.6h-1.6zM436.2 542.3h1.6v1.6h-1.6zM436.4 503.9h1.6v1.6h-1.6zM437.7 506.2h1.6v1.6h-1.6zM436.5 509.6h1.6v1.6h-1.6zM437.8 495h1.6v1.6h-1.6zM435.9 519.3h1.6v1.6h-1.6zM435.9 528.2h1.6v1.6h-1.6zM436.1 511.7h1.6v1.6h-1.6zM436.7 518.3h1.6v1.6h-1.6zM435.8 510.8h1.6v1.6h-1.6zM436.3 497.7h1.6v1.6h-1.6zM435.8 508.5h1.6v1.6h-1.6zM435.9 506.1h1.6v1.6h-1.6zM436 520.4h1.6v1.6h-1.6zM435.8 517.2h1.6v1.6h-1.6zM435.8 509.2h1.6v1.6h-1.6zM437 528.6h1.6v1.6h-1.6zM437.1 505.7h1.6v1.6h-1.6zM437.5 485.7h1.6v1.6h-1.6zM436.3 529.5h1.6v1.6h-1.6zM436.8 473.2h1.6v1.6h-1.6zM436.3 513.4h1.6v1.6h-1.6zM437.1 509.4h1.6v1.6h-1.6zM435.9 541.4h1.6v1.6h-1.6zM437.4 522h1.6v1.6h-1.6zM436 539.8h1.6v1.6h-1.6zM435.9 512.3h1.6v1.6h-1.6zM435.8 517.1h1.6v1.6h-1.6zM437.7 514.7h1.6v1.6h-1.6zM436.2 514.4h1.6v1.6h-1.6zM436.1 504.5h1.6v1.6h-1.6zM436.8 509.9h1.6v1.6h-1.6zM437.4 542.7h1.6v1.6h-1.6zM437 517.2h1.6v1.6h-1.6zM437.2 522h1.6v1.6h-1.6zM436.6 533.5h1.6v1.6h-1.6zM436.3 466.3h1.6v1.6h-1.6zM437.3 530.3h1.6v1.6h-1.6zM435.8 495.9h1.6v1.6h-1.6zM436.5 524.9h1.6v1.6h-1.6zM436.3 504.5h1.6v1.6h-1.6zM436.1 511.2h1.6v1.6h-1.6zM436 512.4h1.6v1.6h-1.6zM437.5 529.6h1.6v1.6h-1.6zM437.8 486.6h1.6v1.6h-1.6zM437.3 514.2h1.6v1.6h-1.6zM437.4 516.3h1.6v1.6h-1.6zM436.9 524h1.6v1.6h-1.6zM437 502.8h1.6v1.6h-1.6zM435.9 523.4h1.6v1.6h-1.6zM437.4 476.7h1.6v1.6h-1.6zM436.6 490.5h1.6v1.6h-1.6zM436.5 475.1h1.6v1.6h-1.6zM436.1 512.2h1.6v1.6h-1.6zM437.8 512.2h1.6v1.6h-1.6zM435.9 526.2h1.6v1.6h-1.6zM437 517.5h1.6v1.6h-1.6zM436 486h1.6v1.6h-1.6zM436.1 530.6h1.6v1.6h-1.6zM437.2 506.4h1.6v1.6h-1.6zM435.8 512.8h1.6v1.6h-1.6zM435.8 502.2h1.6v1.6h-1.6zM437 490.4h1.6v1.6h-1.6zM436.5 498.9h1.6v1.6h-1.6zM436.7 525h1.6v1.6h-1.6zM436.4 492.4h1.6v1.6h-1.6zM436.4 528.5h1.6v1.6h-1.6zM437.7 536.6h1.6v1.6h-1.6zM436.9 477.5h1.6v1.6h-1.6zM436.8 514.8h1.6v1.6h-1.6zM436.8 496.5h1.6v1.6h-1.6zM436.7 512.8h1.6v1.6h-1.6zM437.8 546.6h1.6v1.6h-1.6zM436.8 510.7h1.6v1.6h-1.6zM437.1 516.9h1.6v1.6h-1.6zM436.6 512.7h1.6v1.6h-1.6zM436.7 514.5h1.6v1.6h-1.6zM435.9 520.5h1.6v1.6h-1.6zM436.2 508.6h1.6v1.6h-1.6zM437.3 500.3h1.6v1.6h-1.6zM436.4 515.2h1.6v1.6h-1.6zM435.8 511h1.6v1.6h-1.6zM436.4 521.8h1.6v1.6h-1.6zM436.5 515.6h1.6v1.6h-1.6zM436.6 507.8h1.6v1.6h-1.6zM436.4 538.9h1.6v1.6h-1.6zM437.4 531.8h1.6v1.6h-1.6zM436.2 510.8h1.6v1.6h-1.6zM437.3 554.5h1.6v1.6h-1.6zM436.4 496.3h1.6v1.6h-1.6zM436.2 506.2h1.6v1.6h-1.6zM436.1 498h1.6v1.6h-1.6zM435.9 519.7h1.6v1.6h-1.6zM436.4 520.8h1.6v1.6h-1.6zM437 531.5h1.6v1.6h-1.6zM437.6 470.3h1.6v1.6h-1.6zM436.4 546h1.6v1.6h-1.6zM436.1 507.2h1.6v1.6h-1.6zM436 542.5h1.6v1.6h-1.6zM436 532.9h1.6v1.6h-1.6zM435.9 477h1.6v1.6h-1.6zM436.1 517.3h1.6v1.6h-1.6zM435.8 494.7h1.6v1.6h-1.6zM436 490.3h1.6v1.6h-1.6zM436.9 496.6h1.6v1.6h-1.6zM436.6 489.5h1.6v1.6h-1.6zM436.8 503.6h1.6v1.6h-1.6zM436.2 511.7h1.6v1.6h-1.6zM436.7 513.3h1.6v1.6h-1.6zM435.8 504.9h1.6v1.6h-1.6zM436 530.7h1.6v1.6h-1.6zM436.6 526.5h1.6v1.6h-1.6zM435.8 502.4h1.6v1.6h-1.6zM436.9 510.4h1.6v1.6h-1.6zM437.4 504.5h1.6v1.6h-1.6zM436.8 492.1h1.6v1.6h-1.6zM436 549.7h1.6v1.6h-1.6zM436 524.8h1.6v1.6h-1.6zM436.5 536.1h1.6v1.6h-1.6zM437.2 467h1.6v1.6h-1.6zM437.9 499.1h1.6v1.6h-1.6zM436.1 548.2h1.6v1.6h-1.6zM435.8 521h1.6v1.6h-1.6zM436 520.4h1.6v1.6h-1.6zM436.3 531.2h1.6v1.6h-1.6zM436.7 519h1.6v1.6h-1.6zM435.8 509.2h1.6v1.6h-1.6zM436.5 531.4h1.6v1.6h-1.6zM437.1 496h1.6v1.6h-1.6zM436.9 520.3h1.6v1.6h-1.6zM437.2 521.6h1.6v1.6h-1.6zM436.1 496.3h1.6v1.6h-1.6zM436.2 516h1.6v1.6h-1.6zM436 511.1h1.6v1.6h-1.6zM437.5 517.6h1.6v1.6h-1.6zM436.5 538.4h1.6v1.6h-1.6zM436.1 551.5h1.6v1.6h-1.6zM436.3 513.5h1.6v1.6h-1.6zM436.2 534.4h1.6v1.6h-1.6zM436.8 498.5h1.6v1.6h-1.6zM436.6 497.7h1.6v1.6h-1.6zM436.3 542.2h1.6v1.6h-1.6zM435.9 505.3h1.6v1.6h-1.6zM437.7 508h1.6v1.6h-1.6zM436.2 475.4h1.6v1.6h-1.6zM436.8 478.2h1.6v1.6h-1.6zM436 499.3h1.6v1.6h-1.6zM435.9 527.1h1.6v1.6h-1.6zM436.9 545.1h1.6v1.6h-1.6zM435.8 528.8h1.6v1.6h-1.6zM437.8 491.5h1.6v1.6h-1.6zM436.3 506.6h1.6v1.6h-1.6zM436.5 497.2h1.6v1.6h-1.6zM436.1 512.1h1.6v1.6h-1.6zM436.4 511.2h1.6v1.6h-1.6zM437.2 504.1h1.6v1.6h-1.6zM436.7 520.7h1.6v1.6h-1.6zM436.1 512.2h1.6v1.6h-1.6zM436.7 505.6h1.6v1.6h-1.6zM436.4 502.1h1.6v1.6h-1.6zM436.9 518.8h1.6v1.6h-1.6zM437.6 527.5h1.6v1.6h-1.6zM436.9 508.4h1.6v1.6h-1.6zM436.7 465.1h1.6v1.6h-1.6zM436.4 520.4h1.6v1.6h-1.6zM436.7 534.9h1.6v1.6h-1.6zM436.1 509.9h1.6v1.6h-1.6zM435.8 472h1.6v1.6h-1.6zM435.9 511.4h1.6v1.6h-1.6zM435.8 483.7h1.6v1.6h-1.6zM437.1 524.1h1.6v1.6h-1.6zM436.3 515.4h1.6v1.6h-1.6zM437.7 502.2h1.6v1.6h-1.6zM436.3 499.4h1.6v1.6h-1.6zM435.8 490.6h1.6v1.6h-1.6zM436 510.7h1.6v1.6h-1.6zM435.8 506.3h1.6v1.6h-1.6zM436.8 492.8h1.6v1.6h-1.6zM437.2 475.5h1.6v1.6h-1.6zM437.5 497.3h1.6v1.6h-1.6zM437 522.6h1.6v1.6h-1.6zM436.2 499.7h1.6v1.6h-1.6zM435.8 486.3h1.6v1.6h-1.6zM437.1 498.6h1.6v1.6h-1.6zM435.9 502.2h1.6v1.6h-1.6zM436.8 529.7h1.6v1.6h-1.6zM436.5 532.7h1.6v1.6h-1.6zM436.2 501.4h1.6v1.6h-1.6zM436.5 464.8h1.6v1.6h-1.6zM436.1 493.5h1.6v1.6h-1.6zM436.3 510.8h1.6v1.6h-1.6zM436.4 507.8h1.6v1.6h-1.6zM435.9 503.6h1.6v1.6h-1.6zM436.3 515.2h1.6v1.6h-1.6zM436.9 526.9h1.6v1.6h-1.6zM436.4 522.4h1.6v1.6h-1.6zM436 524h1.6v1.6h-1.6zM438 535.9h1.6v1.6h-1.6zM437.3 522h1.6v1.6h-1.6zM436.5 501.5h1.6v1.6h-1.6zM435.9 461.5h1.6v1.6h-1.6zM436.4 491.4h1.6v1.6h-1.6zM435.8 511.1h1.6v1.6h-1.6zM435.9 518.1h1.6v1.6h-1.6zM437.1 538h1.6v1.6h-1.6zM436.4 527.1h1.6v1.6h-1.6zM436.7 520.2h1.6v1.6h-1.6zM439.4 480.2h1.6v1.6h-1.6zM438.6 463.2h1.6v1.6h-1.6zM438.8 514.7h1.6v1.6h-1.6zM438.9 502.4h1.6v1.6h-1.6zM437.7 468.4h1.6v1.6h-1.6zM437.8 479.7h1.6v1.6h-1.6zM437.8 492.2h1.6v1.6h-1.6zM440.4 519.7h1.6v1.6h-1.6zM440 525h1.6v1.6h-1.6zM440.4 467.1h1.6v1.6h-1.6zM438.7 484.5h1.6v1.6h-1.6zM438.7 514.9h1.6v1.6h-1.6zM438.4 497.1h1.6v1.6h-1.6zM440 518h1.6v1.6h-1.6zM439 495.1h1.6v1.6h-1.6zM439 474.6h1.6v1.6h-1.6zM439.1 504.6h1.6v1.6h-1.6zM440.3 487h1.6v1.6h-1.6zM438.1 490.3h1.6v1.6h-1.6zM440 522.4h1.6v1.6h-1.6zM439.3 494.1h1.6v1.6h-1.6zM438.1 515.1h1.6v1.6h-1.6zM438 497.3h1.6v1.6h-1.6zM438.6 486.8h1.6v1.6h-1.6zM438.1 485.6h1.6v1.6h-1.6zM438.7 474.3h1.6v1.6h-1.6zM439.8 510.2h1.6v1.6h-1.6zM440.4 490.3h1.6v1.6h-1.6zM438.3 509h1.6v1.6h-1.6zM439.5 497.4h1.6v1.6h-1.6zM450.7 467.1h1.6v1.6h-1.6zM452.8 472.9h1.6v1.6h-1.6zM543.2 452.5h1.6v1.6h-1.6zM441.5 512.2h1.6v1.6h-1.6zM440.4 523.9h1.6v1.6h-1.6z" stroke="none" fill="#111" stroke-width="1"/>
<rect x="432.4" y="448.6" width="115" height="110.7" fill="none" stroke="#444" stroke-width="1"/>
<line x1="429.4" y1="555.3" x2="432.4" y2="555.3" stroke="#444" stroke-width="1"/>
<text x="426.4" y="555.3" font-size="10.4" text-anchor="middle" fill="#1a1a1a" transform="rotate(-90 426.4 555.3)">1</text>
<line x1="429.4" y1="540.7" x2="432.4" y2="540.7" stroke="#444" stroke-width="1"/>
<text x="426.4" y="540.7" font-size="10.4" text-anchor="middle" fill="#1a1a1a" transform="rotate(-90 426.4 540.7)">2</text>
<line x1="429.4" y1="526.2" x2="432.4" y2="526.2" stroke="#444" stroke-width="1"/>
<text x="426.4" y="526.2" font-size="10.4" text-anchor="middle" fill="#1a1a1a" transform="rotate(-90 426.4 526.2)">3</text>
<line x1="429.4" y1="511.6" x2="432.4" y2="511.6" stroke="#444" stroke-width="1"/>
<text x="426.4" y="511.6" font-size="10.4" text-anchor="middle" fill="#1a1a1a" transform="rotate(-90 426.4 511.6)">4</text>
<line x1="429.4" y1="497" x2="432.4" y2="497" stroke="#444" stroke-width="1"/>
<text x="426.4" y="497" font-size="10.4" text-anchor="middle" fill="#1a1a1a" transform="rotate(-90 426.4 497)">5</text>
<line x1="429.4" y1="482.4" x2="432.4" y2="482.4" stroke="#444" stroke-width="1"/>
<text x="426.4" y="482.4" font-size="10.4" text-anchor="middle" fill="#1a1a1a" transform="rotate(-90 426.4 482.4)">6</text>
<line x1="429.4" y1="467.9" x2="432.4" y2="467.9" stroke="#444" stroke-width="1"/>
<text x="426.4" y="467.9" font-size="10.4" text-anchor="middle" fill="#1a1a1a" transform="rotate(-90 426.4 467.9)">7</text>
<line x1="429.4" y1="453.3" x2="432.4" y2="453.3" stroke="#444" stroke-width="1"/>
<text x="426.4" y="453.3" font-size="10.4" text-anchor="middle" fill="#1a1a1a" transform="rotate(-90 426.4 453.3)">8</text>
<line x1="436.4" y1="559.3" x2="436.4" y2="562.6" stroke="#444" stroke-width="1"/>
<text x="436.4" y="571.2" font-size="10.4" text-anchor="middle" fill="#1a1a1a">0.0</text>
<line x1="463.3" y1="559.3" x2="463.3" y2="562.6" stroke="#444" stroke-width="1"/>
<text x="463.3" y="571.2" font-size="10.4" text-anchor="middle" fill="#1a1a1a">0.5</text>
<line x1="490.2" y1="559.3" x2="490.2" y2="562.6" stroke="#444" stroke-width="1"/>
<text x="490.2" y="571.2" font-size="10.4" text-anchor="middle" fill="#1a1a1a">1.0</text>
<line x1="517.1" y1="559.3" x2="517.1" y2="562.6" stroke="#444" stroke-width="1"/>
<text x="517.1" y="571.2" font-size="10.4" text-anchor="middle" fill="#1a1a1a">1.5</text>
<line x1="544" y1="559.3" x2="544" y2="562.6" stroke="#444" stroke-width="1"/>
<text x="544" y="571.2" font-size="10.4" text-anchor="middle" fill="#1a1a1a">2.0</text>
<text x="490.7" y="445.3" font-size="10.6" text-anchor="middle" fill="#1a1a1a">CCDC33, P<0.0001</text>
<path d="M617.2 524.2h1.6v1.6h-1.6zM607.6 512.6h1.6v1.6h-1.6zM609.3 508.4h1.6v1.6h-1.6zM606.2 538.9h1.6v1.6h-1.6zM633.5 536.6h1.6v1.6h-1.6zM616.8 534.2h1.6v1.6h-1.6zM619.6 525.9h1.6v1.6h-1.6zM623.1 518.2h1.6v1.6h-1.6zM650.9 502.7h1.6v1.6h-1.6zM619.3 514.7h1.6v1.6h-1.6zM629.3 499.5h1.6v1.6h-1.6zM622 520.9h1.6v1.6h-1.6zM621.4 516h1.6v1.6h-1.6zM634.5 511h1.6v1.6h-1.6zM573.5 524.9h1.6v1.6h-1.6zM599.3 548.6h1.6v1.6h-1.6zM587.3 544.4h1.6v1.6h-1.6zM613.9 530.6h1.6v1.6h-1.6zM606 507.6h1.6v1.6h-1.6zM651 488.7h1.6v1.6h-1.6zM608.2 519.6h1.6v1.6h-1.6zM588.1 523.1h1.6v1.6h-1.6zM616.6 497.4h1.6v1.6h-1.6zM631 509.8h1.6v1.6h-1.6zM628 498.9h1.6v1.6h-1.6zM615.2 530.5h1.6v1.6h-1.6zM611.2 540.6h1.6v1.6h-1.6zM620.3 546.3h1.6v1.6h-1.6zM671.3 527.8h1.6v1.6h-1.6zM625.9 514.4h1.6v1.6h-1.6zM626.7 522h1.6v1.6h-1.6zM613.5 513h1.6v1.6h-1.6zM621.6 528.8h1.6v1.6h-1.6zM616.9 521.5h1.6v1.6h-1.6zM650.1 521.6h1.6v1.6h-1.6zM623.3 541h1.6v1.6h-1.6zM606.2 533.7h1.6v1.6h-1.6zM593.3 529.8h1.6v1.6h-1.6zM636.3 540.2h1.6v1.6h-1.6zM620.3 489.7h1.6v1.6h-1.6zM627.4 511.9h1.6v1.6h-1.6zM608.7 521.2h1.6v1.6h-1.6zM606.6 526.2h1.6v1.6h-1.6zM637.7 521.3h1.6v1.6h-1.6zM637.1 551.8h1.6v1.6h-1.6zM591.1 515.7h1.6v1.6h-1.6zM602.2 521.1h1.6v1.6h-1.6zM638.4 498h1.6v1.6h-1.6zM643.8 526h1.6v1.6h-1.6zM611.2 501.8h1.6v1.6h-1.6zM609.1 507.7h1.6v1.6h-1.6zM620.3 520.4h1.6v1.6h-1.6zM599 520.3h1.6v1.6h-1.6zM637.3 493.8h1.6v1.6h-1.6zM619.6 501.8h1.6v1.6h-1.6zM620.3 496.2h1.6v1.6h-1.6zM595.7 512.6h1.6v1.6h-1.6zM592.4 510.7h1.6v1.6h-1.6zM612.1 522.5h1.6v1.6h-1.6zM606.5 520.5h1.6v1.6h-1.6zM607.2 482.5h1.6v1.6h-1.6zM591.3 520.6h1.6v1.6h-1.6zM633.9 496.5h1.6v1.6h-1.6zM629.2 508.9h1.6v1.6h-1.6zM622.8 515.4h1.6v1.6h-1.6zM658.2 534.8h1.6v1.6h-1.6zM618.1 517h1.6v1.6h-1.6zM617.4 543.4h1.6v1.6h-1.6zM648.9 505.1h1.6v1.6h-1.6zM631.7 511.4h1.6v1.6h-1.6zM625.4 545.3h1.6v1.6h-1.6zM622.1 498.5h1.6v1.6h-1.6zM627.5 538.5h1.6v1.6h-1.6zM608.8 522.4h1.6v1.6h-1.6zM630.4 512.2h1.6v1.6h-1.6zM596.5 526.5h1.6v1.6h-1.6zM595.6 517.4h1.6v1.6h-1.6zM596.6 532.4h1.6v1.6h-1.6zM591.2 507.2h1.6v1.6h-1.6zM584.3 532.1h1.6v1.6h-1.6zM653 515h1.6v1.6h-1.6zM623.8 542.9h1.6v1.6h-1.6zM607.4 525h1.6v1.6h-1.6zM640.8 500h1.6v1.6h-1.6zM620.3 495.7h1.6v1.6h-1.6zM597 529.9h1.6v1.6h-1.6zM608.2 515.5h1.6v1.6h-1.6zM611 496.1h1.6v1.6h-1.6zM631.7 525.9h1.6v1.6h-1.6zM612.5 503.4h1.6v1.6h-1.6zM597.4 512.8h1.6v1.6h-1.6zM621.1 546.6h1.6v1.6h-1.6zM630.3 541.4h1.6v1.6h-1.6zM639 518.1h1.6v1.6h-1.6zM595.8 515.3h1.6v1.6h-1.6zM607 492.4h1.6v1.6h-1.6zM600.4 511.9h1.6v1.6h-1.6zM603.3 523.7h1.6v1.6h-1.6zM634.2 515h1.6v1.6h-1.6zM577 520.7h1.6v1.6h-1.6zM644.9 486.7h1.6v1.6h-1.6zM650.8 517.7h1.6v1.6h-1.6zM619.4 515.5h1.6v1.6h-1.6zM624.9 521.9h1.6v1.6h-1.6zM607.5 483.6h1.6v1.6h-1.6zM604.8 548.8h1.6v1.6h-1.6zM625.6 526.5h1.6v1.6h-1.6zM612.1 520.3h1.6v1.6h-1.6zM605 508.1h1.6v1.6h-1.6zM626 529.9h1.6v1.6h-1.6zM615.1 527.4h1.6v1.6h-1.6zM619.7 512.9h1.6v1.6h-1.6zM599.5 533.2h1.6v1.6h-1.6zM615.7 536.2h1.6v1.6h-1.6zM646.1 523.8h1.6v1.6h-1.6zM587.3 538.8h1.6v1.6h-1.6zM626.3 504.9h1.6v1.6h-1.6zM597.3 530h1.6v1.6h-1.6zM645.6 520.6h1.6v1.6h-1.6zM660.7 499.3h1.6v1.6h-1.6zM608.3 518.5h1.6v1.6h-1.6zM621.9 541.4h1.6v1.6h-1.6zM633.7 532.5h1.6v1.6h-1.6zM619.3 500h1.6v1.6h-1.6zM603.9 518.4h1.6v1.6h-1.6zM611.2 524.8h1.6v1.6h-1.6zM619.8 510.3h1.6v1.6h-1.6zM641.3 511.1h1.6v1.6h-1.6zM618.6 535.6h1.6v1.6h-1.6zM639.8 527.9h1.6v1.6h-1.6zM612.1 531.5h1.6v1.6h-1.6zM633.2 525.1h1.6v1.6h-1.6zM627.4 527.4h1.6v1.6h-1.6zM645.6 521.1h1.6v1.6h-1.6zM632.5 492h1.6v1.6h-1.6zM629.8 503.2h1.6v1.6h-1.6zM608.5 510.4h1.6v1.6h-1.6zM613.2 512.4h1.6v1.6h-1.6zM613.7 515.5h1.6v1.6h-1.6zM624.7 532.5h1.6v1.6h-1.6zM615.6 536.4h1.6v1.6h-1.6zM655.9 517.1h1.6v1.6h-1.6zM610.6 550.9h1.6v1.6h-1.6zM654.9 531.7h1.6v1.6h-1.6zM599.7 510.9h1.6v1.6h-1.6zM635.3 509h1.6v1.6h-1.6zM608.4 500.4h1.6v1.6h-1.6zM649.6 511.6h1.6v1.6h-1.6zM636.5 507.6h1.6v1.6h-1.6zM586.2 522h1.6v1.6h-1.6zM613.3 526.8h1.6v1.6h-1.6zM613.5 530.3h1.6v1.6h-1.6zM606.5 532.6h1.6v1.6h-1.6zM638.6 520h1.6v1.6h-1.6zM617.9 504.8h1.6v1.6h-1.6zM635.8 519.6h1.6v1.6h-1.6zM621 497.9h1.6v1.6h-1.6zM599.8 509.4h1.6v1.6h-1.6zM627.6 520.4h1.6v1.6h-1.6zM599.6 531.4h1.6v1.6h-1.6zM595.3 518.8h1.6v1.6h-1.6zM623.1 511.7h1.6v1.6h-1.6zM633.5 510.4h1.6v1.6h-1.6zM633.2 513.2h1.6v1.6h-1.6zM622.7 545.6h1.6v1.6h-1.6zM615.4 515.5h1.6v1.6h-1.6zM626.6 518.2h1.6v1.6h-1.6zM612.9 507.7h1.6v1.6h-1.6zM635.8 524h1.6v1.6h-1.6zM649.6 533.1h1.6v1.6h-1.6zM619.2 521.5h1.6v1.6h-1.6zM623 510.9h1.6v1.6h-1.6zM604.1 517.9h1.6v1.6h-1.6zM612.6 538.8h1.6v1.6h-1.6zM629.1 513.2h1.6v1.6h-1.6zM625.7 481.5h1.6v1.6h-1.6zM603.5 500.9h1.6v1.6h-1.6zM620 521h1.6v1.6h-1.6zM596.2 533.2h1.6v1.6h-1.6zM621.5 529.5h1.6v1.6h-1.6zM605.1 523.5h1.6v1.6h-1.6zM615.3 521.7h1.6v1.6h-1.6zM628.3 515.4h1.6v1.6h-1.6zM599.9 528.9h1.6v1.6h-1.6zM650 526.4h1.6v1.6h-1.6zM618.1 519.7h1.6v1.6h-1.6zM620.7 514.2h1.6v1.6h-1.6zM621.8 485.2h1.6v1.6h-1.6zM611.4 531h1.6v1.6h-1.6zM594.1 529.6h1.6v1.6h-1.6zM635 504.9h1.6v1.6h-1.6zM606.1 532.1h1.6v1.6h-1.6zM610.7 532.8h1.6v1.6h-1.6zM613.2 529.2h1.6v1.6h-1.6zM601.4 521h1.6v1.6h-1.6zM614.1 520.6h1.6v1.6h-1.6zM621.3 492.1h1.6v1.6h-1.6zM630.1 500.3h1.6v1.6h-1.6zM644.2 514.7h1.6v1.6h-1.6zM617 547.4h1.6v1.6h-1.6zM637.2 518.5h1.6v1.6h-1.6zM596.5 506.1h1.6v1.6h-1.6zM639.6 511.8h1.6v1.6h-1.6zM617 498.2h1.6v1.6h-1.6zM616.2 552h1.6v1.6h-1.6zM592.9 524.8h1.6v1.6h-1.6zM642.8 502.6h1.6v1.6h-1.6zM642.1 524.1h1.6v1.6h-1.6zM598.9 521.4h1.6v1.6h-1.6zM610.6 514.9h1.6v1.6h-1.6zM630.2 488.7h1.6v1.6h-1.6zM615.1 520h1.6v1.6h-1.6zM595 544h1.6v1.6h-1.6zM613.5 528.3h1.6v1.6h-1.6zM630.7 519.6h1.6v1.6h-1.6zM600.4 523.3h1.6v1.6h-1.6zM627 506h1.6v1.6h-1.6zM624.2 508.5h1.6v1.6h-1.6zM644.6 507.8h1.6v1.6h-1.6zM613.2 530.8h1.6v1.6h-1.6zM637.7 520.4h1.6v1.6h-1.6zM581 515.7h1.6v1.6h-1.6zM608.3 535.7h1.6v1.6h-1.6zM619.4 545.9h1.6v1.6h-1.6zM617.6 513.1h1.6v1.6h-1.6zM616.7 546.5h1.6v1.6h-1.6zM612.9 524.8h1.6v1.6h-1.6zM619.6 528.9h1.6v1.6h-1.6zM627.3 539.2h1.6v1.6h-1.6zM615.4 524.4h1.6v1.6h-1.6zM601 502h1.6v1.6h-1.6zM623.8 514.8h1.6v1.6h-1.6zM590.4 507.4h1.6v1.6h-1.6zM611.2 528.9h1.6v1.6h-1.6zM649.3 497.5h1.6v1.6h-1.6zM635.1 537.2h1.6v1.6h-1.6zM627.9 490.5h1.6v1.6h-1.6zM630.9 515.9h1.6v1.6h-1.6zM601.1 484.6h1.6v1.6h-1.6zM630.2 514.4h1.6v1.6h-1.6zM617 547.1h1.6v1.6h-1.6zM619.2 512.2h1.6v1.6h-1.6zM648.5 548h1.6v1.6h-1.6zM639.2 526.5h1.6v1.6h-1.6zM645 500h1.6v1.6h-1.6zM600.3 547.5h1.6v1.6h-1.6zM621.2 537.9h1.6v1.6h-1.6zM639.5 517.5h1.6v1.6h-1.6zM596.3 515.2h1.6v1.6h-1.6zM625.6 538.9h1.6v1.6h-1.6zM633.1 520.8h1.6v1.6h-1.6zM648.9 533.7h1.6v1.6h-1.6zM617.6 515.7h1.6v1.6h-1.6zM600.2 536h1.6v1.6h-1.6zM641.9 519.7h1.6v1.6h-1.6zM615.2 547.1h1.6v1.6h-1.6zM632.8 494.7h1.6v1.6h-1.6zM608.6 516.4h1.6v1.6h-1.6zM617.4 503.5h1.6v1.6h-1.6zM617.9 539.9h1.6v1.6h-1.6zM617.4 514h1.6v1.6h-1.6zM626.9 544.2h1.6v1.6h-1.6zM636 540.4h1.6v1.6h-1.6zM633.2 510.8h1.6v1.6h-1.6zM605.6 518.1h1.6v1.6h-1.6zM625.4 527.6h1.6v1.6h-1.6zM639.3 513.2h1.6v1.6h-1.6zM624 516.5h1.6v1.6h-1.6zM601.1 536.1h1.6v1.6h-1.6zM613.5 521.5h1.6v1.6h-1.6zM600 529.9h1.6v1.6h-1.6zM615.8 508.3h1.6v1.6h-1.6zM631.3 500.6h1.6v1.6h-1.6zM604.3 505.2h1.6v1.6h-1.6zM613.5 531.6h1.6v1.6h-1.6zM609.3 528.6h1.6v1.6h-1.6zM619.7 529.8h1.6v1.6h-1.6zM596.1 538.2h1.6v1.6h-1.6zM626.6 536.7h1.6v1.6h-1.6zM664 535.6h1.6v1.6h-1.6zM624.4 532.8h1.6v1.6h-1.6zM617.4 495.9h1.6v1.6h-1.6zM627.6 509.6h1.6v1.6h-1.6zM641.3 501.1h1.6v1.6h-1.6zM589.7 500h1.6v1.6h-1.6zM627.6 536.2h1.6v1.6h-1.6zM611.6 507.9h1.6v1.6h-1.6zM628.1 514.4h1.6v1.6h-1.6zM630.3 526.6h1.6v1.6h-1.6zM669.4 506.7h1.6v1.6h-1.6zM597.7 503.3h1.6v1.6h-1.6zM575.5 514.4h1.6v1.6h-1.6zM637.5 506.1h1.6v1.6h-1.6zM617.6 522h1.6v1.6h-1.6zM633.9 523.4h1.6v1.6h-1.6zM616.9 525.2h1.6v1.6h-1.6zM626.6 514h1.6v1.6h-1.6zM630.2 499h1.6v1.6h-1.6zM609 496.5h1.6v1.6h-1.6zM636.6 544.3h1.6v1.6h-1.6zM618.6 533.1h1.6v1.6h-1.6zM602.9 517.4h1.6v1.6h-1.6zM628.6 501.6h1.6v1.6h-1.6zM629.2 526.8h1.6v1.6h-1.6zM662.6 483.8h1.6v1.6h-1.6zM629 511.2h1.6v1.6h-1.6zM625.6 507.2h1.6v1.6h-1.6zM614.2 537.8h1.6v1.6h-1.6zM606.8 533.5h1.6v1.6h-1.6zM629.7 500.5h1.6v1.6h-1.6zM641.1 530.1h1.6v1.6h-1.6zM637.3 512.5h1.6v1.6h-1.6zM613.6 533.5h1.6v1.6h-1.6zM627.6 496.1h1.6v1.6h-1.6zM609.8 514.5h1.6v1.6h-1.6zM638.5 495.2h1.6v1.6h-1.6zM621.9 510h1.6v1.6h-1.6zM624.1 538.3h1.6v1.6h-1.6zM618.9 513.7h1.6v1.6h-1.6zM642.8 524h1.6v1.6h-1.6zM645.5 483.6h1.6v1.6h-1.6zM631 526.2h1.6v1.6h-1.6zM623.4 523.8h1.6v1.6h-1.6zM644 483.8h1.6v1.6h-1.6zM641.9 511.3h1.6v1.6h-1.6zM637.9 498.7h1.6v1.6h-1.6zM628.6 506.6h1.6v1.6h-1.6zM617.3 510h1.6v1.6h-1.6zM640 520.6h1.6v1.6h-1.6zM612.4 515.7h1.6v1.6h-1.6zM643.6 513.8h1.6v1.6h-1.6zM624.2 529.2h1.6v1.6h-1.6zM586.5 513.7h1.6v1.6h-1.6zM587.4 521.5h1.6v1.6h-1.6zM634.8 534.3h1.6v1.6h-1.6zM605.6 536.1h1.6v1.6h-1.6zM604 520.4h1.6v1.6h-1.6zM633 511.2h1.6v1.6h-1.6zM623.1 524.1h1.6v1.6h-1.6zM616.3 489.4h1.6v1.6h-1.6zM588.7 498.4h1.6v1.6h-1.6zM656.6 512.9h1.6v1.6h-1.6zM618.7 530.5h1.6v1.6h-1.6zM631.2 518.7h1.6v1.6h-1.6zM626.1 517.3h1.6v1.6h-1.6zM623.3 535.9h1.6v1.6h-1.6zM626.5 513h1.6v1.6h-1.6zM659.9 496.3h1.6v1.6h-1.6zM606.3 516.2h1.6v1.6h-1.6zM604.4 521h1.6v1.6h-1.6zM589.3 540.7h1.6v1.6h-1.6zM643.3 520.2h1.6v1.6h-1.6zM628.8 524h1.6v1.6h-1.6zM624.2 520.3h1.6v1.6h-1.6zM606.8 551.2h1.6v1.6h-1.6zM620.5 548h1.6v1.6h-1.6zM597.6 526.7h1.6v1.6h-1.6zM593.2 525.1h1.6v1.6h-1.6zM593 504.3h1.6v1.6h-1.6zM608.4 531.9h1.6v1.6h-1.6zM601.1 530.5h1.6v1.6h-1.6zM616.4 509h1.6v1.6h-1.6zM604.7 521.6h1.6v1.6h-1.6zM614.4 542.6h1.6v1.6h-1.6zM632.1 516.1h1.6v1.6h-1.6zM607 532.4h1.6v1.6h-1.6zM611.5 537h1.6v1.6h-1.6zM640.7 498.3h1.6v1.6h-1.6zM627.7 518.3h1.6v1.6h-1.6zM601.8 537.2h1.6v1.6h-1.6zM604.1 534.4h1.6v1.6h-1.6zM617.8 506.7h1.6v1.6h-1.6zM606.4 511.7h1.6v1.6h-1.6zM595.8 503.4h1.6v1.6h-1.6zM631 511.5h1.6v1.6h-1.6zM623.7 487.5h1.6v1.6h-1.6zM631.3 521.9h1.6v1.6h-1.6zM583 522.4h1.6v1.6h-1.6zM616 541h1.6v1.6h-1.6zM651.4 535.9h1.6v1.6h-1.6zM658.6 487.9h1.6v1.6h-1.6zM613.7 497.7h1.6v1.6h-1.6zM620.3 532.3h1.6v1.6h-1.6zM606.7 487.4h1.6v1.6h-1.6zM632.4 496.9h1.6v1.6h-1.6zM633.8 518.7h1.6v1.6h-1.6zM575.8 529h1.6v1.6h-1.6zM605.8 513h1.6v1.6h-1.6zM626.5 518.5h1.6v1.6h-1.6zM643 518.3h1.6v1.6h-1.6zM629 495.3h1.6v1.6h-1.6zM633.9 512.5h1.6v1.6h-1.6zM611.7 524.1h1.6v1.6h-1.6zM606 505.5h1.6v1.6h-1.6zM621.4 521.6h1.6v1.6h-1.6zM641.3 535h1.6v1.6h-1.6zM618.6 533.9h1.6v1.6h-1.6zM578 524.5h1.6v1.6h-1.6zM626.8 514.7h1.6v1.6h-1.6zM592.2 517.5h1.6v1.6h-1.6zM629.2 545.1h1.6v1.6h-1.6zM627.8 539.5h1.6v1.6h-1.6zM609.9 510h1.6v1.6h-1.6zM623.8 540.7h1.6v1.6h-1.6zM605.4 515.3h1.6v1.6h-1.6zM624.2 524.5h1.6v1.6h-1.6zM636.8 520.4h1.6v1.6h-1.6zM629.4 495.5h1.6v1.6h-1.6zM631.4 493.9h1.6v1.6h-1.6zM612.8 512.4h1.6v1.6h-1.6zM615.5 531.2h1.6v1.6h-1.6zM608.8 507.9h1.6v1.6h-1.6zM600.4 550h1.6v1.6h-1.6zM594.3 514.8h1.6v1.6h-1.6zM617.4 525.5h1.6v1.6h-1.6zM622.9 529h1.6v1.6h-1.6zM615.3 524.4h1.6v1.6h-1.6zM604.3 486.9h1.6v1.6h-1.6zM621.8 509h1.6v1.6h-1.6zM630 522.3h1.6v1.6h-1.6zM614.9 451.6h1.6v1.6h-1.6zM606.4 458.8h1.6v1.6h-1.6zM616.6 464.6h1.6v1.6h-1.6zM626.8 464.6h1.6v1.6h-1.6zM633.6 461.7h1.6v1.6h-1.6zM647.2 466h1.6v1.6h-1.6zM652.3 470.3h1.6v1.6h-1.6zM667.6 461.7h1.6v1.6h-1.6zM603 473.2h1.6v1.6h-1.6zM635.3 468.9h1.6v1.6h-1.6zM643.8 477.5h1.6v1.6h-1.6zM579.2 491.9h1.6v1.6h-1.6zM677.8 516.4h1.6v1.6h-1.6zM572.4 527.9h1.6v1.6h-1.6z" stroke="none" fill="#111" stroke-width="1"/>
<rect x="568.8" y="447.3" width="115.2" height="110.1" fill="none" stroke="#444" stroke-width="1"/>
<line x1="565.8" y1="553.2" x2="568.8" y2="553.2" stroke="#444" stroke-width="1"/>
<text x="562.8" y="553.2" font-size="10.4" text-anchor="middle" fill="#1a1a1a" transform="rotate(-90 562.8 553.2)">1</text>
<line x1="565.8" y1="538.8" x2="568.8" y2="538.8" stroke="#444" stroke-width="1"/>
<text x="562.8" y="538.8" font-size="10.4" text-anchor="middle" fill="#1a1a1a" transform="rotate(-90 562.8 538.8)">2</text>
<line x1="565.8" y1="524.4" x2="568.8" y2="524.4" stroke="#444" stroke-width="1"/>
<text x="562.8" y="524.4" font-size="10.4" text-anchor="middle" fill="#1a1a1a" transform="rotate(-90 562.8 524.4)">3</text>
<line x1="565.8" y1="510" x2="568.8" y2="510" stroke="#444" stroke-width="1"/>
<text x="562.8" y="510" font-size="10.4" text-anchor="middle" fill="#1a1a1a" transform="rotate(-90 562.8 510)">4</text>
<line x1="565.8" y1="495.6" x2="568.8" y2="495.6" stroke="#444" stroke-width="1"/>
<text x="562.8" y="495.6" font-size="10.4" text-anchor="middle" fill="#1a1a1a" transform="rotate(-90 562.8 495.6)">5</text>
<line x1="565.8" y1="481.2" x2="568.8" y2="481.2" stroke="#444" stroke-width="1"/>
<text x="562.8" y="481.2" font-size="10.4" text-anchor="middle" fill="#1a1a1a" transform="rotate(-90 562.8 481.2)">6</text>
<line x1="565.8" y1="466.8" x2="568.8" y2="466.8" stroke="#444" stroke-width="1"/>
<text x="562.8" y="466.8" font-size="10.4" text-anchor="middle" fill="#1a1a1a" transform="rotate(-90 562.8 466.8)">7</text>
<line x1="565.8" y1="452.4" x2="568.8" y2="452.4" stroke="#444" stroke-width="1"/>
<text x="562.8" y="452.4" font-size="10.4" text-anchor="middle" fill="#1a1a1a" transform="rotate(-90 562.8 452.4)">8</text>
<line x1="583.4" y1="557.4" x2="583.4" y2="560.7" stroke="#444" stroke-width="1"/>
<text x="583.4" y="570.4" font-size="10.4" text-anchor="middle" fill="#1a1a1a">4.5</text>
<line x1="600.4" y1="557.4" x2="600.4" y2="560.7" stroke="#444" stroke-width="1"/>
<text x="600.4" y="570.4" font-size="10.4" text-anchor="middle" fill="#1a1a1a">5.0</text>
<line x1="617.4" y1="557.4" x2="617.4" y2="560.7" stroke="#444" stroke-width="1"/>
<text x="617.4" y="570.4" font-size="10.4" text-anchor="middle" fill="#1a1a1a">5.5</text>
<line x1="634.4" y1="557.4" x2="634.4" y2="560.7" stroke="#444" stroke-width="1"/>
<text x="634.4" y="570.4" font-size="10.4" text-anchor="middle" fill="#1a1a1a">6.0</text>
<line x1="651.4" y1="557.4" x2="651.4" y2="560.7" stroke="#444" stroke-width="1"/>
<text x="651.4" y="570.4" font-size="10.4" text-anchor="middle" fill="#1a1a1a">6.5</text>
<line x1="668.4" y1="557.4" x2="668.4" y2="560.7" stroke="#444" stroke-width="1"/>
<text x="668.4" y="570.4" font-size="10.4" text-anchor="middle" fill="#1a1a1a">7.0</text>
<text x="627.2" y="445.3" font-size="10.6" text-anchor="middle" fill="#1a1a1a">ANAPC5, P<0.0001</text>
<line x1="28.6" y1="575.7" x2="684" y2="575.7" stroke="#444" stroke-width="1.1"/>
<text x="387" y="589.1" font-size="10.4" text-anchor="middle" fill="#1a1a1a">Gene expression level</text>
<text x="9.6" y="507.7" font-size="10.6" text-anchor="middle" fill="#1a1a1a" transform="rotate(-90 9.6 507.7)">TGFβ1 expression level</text>
<text x="1" y="443.1" font-size="24" fill="#231815">e</text>
<line x1="27.4" y1="591.4" x2="27.4" y2="757.8" stroke="#444" stroke-width="1"/>
<line x1="27.4" y1="757.8" x2="143" y2="757.8" stroke="#444" stroke-width="1"/>
<line x1="25.3" y1="757.8" x2="27.4" y2="757.8" stroke="#444" stroke-width="1"/>
<text x="23.2" y="761.3" font-size="9.8" text-anchor="end" font-weight="normal" fill="#1a1a1a" stroke="#1a1a1a" stroke-width="0.3">0</text>
<line x1="25.3" y1="724.5" x2="27.4" y2="724.5" stroke="#444" stroke-width="1"/>
<text x="23.2" y="728" font-size="9.8" text-anchor="end" font-weight="normal" fill="#1a1a1a" stroke="#1a1a1a" stroke-width="0.3">2</text>
<line x1="25.3" y1="691.2" x2="27.4" y2="691.2" stroke="#444" stroke-width="1"/>
<text x="23.2" y="694.7" font-size="9.8" text-anchor="end" font-weight="normal" fill="#1a1a1a" stroke="#1a1a1a" stroke-width="0.3">4</text>
<line x1="25.3" y1="658" x2="27.4" y2="658" stroke="#444" stroke-width="1"/>
<text x="23.2" y="661.5" font-size="9.8" text-anchor="end" font-weight="normal" fill="#1a1a1a" stroke="#1a1a1a" stroke-width="0.3">6</text>
<line x1="25.3" y1="624.7" x2="27.4" y2="624.7" stroke="#444" stroke-width="1"/>
<text x="23.2" y="628.2" font-size="9.8" text-anchor="end" font-weight="normal" fill="#1a1a1a" stroke="#1a1a1a" stroke-width="0.3">8</text>
<line x1="25.3" y1="591.4" x2="27.4" y2="591.4" stroke="#444" stroke-width="1"/>
<text x="23.2" y="594.9" font-size="9.8" text-anchor="end" font-weight="normal" fill="#1a1a1a" stroke="#1a1a1a" stroke-width="0.3">10</text>
<line x1="43.1" y1="721.2" x2="43.1" y2="727" stroke="#5065c2" stroke-width="1.2"/>
<line x1="39.1" y1="721.2" x2="47.1" y2="721.2" stroke="#5065c2" stroke-width="1.6"/>
<rect x="36.2" y="727" width="13.7" height="30.8" fill="#fff" stroke="#5065c2" stroke-width="1.5"/>
<line x1="35.5" y1="727" x2="50.7" y2="727" stroke="#5065c2" stroke-width="2.2"/>
<line x1="66" y1="611.4" x2="66" y2="634.7" stroke="#e8523c" stroke-width="1.2"/>
<line x1="62" y1="611.4" x2="70" y2="611.4" stroke="#e8523c" stroke-width="1.6"/>
<rect x="59.1" y="634.7" width="13.7" height="123.1" fill="#fff" stroke="#e8523c" stroke-width="1.5"/>
<line x1="58.4" y1="634.7" x2="73.6" y2="634.7" stroke="#e8523c" stroke-width="2.2"/>
<line x1="104.8" y1="731.2" x2="104.8" y2="737" stroke="#5065c2" stroke-width="1.2"/>
<line x1="100.8" y1="731.2" x2="108.8" y2="731.2" stroke="#5065c2" stroke-width="1.6"/>
<rect x="98.3" y="737" width="13" height="20.8" fill="#fff" stroke="#5065c2" stroke-width="1.5"/>
<line x1="97.6" y1="737" x2="112.1" y2="737" stroke="#5065c2" stroke-width="2.2"/>
<line x1="127.9" y1="678.8" x2="127.9" y2="688.7" stroke="#e8523c" stroke-width="1.2"/>
<line x1="123.9" y1="678.8" x2="131.9" y2="678.8" stroke="#e8523c" stroke-width="1.6"/>
<rect x="121.5" y="688.7" width="12.7" height="69.1" fill="#fff" stroke="#e8523c" stroke-width="1.5"/>
<line x1="120.8" y1="688.7" x2="135" y2="688.7" stroke="#e8523c" stroke-width="2.2"/>
<line x1="27.4" y1="757.8" x2="143" y2="757.8" stroke="#444" stroke-width="1"/>
<line x1="54.4" y1="757.8" x2="54.4" y2="764" stroke="#444" stroke-width="1"/>
<line x1="116.3" y1="757.8" x2="116.3" y2="764" stroke="#444" stroke-width="1"/>
<text x="53.5" y="773.4" font-size="10.4" text-anchor="middle" fill="#1a1a1a">Cell</text>
<text x="115.3" y="773.4" font-size="10.4" text-anchor="middle" fill="#1a1a1a">Tumor tissue</text>
<line x1="23.4" y1="775.8" x2="143" y2="775.8" stroke="#444" stroke-width="1"/>
<text x="79.5" y="786.3" font-size="10.4" text-anchor="middle" fill="#1a1a1a">MHCC97H</text>
<line x1="39.3" y1="608.9" x2="66.7" y2="608.9" stroke="#555" stroke-width="1"/>
<text x="53" y="610.1" font-size="9.5" text-anchor="middle" fill="#1a1a1a">*</text>
<line x1="104.5" y1="676.7" x2="130.8" y2="676.7" stroke="#555" stroke-width="1"/>
<text x="118.8" y="678" font-size="9.5" text-anchor="middle" fill="#1a1a1a">*</text>
<rect x="102.9" y="625" width="6.2" height="6.8" fill="#fff" stroke="#5065c2" stroke-width="1.4"/>
<line x1="102.2" y1="625.2" x2="109.8" y2="625.2" stroke="#5065c2" stroke-width="1.8"/>
<rect x="102.9" y="638.3" width="6.2" height="6.8" fill="#fff" stroke="#e8523c" stroke-width="1.4"/>
<line x1="102.2" y1="638.5" x2="109.8" y2="638.5" stroke="#e8523c" stroke-width="1.8"/>
<text x="113.6" y="632.7" font-size="10.4" fill="#1a1a1a">SCR</text>
<text x="113.6" y="645.8" font-size="10.4" fill="#1a1a1a">APOA2</text>
<text x="13.5" y="677" font-size="10.6" text-anchor="middle" fill="#1a1a1a" transform="rotate(-90 13.5 677)">TGFβ1 expression level</text>
<text x="2.6" y="598.6" font-size="24" fill="#231815">f</text>
<defs><radialGradient id="wg" cx="50%" cy="45%" r="55%"><stop offset="0" stop-color="#fff" stop-opacity="0.35"/><stop offset="0.6" stop-color="#fff" stop-opacity="0"/><stop offset="0.85" stop-color="#000" stop-opacity="0.12"/><stop offset="1" stop-color="#000" stop-opacity="0.2"/></radialGradient></defs>
<rect x="158.4" y="594.5" width="130.8" height="41.5" fill="#e2e5d9"/>
<polygon points="158.4,594.5 289.2,594.5 289.2,605.2 158.4,605.2" fill="#eef0e3"/>
<text x="174.5" y="600.1" font-size="7.5" text-anchor="middle" font-weight="normal" fill="#c9cbbd" transform="rotate(90 174.5 600.1)">H</text>
<text x="188.8" y="600.1" font-size="7.5" text-anchor="middle" font-weight="normal" fill="#c9cbbd" transform="rotate(90 188.8 600.1)">G</text>
<text x="203.1" y="600.1" font-size="7.5" text-anchor="middle" font-weight="normal" fill="#c9cbbd" transform="rotate(90 203.1 600.1)">F</text>
<text x="217.4" y="600.1" font-size="7.5" text-anchor="middle" font-weight="normal" fill="#c9cbbd" transform="rotate(90 217.4 600.1)">E</text>
<text x="231.7" y="600.1" font-size="7.5" text-anchor="middle" font-weight="normal" fill="#c9cbbd" transform="rotate(90 231.7 600.1)">D</text>
<text x="246" y="600.1" font-size="7.5" text-anchor="middle" font-weight="normal" fill="#c9cbbd" transform="rotate(90 246 600.1)">C</text>
<text x="260.3" y="600.1" font-size="7.5" text-anchor="middle" font-weight="normal" fill="#c9cbbd" transform="rotate(90 260.3 600.1)">B</text>
<text x="274.6" y="600.1" font-size="7.5" text-anchor="middle" font-weight="normal" fill="#c9cbbd" transform="rotate(90 274.6 600.1)">A</text>
<circle cx="174.5" cy="614.2" r="6.9" fill="#b0b6a2"/>
<circle cx="174.5" cy="614.2" r="6.5" fill="url(#wg)" stroke="#7d846c" stroke-opacity="0.45" stroke-width="0.8"/>
<circle cx="174.5" cy="613.7" r="3.8" fill="none" stroke="#fff" stroke-opacity="0.35" stroke-width="0.8"/>
<circle cx="174.5" cy="628.4" r="6.9" fill="#c4d03e"/>
<circle cx="174.5" cy="628.4" r="6.5" fill="url(#wg)" stroke="#7d846c" stroke-opacity="0.45" stroke-width="0.8"/>
<circle cx="174.5" cy="627.9" r="3.8" fill="none" stroke="#fff" stroke-opacity="0.35" stroke-width="0.8"/>
<circle cx="188.8" cy="614.2" r="6.9" fill="#b8bea9"/>
<circle cx="188.8" cy="614.2" r="6.5" fill="url(#wg)" stroke="#7d846c" stroke-opacity="0.45" stroke-width="0.8"/>
<circle cx="188.8" cy="613.7" r="3.8" fill="none" stroke="#fff" stroke-opacity="0.35" stroke-width="0.8"/>
<circle cx="188.8" cy="628.4" r="6.9" fill="#c7d345"/>
<circle cx="188.8" cy="628.4" r="6.5" fill="url(#wg)" stroke="#7d846c" stroke-opacity="0.45" stroke-width="0.8"/>
<circle cx="188.8" cy="627.9" r="3.8" fill="none" stroke="#fff" stroke-opacity="0.35" stroke-width="0.8"/>
<circle cx="203.1" cy="614.2" r="6.9" fill="#babfaa"/>
<circle cx="203.1" cy="614.2" r="6.5" fill="url(#wg)" stroke="#7d846c" stroke-opacity="0.45" stroke-width="0.8"/>
<circle cx="203.1" cy="613.7" r="3.8" fill="none" stroke="#fff" stroke-opacity="0.35" stroke-width="0.8"/>
<circle cx="203.1" cy="628.4" r="6.9" fill="#c5d142"/>
<circle cx="203.1" cy="628.4" r="6.5" fill="url(#wg)" stroke="#7d846c" stroke-opacity="0.45" stroke-width="0.8"/>
<circle cx="203.1" cy="627.9" r="3.8" fill="none" stroke="#fff" stroke-opacity="0.35" stroke-width="0.8"/>
<circle cx="217.4" cy="614.2" r="6.9" fill="#bcc1ab"/>
<circle cx="217.4" cy="614.2" r="6.5" fill="url(#wg)" stroke="#7d846c" stroke-opacity="0.45" stroke-width="0.8"/>
<circle cx="217.4" cy="613.7" r="3.8" fill="none" stroke="#fff" stroke-opacity="0.35" stroke-width="0.8"/>
<circle cx="217.4" cy="628.4" r="6.9" fill="#c8d448"/>
<circle cx="217.4" cy="628.4" r="6.5" fill="url(#wg)" stroke="#7d846c" stroke-opacity="0.45" stroke-width="0.8"/>
<circle cx="217.4" cy="627.9" r="3.8" fill="none" stroke="#fff" stroke-opacity="0.35" stroke-width="0.8"/>
<circle cx="231.7" cy="614.2" r="6.9" fill="#bcc64e"/>
<circle cx="231.7" cy="614.2" r="6.5" fill="url(#wg)" stroke="#7d846c" stroke-opacity="0.45" stroke-width="0.8"/>
<circle cx="231.7" cy="613.7" r="3.8" fill="none" stroke="#fff" stroke-opacity="0.35" stroke-width="0.8"/>
<circle cx="231.7" cy="628.4" r="6.9" fill="#d0d4c6"/>
<circle cx="231.7" cy="628.4" r="6.5" fill="url(#wg)" stroke="#7d846c" stroke-opacity="0.45" stroke-width="0.8"/>
<circle cx="231.7" cy="627.9" r="3.8" fill="none" stroke="#fff" stroke-opacity="0.35" stroke-width="0.8"/>
<circle cx="246" cy="614.2" r="6.9" fill="#c0cb3c"/>
<circle cx="246" cy="614.2" r="6.5" fill="url(#wg)" stroke="#7d846c" stroke-opacity="0.45" stroke-width="0.8"/>
<circle cx="246" cy="613.7" r="3.8" fill="none" stroke="#fff" stroke-opacity="0.35" stroke-width="0.8"/>
<circle cx="246" cy="628.4" r="6.9" fill="#d2d6c9"/>
<circle cx="246" cy="628.4" r="6.5" fill="url(#wg)" stroke="#7d846c" stroke-opacity="0.45" stroke-width="0.8"/>
<circle cx="246" cy="627.9" r="3.8" fill="none" stroke="#fff" stroke-opacity="0.35" stroke-width="0.8"/>
<circle cx="260.3" cy="614.2" r="6.9" fill="#bcc737"/>
<circle cx="260.3" cy="614.2" r="6.5" fill="url(#wg)" stroke="#7d846c" stroke-opacity="0.45" stroke-width="0.8"/>
<circle cx="260.3" cy="613.7" r="3.8" fill="none" stroke="#fff" stroke-opacity="0.35" stroke-width="0.8"/>
<circle cx="260.3" cy="628.4" r="6.9" fill="#d3d7ca"/>
<circle cx="260.3" cy="628.4" r="6.5" fill="url(#wg)" stroke="#7d846c" stroke-opacity="0.45" stroke-width="0.8"/>
<circle cx="260.3" cy="627.9" r="3.8" fill="none" stroke="#fff" stroke-opacity="0.35" stroke-width="0.8"/>
<circle cx="274.6" cy="614.2" r="6.9" fill="#b5bf30"/>
<circle cx="274.6" cy="614.2" r="6.5" fill="url(#wg)" stroke="#7d846c" stroke-opacity="0.45" stroke-width="0.8"/>
<circle cx="274.6" cy="613.7" r="3.8" fill="none" stroke="#fff" stroke-opacity="0.35" stroke-width="0.8"/>
<circle cx="274.6" cy="628.4" r="6.9" fill="#cfd3c5"/>
<circle cx="274.6" cy="628.4" r="6.5" fill="url(#wg)" stroke="#7d846c" stroke-opacity="0.45" stroke-width="0.8"/>
<circle cx="274.6" cy="627.9" r="3.8" fill="none" stroke="#fff" stroke-opacity="0.35" stroke-width="0.8"/>
<path d="M169.6 631.5V639.9H221.9V631.5M226.1 631.5V639.9H278.7V631.5" stroke="#444" fill="none" stroke-width="0.9"/>
<text x="195.2" y="648.5" font-size="10.4" text-anchor="middle" fill="#1a1a1a">APOA2</text>
<text x="252.6" y="648.5" font-size="10.4" text-anchor="middle" fill="#1a1a1a">SCR</text>
<rect x="357.8" y="593.2" width="128.1" height="55.2" fill="#e2e5da"/>
<rect x="481.5" y="604.4" width="5.5" height="44" fill="#d6d8d0"/>
<polygon points="364.8,593.2 485.9,593.2 485.9,604.4 357.8,604.4 357.8,600.2" fill="#eef0e3"/>
<text x="370.4" y="599" font-size="7.5" text-anchor="middle" font-weight="normal" fill="#c9cbbd" transform="rotate(90 370.4 599)">H</text>
<text x="384.9" y="599" font-size="7.5" text-anchor="middle" font-weight="normal" fill="#c9cbbd" transform="rotate(90 384.9 599)">G</text>
<text x="399.5" y="599" font-size="7.5" text-anchor="middle" font-weight="normal" fill="#c9cbbd" transform="rotate(90 399.5 599)">F</text>
<text x="414" y="599" font-size="7.5" text-anchor="middle" font-weight="normal" fill="#c9cbbd" transform="rotate(90 414 599)">E</text>
<text x="428.6" y="599" font-size="7.5" text-anchor="middle" font-weight="normal" fill="#c9cbbd" transform="rotate(90 428.6 599)">D</text>
<text x="443.1" y="599" font-size="7.5" text-anchor="middle" font-weight="normal" fill="#c9cbbd" transform="rotate(90 443.1 599)">C</text>
<text x="457.7" y="599" font-size="7.5" text-anchor="middle" font-weight="normal" fill="#c9cbbd" transform="rotate(90 457.7 599)">B</text>
<text x="472.2" y="599" font-size="7.5" text-anchor="middle" font-weight="normal" fill="#c9cbbd" transform="rotate(90 472.2 599)">A</text>
<polygon points="357.8,593.2 366,593.2 357.8,601.5" fill="#8f918a"/>
<circle cx="370.4" cy="611.6" r="6.9" fill="#b5bca5"/>
<circle cx="370.4" cy="611.6" r="6.5" fill="url(#wg)" stroke="#7d846c" stroke-opacity="0.45" stroke-width="0.8"/>
<circle cx="370.4" cy="611.1" r="3.8" fill="none" stroke="#fff" stroke-opacity="0.35" stroke-width="0.8"/>
<circle cx="370.4" cy="625.9" r="6.9" fill="#bfc79c"/>
<circle cx="370.4" cy="625.9" r="6.5" fill="url(#wg)" stroke="#7d846c" stroke-opacity="0.45" stroke-width="0.8"/>
<circle cx="370.4" cy="625.4" r="3.8" fill="none" stroke="#fff" stroke-opacity="0.35" stroke-width="0.8"/>
<circle cx="370.4" cy="639.2" r="6.9" fill="#c9d27a"/>
<circle cx="370.4" cy="639.2" r="6.5" fill="url(#wg)" stroke="#7d846c" stroke-opacity="0.45" stroke-width="0.8"/>
<circle cx="370.4" cy="638.7" r="3.8" fill="none" stroke="#fff" stroke-opacity="0.35" stroke-width="0.8"/>
<circle cx="384.9" cy="611.6" r="6.9" fill="#bcc3a2"/>
<circle cx="384.9" cy="611.6" r="6.5" fill="url(#wg)" stroke="#7d846c" stroke-opacity="0.45" stroke-width="0.8"/>
<circle cx="384.9" cy="611.1" r="3.8" fill="none" stroke="#fff" stroke-opacity="0.35" stroke-width="0.8"/>
<circle cx="384.9" cy="625.9" r="6.9" fill="#c6cda5"/>
<circle cx="384.9" cy="625.9" r="6.5" fill="url(#wg)" stroke="#7d846c" stroke-opacity="0.45" stroke-width="0.8"/>
<circle cx="384.9" cy="625.4" r="3.8" fill="none" stroke="#fff" stroke-opacity="0.35" stroke-width="0.8"/>
<circle cx="384.9" cy="639.2" r="6.9" fill="#cdd58c"/>
<circle cx="384.9" cy="639.2" r="6.5" fill="url(#wg)" stroke="#7d846c" stroke-opacity="0.45" stroke-width="0.8"/>
<circle cx="384.9" cy="638.7" r="3.8" fill="none" stroke="#fff" stroke-opacity="0.35" stroke-width="0.8"/>
<circle cx="399.5" cy="611.6" r="6.9" fill="#c3cb90"/>
<circle cx="399.5" cy="611.6" r="6.5" fill="url(#wg)" stroke="#7d846c" stroke-opacity="0.45" stroke-width="0.8"/>
<circle cx="399.5" cy="611.1" r="3.8" fill="none" stroke="#fff" stroke-opacity="0.35" stroke-width="0.8"/>
<circle cx="399.5" cy="625.9" r="6.9" fill="#c8cfaa"/>
<circle cx="399.5" cy="625.9" r="6.5" fill="url(#wg)" stroke="#7d846c" stroke-opacity="0.45" stroke-width="0.8"/>
<circle cx="399.5" cy="625.4" r="3.8" fill="none" stroke="#fff" stroke-opacity="0.35" stroke-width="0.8"/>
<circle cx="399.5" cy="639.2" r="6.9" fill="#cfd696"/>
<circle cx="399.5" cy="639.2" r="6.5" fill="url(#wg)" stroke="#7d846c" stroke-opacity="0.45" stroke-width="0.8"/>
<circle cx="399.5" cy="638.7" r="3.8" fill="none" stroke="#fff" stroke-opacity="0.35" stroke-width="0.8"/>
<circle cx="414" cy="611.6" r="6.9" fill="#c5d070"/>
<circle cx="414" cy="611.6" r="6.5" fill="url(#wg)" stroke="#7d846c" stroke-opacity="0.45" stroke-width="0.8"/>
<circle cx="414" cy="611.1" r="3.8" fill="none" stroke="#fff" stroke-opacity="0.35" stroke-width="0.8"/>
<circle cx="414" cy="625.9" r="6.9" fill="#cad0ae"/>
<circle cx="414" cy="625.9" r="6.5" fill="url(#wg)" stroke="#7d846c" stroke-opacity="0.45" stroke-width="0.8"/>
<circle cx="414" cy="625.4" r="3.8" fill="none" stroke="#fff" stroke-opacity="0.35" stroke-width="0.8"/>
<circle cx="414" cy="639.2" r="6.9" fill="#d0d79c"/>
<circle cx="414" cy="639.2" r="6.5" fill="url(#wg)" stroke="#7d846c" stroke-opacity="0.45" stroke-width="0.8"/>
<circle cx="414" cy="638.7" r="3.8" fill="none" stroke="#fff" stroke-opacity="0.35" stroke-width="0.8"/>
<circle cx="428.6" cy="611.6" r="6.9" fill="#c6d25a"/>
<circle cx="428.6" cy="611.6" r="6.5" fill="url(#wg)" stroke="#7d846c" stroke-opacity="0.45" stroke-width="0.8"/>
<circle cx="428.6" cy="611.1" r="3.8" fill="none" stroke="#fff" stroke-opacity="0.35" stroke-width="0.8"/>
<circle cx="428.6" cy="625.9" r="6.9" fill="#cdd2b2"/>
<circle cx="428.6" cy="625.9" r="6.5" fill="url(#wg)" stroke="#7d846c" stroke-opacity="0.45" stroke-width="0.8"/>
<circle cx="428.6" cy="625.4" r="3.8" fill="none" stroke="#fff" stroke-opacity="0.35" stroke-width="0.8"/>
<circle cx="428.6" cy="639.2" r="6.9" fill="#d0d69c"/>
<circle cx="428.6" cy="639.2" r="6.5" fill="url(#wg)" stroke="#7d846c" stroke-opacity="0.45" stroke-width="0.8"/>
<circle cx="428.6" cy="638.7" r="3.8" fill="none" stroke="#fff" stroke-opacity="0.35" stroke-width="0.8"/>
<circle cx="443.1" cy="611.6" r="6.9" fill="#c4d048"/>
<circle cx="443.1" cy="611.6" r="6.5" fill="url(#wg)" stroke="#7d846c" stroke-opacity="0.45" stroke-width="0.8"/>
<circle cx="443.1" cy="611.1" r="3.8" fill="none" stroke="#fff" stroke-opacity="0.35" stroke-width="0.8"/>
<circle cx="443.1" cy="625.9" r="6.9" fill="#ced3b4"/>
<circle cx="443.1" cy="625.9" r="6.5" fill="url(#wg)" stroke="#7d846c" stroke-opacity="0.45" stroke-width="0.8"/>
<circle cx="443.1" cy="625.4" r="3.8" fill="none" stroke="#fff" stroke-opacity="0.35" stroke-width="0.8"/>
<circle cx="443.1" cy="639.2" r="6.9" fill="#d1d7a0"/>
<circle cx="443.1" cy="639.2" r="6.5" fill="url(#wg)" stroke="#7d846c" stroke-opacity="0.45" stroke-width="0.8"/>
<circle cx="443.1" cy="638.7" r="3.8" fill="none" stroke="#fff" stroke-opacity="0.35" stroke-width="0.8"/>
<circle cx="457.7" cy="611.6" r="6.9" fill="#c2cc40"/>
<circle cx="457.7" cy="611.6" r="6.5" fill="url(#wg)" stroke="#7d846c" stroke-opacity="0.45" stroke-width="0.8"/>
<circle cx="457.7" cy="611.1" r="3.8" fill="none" stroke="#fff" stroke-opacity="0.35" stroke-width="0.8"/>
<circle cx="457.7" cy="625.9" r="6.9" fill="#cdd2b0"/>
<circle cx="457.7" cy="625.9" r="6.5" fill="url(#wg)" stroke="#7d846c" stroke-opacity="0.45" stroke-width="0.8"/>
<circle cx="457.7" cy="625.4" r="3.8" fill="none" stroke="#fff" stroke-opacity="0.35" stroke-width="0.8"/>
<circle cx="457.7" cy="639.2" r="6.9" fill="#cfd598"/>
<circle cx="457.7" cy="639.2" r="6.5" fill="url(#wg)" stroke="#7d846c" stroke-opacity="0.45" stroke-width="0.8"/>
<circle cx="457.7" cy="638.7" r="3.8" fill="none" stroke="#fff" stroke-opacity="0.35" stroke-width="0.8"/>
<circle cx="472.2" cy="611.6" r="6.9" fill="#bcc63c"/>
<circle cx="472.2" cy="611.6" r="6.5" fill="url(#wg)" stroke="#7d846c" stroke-opacity="0.45" stroke-width="0.8"/>
<circle cx="472.2" cy="611.1" r="3.8" fill="none" stroke="#fff" stroke-opacity="0.35" stroke-width="0.8"/>
<circle cx="472.2" cy="625.9" r="6.9" fill="#cacfa8"/>
<circle cx="472.2" cy="625.9" r="6.5" fill="url(#wg)" stroke="#7d846c" stroke-opacity="0.45" stroke-width="0.8"/>
<circle cx="472.2" cy="625.4" r="3.8" fill="none" stroke="#fff" stroke-opacity="0.35" stroke-width="0.8"/>
<circle cx="472.2" cy="639.2" r="6.9" fill="#cbd28c"/>
<circle cx="472.2" cy="639.2" r="6.5" fill="url(#wg)" stroke="#7d846c" stroke-opacity="0.45" stroke-width="0.8"/>
<circle cx="472.2" cy="638.7" r="3.8" fill="none" stroke="#fff" stroke-opacity="0.35" stroke-width="0.8"/>
<text x="356.3" y="615.1" font-size="10.4" text-anchor="end" fill="#1a1a1a">Standard curve</text>
<text x="353" y="629.7" font-size="10.4" text-anchor="end" fill="#1a1a1a">SCR</text>
<text x="355.2" y="644.3" font-size="10.4" text-anchor="end" fill="#1a1a1a">APOA2</text>
<line x1="204.5" y1="658.8" x2="204.5" y2="754.2" stroke="#9a9a9a" stroke-width="1"/>
<line x1="201" y1="754.2" x2="204.5" y2="754.2" stroke="#9a9a9a" stroke-width="1"/>
<text x="200.2" y="757.8" font-size="10.4" text-anchor="end" fill="#1a1a1a">0</text>
<line x1="201" y1="722.4" x2="204.5" y2="722.4" stroke="#9a9a9a" stroke-width="1"/>
<text x="200.2" y="726" font-size="10.4" text-anchor="end" fill="#1a1a1a">200</text>
<line x1="201" y1="690.6" x2="204.5" y2="690.6" stroke="#9a9a9a" stroke-width="1"/>
<text x="200.2" y="694.2" font-size="10.4" text-anchor="end" fill="#1a1a1a">400</text>
<line x1="201" y1="658.8" x2="204.5" y2="658.8" stroke="#9a9a9a" stroke-width="1"/>
<text x="200.2" y="662.4" font-size="10.4" text-anchor="end" fill="#1a1a1a">600</text>
<rect x="215" y="747.8" width="16" height="6.4" fill="#fff" stroke="#5065c2" stroke-width="1.4"/>
<rect x="242.2" y="677.9" width="16.4" height="76.3" fill="#fff" stroke="#e8523c" stroke-width="1.4"/>
<line x1="250.4" y1="671.5" x2="250.4" y2="677.9" stroke="#e8523c" stroke-width="1"/>
<line x1="247.4" y1="671.5" x2="253.4" y2="671.5" stroke="#e8523c" stroke-width="1"/>
<circle cx="217.2" cy="747.6" r="1.8" fill="#5065c2"/>
<circle cx="221.6" cy="747.4" r="1.8" fill="#5065c2"/>
<circle cx="225.9" cy="748" r="1.8" fill="#5065c2"/>
<circle cx="230" cy="748.2" r="1.8" fill="#5065c2"/>
<rect x="248.3" y="671.4" width="2.8" height="2.8" fill="#fff" stroke="#e8523c" stroke-width="1"/>
<rect x="250.9" y="676.2" width="2.8" height="2.8" fill="#fff" stroke="#e8523c" stroke-width="1"/>
<rect x="248.3" y="684.5" width="2.8" height="2.8" fill="#fff" stroke="#e8523c" stroke-width="1"/>
<rect x="246.4" y="674.6" width="2.8" height="2.8" fill="#fff" stroke="#e8523c" stroke-width="1"/>
<line x1="204.5" y1="754.2" x2="268.1" y2="754.2" stroke="#555" stroke-width="1"/>
<line x1="223.3" y1="754.2" x2="223.3" y2="757.5" stroke="#777" stroke-width="1"/>
<line x1="250.5" y1="754.2" x2="250.5" y2="757.5" stroke="#777" stroke-width="1"/>
<line x1="221.8" y1="668.7" x2="250.1" y2="668.7" stroke="#666" stroke-width="1.2"/>
<text x="235.8" y="668.5" font-size="9.5" text-anchor="middle" fill="#1a1a1a">*</text>
<text x="221.8" y="767.7" font-size="10.4" text-anchor="middle" fill="#1a1a1a">SCR</text>
<text x="253.6" y="767.7" font-size="10.4" text-anchor="middle" fill="#1a1a1a">APOA2</text>
<line x1="199.3" y1="773.3" x2="272.5" y2="773.3" stroke="#444" stroke-width="1"/>
<text x="234.2" y="783.5" font-size="10.4" text-anchor="middle" fill="#1a1a1a">Cell culture medium</text>
<text x="177.5" y="705.4" font-size="10.8" text-anchor="middle" fill="#1a1a1a" transform="rotate(-90 177.5 705.4)">TGFβ1(pg/ml)</text>
<line x1="394.4" y1="657.3" x2="394.4" y2="759.5" stroke="#555" stroke-width="1"/>
<line x1="390.4" y1="759.5" x2="394.4" y2="759.5" stroke="#555" stroke-width="1"/>
<text x="390.4" y="762.9" font-size="9.6" text-anchor="end" fill="#1a1a1a">0</text>
<line x1="390.4" y1="734" x2="394.4" y2="734" stroke="#555" stroke-width="1"/>
<text x="390.4" y="737.4" font-size="9.6" text-anchor="end" fill="#1a1a1a">2</text>
<line x1="390.4" y1="708.4" x2="394.4" y2="708.4" stroke="#555" stroke-width="1"/>
<text x="390.4" y="711.8" font-size="9.6" text-anchor="end" fill="#1a1a1a">4</text>
<line x1="390.4" y1="682.9" x2="394.4" y2="682.9" stroke="#555" stroke-width="1"/>
<text x="390.4" y="686.3" font-size="9.6" text-anchor="end" fill="#1a1a1a">6</text>
<line x1="390.4" y1="657.3" x2="394.4" y2="657.3" stroke="#555" stroke-width="1"/>
<text x="390.4" y="660.7" font-size="9.6" text-anchor="end" fill="#1a1a1a">8</text>
<rect x="404.9" y="731.4" width="17.8" height="28.1" fill="#fff" stroke="#5065c2" stroke-width="1.4"/>
<line x1="413.8" y1="721.2" x2="413.8" y2="731.4" stroke="#5065c2" stroke-width="1"/>
<line x1="409.4" y1="721.2" x2="417.6" y2="721.2" stroke="#5065c2" stroke-width="1.2"/>
<rect x="433.4" y="697.6" width="18.2" height="61.9" fill="#fff" stroke="#e8523c" stroke-width="1.4"/>
<line x1="443.2" y1="679.7" x2="443.2" y2="697.6" stroke="#e8523c" stroke-width="1"/>
<line x1="439.2" y1="679.7" x2="447.2" y2="679.7" stroke="#e8523c" stroke-width="1.2"/>
<circle cx="414.1" cy="716.9" r="1.6" fill="#5065c2"/>
<circle cx="407.1" cy="726.7" r="1.6" fill="#5065c2"/>
<circle cx="414.1" cy="725.7" r="1.6" fill="#5065c2"/>
<circle cx="420.4" cy="723.6" r="1.6" fill="#5065c2"/>
<circle cx="413.8" cy="733.7" r="1.6" fill="#5065c2"/>
<circle cx="410.3" cy="737.6" r="1.6" fill="#5065c2"/>
<circle cx="415.2" cy="738.4" r="1.6" fill="#5065c2"/>
<circle cx="416.9" cy="744.9" r="1.6" fill="#5065c2"/>
<rect x="435" y="685.3" width="3" height="3" fill="#fff" stroke="#e8523c" stroke-width="1.1"/>
<rect x="441.7" y="678.3" width="3" height="3" fill="#fff" stroke="#e8523c" stroke-width="1.1"/>
<rect x="441.7" y="681.4" width="3" height="3" fill="#fff" stroke="#e8523c" stroke-width="1.1"/>
<rect x="448.5" y="681.2" width="3" height="3" fill="#fff" stroke="#e8523c" stroke-width="1.1"/>
<rect x="441.7" y="691.4" width="3" height="3" fill="#fff" stroke="#e8523c" stroke-width="1.1"/>
<rect x="438.2" y="715.4" width="3" height="3" fill="#fff" stroke="#e8523c" stroke-width="1.1"/>
<rect x="441.7" y="714.3" width="3" height="3" fill="#fff" stroke="#e8523c" stroke-width="1.1"/>
<rect x="445" y="719.4" width="3" height="3" fill="#fff" stroke="#e8523c" stroke-width="1.1"/>
<line x1="394" y1="759.5" x2="462.5" y2="759.5" stroke="#555" stroke-width="1"/>
<line x1="413.8" y1="759.5" x2="413.8" y2="763" stroke="#555" stroke-width="1"/>
<line x1="443.2" y1="759.5" x2="443.2" y2="763" stroke="#555" stroke-width="1"/>
<line x1="415.5" y1="672.2" x2="442.2" y2="672.2" stroke="#555" stroke-width="1"/>
<text x="429.5" y="672.5" font-size="9.5" text-anchor="middle" fill="#1a1a1a">*</text>
<text x="411.4" y="772.9" font-size="10.4" text-anchor="middle" fill="#1a1a1a">SCR</text>
<text x="444" y="772.9" font-size="10.4" text-anchor="middle" fill="#1a1a1a">APOA2</text>
<line x1="390.1" y1="775.7" x2="463.7" y2="775.7" stroke="#444" stroke-width="1"/>
<text x="428.6" y="786.3" font-size="10.4" text-anchor="middle" fill="#1a1a1a">Serum</text>
<text x="381.2" y="709" font-size="10.8" text-anchor="middle" fill="#1a1a1a" transform="rotate(-90 381.2 709)">TGFβ1(pg/ml)</text>
<text x="137.5" y="595.5" font-size="24" fill="#231815">g</text>
<defs><filter id="bl" x="-20%" y="-100%" width="140%" height="300%"><feGaussianBlur stdDeviation="1.1 0.8"/></filter><filter id="bl2" x="-20%" y="-20%" width="140%" height="140%"><feGaussianBlur stdDeviation="1.5"/></filter></defs>
<rect x="544.2" y="601.6" width="51.1" height="22.6" fill="#c8c8c8"/>
<rect x="601.2" y="601.6" width="50.6" height="22.6" fill="#d8d8d8"/>
<rect x="544.2" y="628.6" width="51.1" height="21.4" fill="#d0d0d0"/>
<rect x="601.2" y="628.6" width="50.6" height="21.4" fill="#d2d2d2"/>
<rect x="544.2" y="653.2" width="51.1" height="18.8" fill="#d4d4d4"/>
<rect x="601.2" y="653.2" width="50.6" height="18.8" fill="#d7d7d7"/>
<rect x="544.2" y="676.4" width="51.1" height="21.4" fill="#d3d3d3"/>
<rect x="601.2" y="676.4" width="50.6" height="21.4" fill="#d6d6d6"/>
<rect x="544.2" y="702" width="51.1" height="21.4" fill="#d2d2d2"/>
<rect x="601.2" y="702" width="50.6" height="21.4" fill="#d5d5d5"/>
<rect x="546.5" y="603.1" width="20" height="19.6" fill="#000" opacity="0.16" filter="url(#bl2)"/>
<rect x="570.5" y="603.1" width="22" height="19.6" fill="#000" opacity="0.2" filter="url(#bl2)"/>
<rect x="603.5" y="603.1" width="20" height="19.6" fill="#000" opacity="0.03" filter="url(#bl2)"/>
<rect x="627.5" y="603.1" width="22.5" height="19.6" fill="#000" opacity="0.06" filter="url(#bl2)"/>
<rect x="546.5" y="630.1" width="20" height="18.4" fill="#000" opacity="0.05" filter="url(#bl2)"/>
<rect x="570.5" y="630.1" width="22" height="18.4" fill="#000" opacity="0.07" filter="url(#bl2)"/>
<rect x="603.5" y="630.1" width="20" height="18.4" fill="#000" opacity="0.05" filter="url(#bl2)"/>
<rect x="627.5" y="630.1" width="22.5" height="18.4" fill="#000" opacity="0.08" filter="url(#bl2)"/>
<rect x="546.5" y="654.7" width="20" height="15.8" fill="#000" opacity="0.07" filter="url(#bl2)"/>
<rect x="570.5" y="654.7" width="22" height="15.8" fill="#000" opacity="0.06" filter="url(#bl2)"/>
<rect x="603.5" y="654.7" width="20" height="15.8" fill="#000" opacity="0.07" filter="url(#bl2)"/>
<rect x="627.5" y="654.7" width="22.5" height="15.8" fill="#000" opacity="0.06" filter="url(#bl2)"/>
<rect x="546.5" y="677.9" width="20" height="18.4" fill="#000" opacity="0.04" filter="url(#bl2)"/>
<rect x="570.5" y="677.9" width="22" height="18.4" fill="#000" opacity="0.06" filter="url(#bl2)"/>
<rect x="603.5" y="677.9" width="20" height="18.4" fill="#000" opacity="0.03" filter="url(#bl2)"/>
<rect x="627.5" y="677.9" width="22.5" height="18.4" fill="#000" opacity="0.05" filter="url(#bl2)"/>
<rect x="546.5" y="703.5" width="20" height="18.4" fill="#000" opacity="0.03" filter="url(#bl2)"/>
<rect x="570.5" y="703.5" width="22" height="18.4" fill="#000" opacity="0.04" filter="url(#bl2)"/>
<rect x="603.5" y="703.5" width="20" height="18.4" fill="#000" opacity="0.03" filter="url(#bl2)"/>
<rect x="627.5" y="703.5" width="22.5" height="18.4" fill="#000" opacity="0.04" filter="url(#bl2)"/>
<rect x="547" y="612.5" width="18.9" height="3.3" rx="1.6" fill="#141414" filter="url(#bl)"/>
<rect x="571.5" y="612.1" width="19.7" height="4.3" rx="2.1" fill="#141414" filter="url(#bl)"/>
<rect x="605.7" y="612.5" width="17" height="3.1" rx="1.5" fill="#141414" filter="url(#bl)"/>
<rect x="632.5" y="612.1" width="17" height="3.7" rx="1.9" fill="#141414" filter="url(#bl)"/>
<rect x="545.6" y="637.5" width="18" height="3.5" rx="1.8" fill="#141414" filter="url(#bl)"/>
<rect x="569.8" y="637" width="22.4" height="4.5" rx="2.2" fill="#141414" filter="url(#bl)"/>
<rect x="602.7" y="637.2" width="18.8" height="3.9" rx="2" fill="#141414" filter="url(#bl)"/>
<rect x="627.2" y="636.5" width="22.3" height="5.5" rx="2.8" fill="#141414" filter="url(#bl)"/>
<rect x="546" y="659" width="20" height="9" rx="4.5" fill="#bdbdbd" filter="url(#bl)"/>
<rect x="546.5" y="660.1" width="18.5" height="2.2" rx="1.1" fill="#7e7e7e" filter="url(#bl)"/>
<rect x="546.5" y="665.8" width="18.5" height="2" rx="1" fill="#8e8e8e" filter="url(#bl)"/>
<rect x="571.2" y="661.5" width="20.5" height="5.5" rx="2.8" fill="#141414" filter="url(#bl)"/>
<rect x="603.5" y="659.5" width="19.5" height="9" rx="4.5" fill="#c2c2c2" filter="url(#bl)"/>
<rect x="604" y="660.4" width="18" height="2.2" rx="1.1" fill="#8a8a8a" filter="url(#bl)"/>
<rect x="604" y="665.8" width="18" height="2" rx="1" fill="#959595" filter="url(#bl)"/>
<rect x="629.3" y="661.4" width="19.7" height="5.7" rx="2.9" fill="#141414" filter="url(#bl)"/>
<rect x="544.6" y="685.8" width="21.3" height="3.5" rx="1.8" fill="#141414" filter="url(#bl)"/>
<rect x="570.1" y="684.8" width="21.6" height="5.5" rx="2.8" fill="#141414" filter="url(#bl)"/>
<rect x="571" y="680.1" width="20" height="1.5" rx="0.8" fill="#a8a8a8" filter="url(#bl)"/>
<rect x="603" y="685.2" width="19.3" height="4.3" rx="2.1" fill="#141414" filter="url(#bl)"/>
<rect x="626.2" y="684.8" width="24.2" height="5.5" rx="2.8" fill="#141414" filter="url(#bl)"/>
<rect x="547" y="710.4" width="19.3" height="4.5" rx="2.2" fill="#141414" filter="url(#bl)"/>
<rect x="573.6" y="710.4" width="18.6" height="4.5" rx="2.2" fill="#141414" filter="url(#bl)"/>
<rect x="604.5" y="709.9" width="21.3" height="5" rx="2.5" fill="#141414" filter="url(#bl)"/>
<rect x="630.2" y="710" width="18.8" height="5" rx="2.5" fill="#141414" filter="url(#bl)"/>
<text x="542.9" y="618.4" font-size="10.1" text-anchor="end" fill="#1a1a1a">P-TGFβR1</text>
<text x="542.9" y="643.2" font-size="10.4" text-anchor="end" fill="#1a1a1a">TGFβR1</text>
<text x="542.9" y="666.8" font-size="10.1" text-anchor="end" fill="#1a1a1a">P-TGFβR2</text>
<text x="542.9" y="691.6" font-size="10.4" text-anchor="end" fill="#1a1a1a">TGFβR2</text>
<text x="542.9" y="715.6" font-size="10.4" text-anchor="end" fill="#1a1a1a">β-actin</text>
<text x="652.6" y="617.2" font-size="10.4" fill="#1a1a1a">56kDa</text>
<text x="652.6" y="643.2" font-size="10.4" fill="#1a1a1a">56kDa</text>
<text x="652.6" y="665.6" font-size="10.4" fill="#1a1a1a">65kDa</text>
<text x="652.6" y="691.6" font-size="10.4" fill="#1a1a1a">65kDa</text>
<text x="652.6" y="715.6" font-size="10.4" fill="#1a1a1a">43kDa</text>
<text x="562.9" y="731.7" font-size="10.4" text-anchor="end" fill="#1a1a1a" transform="rotate(-45 562.9 731.7)">SCR</text>
<text x="587.1" y="731.7" font-size="10.4" text-anchor="end" fill="#1a1a1a" transform="rotate(-45 587.1 731.7)">APOA2</text>
<text x="619.8" y="731.7" font-size="10.4" text-anchor="end" fill="#1a1a1a" transform="rotate(-45 619.8 731.7)">SCR</text>
<text x="644" y="731.7" font-size="10.4" text-anchor="end" fill="#1a1a1a" transform="rotate(-45 644 731.7)">APOA2</text>
<line x1="541.2" y1="758.7" x2="588.2" y2="758.7" stroke="#444" stroke-width="1"/>
<line x1="595.3" y1="758.7" x2="654.5" y2="758.7" stroke="#444" stroke-width="1"/>
<text x="562.2" y="768.8" font-size="10.4" text-anchor="middle" fill="#1a1a1a">Cell</text>
<text x="627.5" y="768.8" font-size="10.4" text-anchor="middle" fill="#1a1a1a">Tumor tissue</text>
<line x1="541.8" y1="773.1" x2="661.4" y2="773.1" stroke="#444" stroke-width="1"/>
<text x="598.2" y="783.9" font-size="10.4" text-anchor="middle" fill="#1a1a1a">MHCC97H</text>
<text x="499.5" y="600.5" font-size="24" fill="#231815">h</text>
</svg>
</body></html>
